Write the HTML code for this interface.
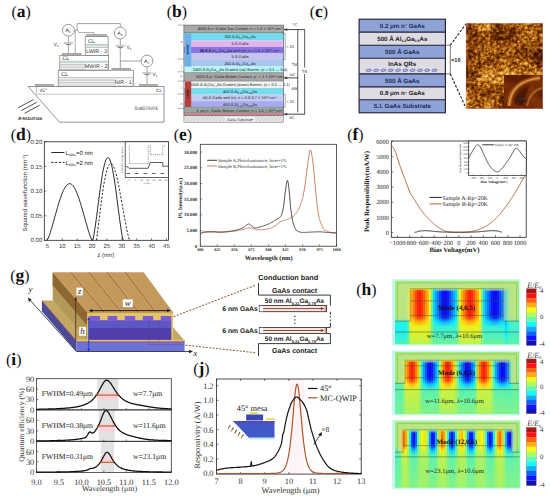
<!DOCTYPE html>
<html><head><meta charset="utf-8"><style>
html,body{margin:0;padding:0;background:#fff;}
svg{display:block;}
svg text{text-rendering:geometricPrecision;}

</style></head><body>
<svg width="550" height="498" viewBox="0 0 550 498">
<defs><pattern id="hatch" width="3" height="3" patternUnits="userSpaceOnUse" patternTransform="rotate(35)"><rect width="3" height="3" fill="#e6e6e6"/><line x1="0" y1="0" x2="0" y2="3" stroke="#b0b0b0" stroke-width="0.8"/></pattern>
<filter id="afm" x="0" y="0" width="1" height="1" color-interpolation-filters="sRGB">
<feTurbulence type="fractalNoise" baseFrequency="0.045" numOctaves="2" seed="5" result="lo0"/>
<feColorMatrix in="lo0" type="matrix" values="1 0 0 0 0  1 0 0 0 0  1 0 0 0 0  0 0 0 0 1" result="lo"/>
<feTurbulence type="fractalNoise" baseFrequency="0.32" numOctaves="2" seed="11" result="hi0"/>
<feColorMatrix in="hi0" type="matrix" values="1 0 0 0 0  1 0 0 0 0  1 0 0 0 0  0 0 0 0 1" result="hi"/>
<feComposite in="lo" in2="hi" operator="arithmetic" k1="0" k2="1.0" k3="1.1" k4="-0.5" result="mix"/>
<feColorMatrix in="mix" type="matrix" values="1 0 0 0 0  1 0 0 0 0  1 0 0 0 0  0 0 0 0 1" result="g"/>
<feComponentTransfer in="g"><feFuncR type="table" tableValues="0.18 0.25 0.36 0.5 0.65 0.8 0.9 0.96"/><feFuncG type="table" tableValues="0.06 0.09 0.14 0.23 0.36 0.52 0.67 0.8"/><feFuncB type="table" tableValues="0 0.01 0.02 0.03 0.07 0.14 0.27 0.42"/></feComponentTransfer>
</filter>
<filter id="afm2" x="0" y="0" width="1" height="1" color-interpolation-filters="sRGB">
<feTurbulence type="fractalNoise" baseFrequency="0.07" numOctaves="2" seed="3" result="n"/>
<feColorMatrix in="n" type="matrix" values="1 0 0 0 0  1 0 0 0 0  1 0 0 0 0  0 0 0 0 1" result="g"/>
<feComponentTransfer in="g"><feFuncR type="table" tableValues="0.3 0.38 0.5 0.66"/><feFuncG type="table" tableValues="0.08 0.12 0.2 0.32"/><feFuncB type="table" tableValues="0 0.01 0.03 0.05"/></feComponentTransfer>
</filter>
<linearGradient id="h1" x2="0" y2="1"><stop offset="0.000" stop-color="#99f272"/><stop offset="0.091" stop-color="#99f272"/><stop offset="0.123" stop-color="#99f272"/><stop offset="0.155" stop-color="#99f272"/><stop offset="0.202" stop-color="#99f272"/><stop offset="0.353" stop-color="#99f272"/><stop offset="0.536" stop-color="#99f272"/><stop offset="0.584" stop-color="#99f272"/><stop offset="0.647" stop-color="#20f2ec"/><stop offset="0.726" stop-color="#20f2ec"/><stop offset="0.820" stop-color="#21f2eb"/><stop offset="0.874" stop-color="#2ef2de"/><stop offset="1.000" stop-color="#51f2bb"/></linearGradient>
<linearGradient id="h2" x2="0" y2="1"><stop offset="0.000" stop-color="#99f272"/><stop offset="0.091" stop-color="#99f272"/><stop offset="0.123" stop-color="#99f272"/><stop offset="0.155" stop-color="#99f272"/><stop offset="0.202" stop-color="#99f272"/><stop offset="0.353" stop-color="#99f272"/><stop offset="0.536" stop-color="#99f272"/><stop offset="0.584" stop-color="#99f272"/><stop offset="0.647" stop-color="#20f2ec"/><stop offset="0.726" stop-color="#20f2ec"/><stop offset="0.820" stop-color="#21f2eb"/><stop offset="0.874" stop-color="#2ef2de"/><stop offset="1.000" stop-color="#51f2bb"/></linearGradient>
<linearGradient id="h3" x2="0" y2="1"><stop offset="0.000" stop-color="#99f272"/><stop offset="0.091" stop-color="#99f272"/><stop offset="0.123" stop-color="#99f272"/><stop offset="0.155" stop-color="#99f272"/><stop offset="0.202" stop-color="#99f272"/><stop offset="0.353" stop-color="#99f272"/><stop offset="0.536" stop-color="#99f272"/><stop offset="0.584" stop-color="#99f272"/><stop offset="0.647" stop-color="#20f2ec"/><stop offset="0.726" stop-color="#20f2ec"/><stop offset="0.820" stop-color="#21f2eb"/><stop offset="0.874" stop-color="#2ef2de"/><stop offset="1.000" stop-color="#51f2bb"/></linearGradient>
<linearGradient id="h4" x2="0" y2="1"><stop offset="0.000" stop-color="#99f272"/><stop offset="0.091" stop-color="#99f272"/><stop offset="0.123" stop-color="#99f272"/><stop offset="0.155" stop-color="#99f272"/><stop offset="0.202" stop-color="#99f272"/><stop offset="0.353" stop-color="#99f272"/><stop offset="0.536" stop-color="#99f272"/><stop offset="0.584" stop-color="#99f272"/><stop offset="0.647" stop-color="#20f2ec"/><stop offset="0.726" stop-color="#20f2ec"/><stop offset="0.820" stop-color="#21f2eb"/><stop offset="0.874" stop-color="#2ef2de"/><stop offset="1.000" stop-color="#51f2bb"/></linearGradient>
<linearGradient id="h5" x2="0" y2="1"><stop offset="0.000" stop-color="#99f272"/><stop offset="0.091" stop-color="#99f272"/><stop offset="0.123" stop-color="#99f272"/><stop offset="0.155" stop-color="#9af272"/><stop offset="0.202" stop-color="#9af272"/><stop offset="0.353" stop-color="#9af272"/><stop offset="0.536" stop-color="#9af272"/><stop offset="0.584" stop-color="#9af272"/><stop offset="0.647" stop-color="#20f2eb"/><stop offset="0.726" stop-color="#20f2ec"/><stop offset="0.820" stop-color="#21f2eb"/><stop offset="0.874" stop-color="#2ef2de"/><stop offset="1.000" stop-color="#51f2bb"/></linearGradient>
<linearGradient id="h6" x2="0" y2="1"><stop offset="0.000" stop-color="#99f272"/><stop offset="0.091" stop-color="#99f272"/><stop offset="0.123" stop-color="#9af272"/><stop offset="0.155" stop-color="#9cf26f"/><stop offset="0.202" stop-color="#9cf26f"/><stop offset="0.353" stop-color="#9cf26f"/><stop offset="0.536" stop-color="#9cf26f"/><stop offset="0.584" stop-color="#9cf270"/><stop offset="0.647" stop-color="#21f2ea"/><stop offset="0.726" stop-color="#20f2ec"/><stop offset="0.820" stop-color="#21f2eb"/><stop offset="0.874" stop-color="#2ef2de"/><stop offset="1.000" stop-color="#51f2bb"/></linearGradient>
<linearGradient id="h7" x2="0" y2="1"><stop offset="0.000" stop-color="#99f272"/><stop offset="0.091" stop-color="#99f272"/><stop offset="0.123" stop-color="#a2f26a"/><stop offset="0.155" stop-color="#c1f24a"/><stop offset="0.202" stop-color="#c4f248"/><stop offset="0.353" stop-color="#c4f248"/><stop offset="0.536" stop-color="#c4f248"/><stop offset="0.584" stop-color="#c0f24b"/><stop offset="0.647" stop-color="#51f2ba"/><stop offset="0.726" stop-color="#48f2c4"/><stop offset="0.820" stop-color="#46f2c6"/><stop offset="0.874" stop-color="#4ef2be"/><stop offset="1.000" stop-color="#64f2a8"/></linearGradient>
<linearGradient id="h8" x2="0" y2="1"><stop offset="0.000" stop-color="#99f272"/><stop offset="0.091" stop-color="#99f272"/><stop offset="0.123" stop-color="#b3f258"/><stop offset="0.155" stop-color="#ffdd0d"/><stop offset="0.202" stop-color="#ffd60d"/><stop offset="0.353" stop-color="#ffd60d"/><stop offset="0.536" stop-color="#ffd60d"/><stop offset="0.584" stop-color="#ffe00d"/><stop offset="0.647" stop-color="#e6f226"/><stop offset="0.726" stop-color="#c9f242"/><stop offset="0.820" stop-color="#c0f24c"/><stop offset="0.874" stop-color="#b9f252"/><stop offset="1.000" stop-color="#a8f263"/></linearGradient>
<linearGradient id="h9" x2="0" y2="1"><stop offset="0.000" stop-color="#99f272"/><stop offset="0.091" stop-color="#99f272"/><stop offset="0.123" stop-color="#bef24e"/><stop offset="0.155" stop-color="#ffad0d"/><stop offset="0.202" stop-color="#ffa30d"/><stop offset="0.353" stop-color="#ffa30d"/><stop offset="0.536" stop-color="#ffa40d"/><stop offset="0.584" stop-color="#ffb30d"/><stop offset="0.647" stop-color="#ffdb0d"/><stop offset="0.726" stop-color="#ebf221"/><stop offset="0.820" stop-color="#e0f22c"/><stop offset="0.874" stop-color="#d5f237"/><stop offset="1.000" stop-color="#baf252"/></linearGradient>
<linearGradient id="h10" x2="0" y2="1"><stop offset="0.000" stop-color="#99f272"/><stop offset="0.091" stop-color="#99f272"/><stop offset="0.123" stop-color="#c7f245"/><stop offset="0.155" stop-color="#ff850d"/><stop offset="0.202" stop-color="#ff790d"/><stop offset="0.353" stop-color="#ff790d"/><stop offset="0.536" stop-color="#ff7a0d"/><stop offset="0.584" stop-color="#ff8f0d"/><stop offset="0.647" stop-color="#ffcb0d"/><stop offset="0.726" stop-color="#ebf221"/><stop offset="0.820" stop-color="#e0f22c"/><stop offset="0.874" stop-color="#d5f237"/><stop offset="1.000" stop-color="#baf252"/></linearGradient>
<linearGradient id="h11" x2="0" y2="1"><stop offset="0.000" stop-color="#99f272"/><stop offset="0.091" stop-color="#99f272"/><stop offset="0.123" stop-color="#d1f23b"/><stop offset="0.155" stop-color="#ff580d"/><stop offset="0.202" stop-color="#ff490d"/><stop offset="0.353" stop-color="#ff490d"/><stop offset="0.536" stop-color="#ff4a0d"/><stop offset="0.584" stop-color="#ff670d"/><stop offset="0.647" stop-color="#ffb90d"/><stop offset="0.726" stop-color="#ebf221"/><stop offset="0.820" stop-color="#e0f22c"/><stop offset="0.874" stop-color="#d5f237"/><stop offset="1.000" stop-color="#baf252"/></linearGradient>
<linearGradient id="h12" x2="0" y2="1"><stop offset="0.000" stop-color="#99f272"/><stop offset="0.091" stop-color="#99f272"/><stop offset="0.123" stop-color="#d8f233"/><stop offset="0.155" stop-color="#ff360d"/><stop offset="0.202" stop-color="#ff250d"/><stop offset="0.353" stop-color="#ff250d"/><stop offset="0.536" stop-color="#ff250d"/><stop offset="0.584" stop-color="#ff480d"/><stop offset="0.647" stop-color="#ffac0d"/><stop offset="0.726" stop-color="#ebf221"/><stop offset="0.820" stop-color="#e0f22c"/><stop offset="0.874" stop-color="#d5f237"/><stop offset="1.000" stop-color="#baf252"/></linearGradient>
<linearGradient id="h13" x2="0" y2="1"><stop offset="0.000" stop-color="#99f272"/><stop offset="0.091" stop-color="#99f272"/><stop offset="0.123" stop-color="#daf232"/><stop offset="0.155" stop-color="#ff2e0d"/><stop offset="0.202" stop-color="#ff1d0d"/><stop offset="0.353" stop-color="#ff1d0d"/><stop offset="0.536" stop-color="#ff1d0d"/><stop offset="0.584" stop-color="#ff410d"/><stop offset="0.647" stop-color="#ffa90d"/><stop offset="0.726" stop-color="#ebf221"/><stop offset="0.820" stop-color="#e0f22c"/><stop offset="0.874" stop-color="#d5f237"/><stop offset="1.000" stop-color="#baf252"/></linearGradient>
<linearGradient id="h14" x2="0" y2="1"><stop offset="0.000" stop-color="#99f272"/><stop offset="0.091" stop-color="#99f272"/><stop offset="0.123" stop-color="#d5f237"/><stop offset="0.155" stop-color="#ff440d"/><stop offset="0.202" stop-color="#ff340d"/><stop offset="0.353" stop-color="#ff340d"/><stop offset="0.536" stop-color="#ff350d"/><stop offset="0.584" stop-color="#ff550d"/><stop offset="0.647" stop-color="#ffb20d"/><stop offset="0.726" stop-color="#ebf221"/><stop offset="0.820" stop-color="#e0f22c"/><stop offset="0.874" stop-color="#d5f237"/><stop offset="1.000" stop-color="#baf252"/></linearGradient>
<linearGradient id="h15" x2="0" y2="1"><stop offset="0.000" stop-color="#99f272"/><stop offset="0.091" stop-color="#99f272"/><stop offset="0.123" stop-color="#ccf240"/><stop offset="0.155" stop-color="#ff6e0d"/><stop offset="0.202" stop-color="#ff610d"/><stop offset="0.353" stop-color="#ff610d"/><stop offset="0.536" stop-color="#ff620d"/><stop offset="0.584" stop-color="#ff7b0d"/><stop offset="0.647" stop-color="#ffc20d"/><stop offset="0.726" stop-color="#ebf221"/><stop offset="0.820" stop-color="#e0f22c"/><stop offset="0.874" stop-color="#d5f237"/><stop offset="1.000" stop-color="#baf252"/></linearGradient>
<linearGradient id="h16" x2="0" y2="1"><stop offset="0.000" stop-color="#99f272"/><stop offset="0.091" stop-color="#99f272"/><stop offset="0.123" stop-color="#c2f24a"/><stop offset="0.155" stop-color="#ff9b0d"/><stop offset="0.202" stop-color="#ff900d"/><stop offset="0.353" stop-color="#ff900d"/><stop offset="0.536" stop-color="#ff910d"/><stop offset="0.584" stop-color="#ffa30d"/><stop offset="0.647" stop-color="#ffd40d"/><stop offset="0.726" stop-color="#ebf221"/><stop offset="0.820" stop-color="#e0f22c"/><stop offset="0.874" stop-color="#d5f237"/><stop offset="1.000" stop-color="#baf252"/></linearGradient>
<linearGradient id="h17" x2="0" y2="1"><stop offset="0.000" stop-color="#99f272"/><stop offset="0.091" stop-color="#99f272"/><stop offset="0.123" stop-color="#baf252"/><stop offset="0.155" stop-color="#ffc00d"/><stop offset="0.202" stop-color="#ffb70d"/><stop offset="0.353" stop-color="#ffb70d"/><stop offset="0.536" stop-color="#ffb80d"/><stop offset="0.584" stop-color="#ffc40d"/><stop offset="0.647" stop-color="#ffe40d"/><stop offset="0.726" stop-color="#eaf222"/><stop offset="0.820" stop-color="#dff22d"/><stop offset="0.874" stop-color="#d4f238"/><stop offset="1.000" stop-color="#b9f253"/></linearGradient>
<linearGradient id="h18" x2="0" y2="1"><stop offset="0.000" stop-color="#99f272"/><stop offset="0.091" stop-color="#99f272"/><stop offset="0.123" stop-color="#a9f263"/><stop offset="0.155" stop-color="#e5f227"/><stop offset="0.202" stop-color="#e9f222"/><stop offset="0.353" stop-color="#e9f222"/><stop offset="0.536" stop-color="#e9f223"/><stop offset="0.584" stop-color="#e4f228"/><stop offset="0.647" stop-color="#d6f236"/><stop offset="0.726" stop-color="#c6f246"/><stop offset="0.820" stop-color="#bff24c"/><stop offset="0.874" stop-color="#baf252"/><stop offset="1.000" stop-color="#abf261"/></linearGradient>
<linearGradient id="h19" x2="0" y2="1"><stop offset="0.000" stop-color="#99f272"/><stop offset="0.091" stop-color="#99f272"/><stop offset="0.123" stop-color="#8df27f"/><stop offset="0.155" stop-color="#5ff2ac"/><stop offset="0.202" stop-color="#5cf2b0"/><stop offset="0.353" stop-color="#5cf2b0"/><stop offset="0.536" stop-color="#5cf2b0"/><stop offset="0.584" stop-color="#60f2ab"/><stop offset="0.647" stop-color="#6cf2a0"/><stop offset="0.726" stop-color="#78f293"/><stop offset="0.820" stop-color="#7df28f"/><stop offset="0.874" stop-color="#81f28a"/><stop offset="1.000" stop-color="#8cf27f"/></linearGradient>
<linearGradient id="h20" x2="0" y2="1"><stop offset="0.000" stop-color="#99f272"/><stop offset="0.091" stop-color="#99f272"/><stop offset="0.123" stop-color="#77f295"/><stop offset="0.155" stop-color="#0ddbff"/><stop offset="0.202" stop-color="#0dd2ff"/><stop offset="0.353" stop-color="#0dd2ff"/><stop offset="0.536" stop-color="#0dd2ff"/><stop offset="0.584" stop-color="#0ddeff"/><stop offset="0.647" stop-color="#19f2f2"/><stop offset="0.726" stop-color="#3ff2cd"/><stop offset="0.820" stop-color="#4cf2c0"/><stop offset="0.874" stop-color="#57f2b4"/><stop offset="1.000" stop-color="#76f296"/></linearGradient>
<linearGradient id="h21" x2="0" y2="1"><stop offset="0.000" stop-color="#99f272"/><stop offset="0.091" stop-color="#99f272"/><stop offset="0.123" stop-color="#6df29e"/><stop offset="0.155" stop-color="#0db1ff"/><stop offset="0.202" stop-color="#0da5ff"/><stop offset="0.353" stop-color="#0da5ff"/><stop offset="0.536" stop-color="#0da6ff"/><stop offset="0.584" stop-color="#0db7ff"/><stop offset="0.647" stop-color="#0de7ff"/><stop offset="0.726" stop-color="#35f2d6"/><stop offset="0.820" stop-color="#44f2c8"/><stop offset="0.874" stop-color="#50f2bb"/><stop offset="1.000" stop-color="#72f29a"/></linearGradient>
<linearGradient id="h22" x2="0" y2="1"><stop offset="0.000" stop-color="#99f272"/><stop offset="0.091" stop-color="#99f272"/><stop offset="0.123" stop-color="#64f2a7"/><stop offset="0.155" stop-color="#0d89ff"/><stop offset="0.202" stop-color="#0d7bff"/><stop offset="0.353" stop-color="#0d7bff"/><stop offset="0.536" stop-color="#0d7bff"/><stop offset="0.584" stop-color="#0d93ff"/><stop offset="0.647" stop-color="#0dd7ff"/><stop offset="0.726" stop-color="#35f2d6"/><stop offset="0.820" stop-color="#44f2c8"/><stop offset="0.874" stop-color="#50f2bb"/><stop offset="1.000" stop-color="#72f29a"/></linearGradient>
<linearGradient id="h23" x2="0" y2="1"><stop offset="0.000" stop-color="#99f272"/><stop offset="0.091" stop-color="#99f272"/><stop offset="0.123" stop-color="#5af2b2"/><stop offset="0.155" stop-color="#0d5aff"/><stop offset="0.202" stop-color="#0d49ff"/><stop offset="0.353" stop-color="#0d49ff"/><stop offset="0.536" stop-color="#0d4aff"/><stop offset="0.584" stop-color="#0d69ff"/><stop offset="0.647" stop-color="#0dc5ff"/><stop offset="0.726" stop-color="#35f2d6"/><stop offset="0.820" stop-color="#44f2c8"/><stop offset="0.874" stop-color="#50f2bb"/><stop offset="1.000" stop-color="#72f29a"/></linearGradient>
<linearGradient id="h24" x2="0" y2="1"><stop offset="0.000" stop-color="#99f272"/><stop offset="0.091" stop-color="#99f272"/><stop offset="0.123" stop-color="#51f2bb"/><stop offset="0.155" stop-color="#0d2fff"/><stop offset="0.202" stop-color="#0d1bff"/><stop offset="0.353" stop-color="#0d1bff"/><stop offset="0.536" stop-color="#0d1cff"/><stop offset="0.584" stop-color="#0d43ff"/><stop offset="0.647" stop-color="#0db3ff"/><stop offset="0.726" stop-color="#35f2d6"/><stop offset="0.820" stop-color="#44f2c8"/><stop offset="0.874" stop-color="#50f2bb"/><stop offset="1.000" stop-color="#72f29a"/></linearGradient>
<linearGradient id="h25" x2="0" y2="1"><stop offset="0.000" stop-color="#99f272"/><stop offset="0.091" stop-color="#99f272"/><stop offset="0.123" stop-color="#4bf2c1"/><stop offset="0.155" stop-color="#0d15ff"/><stop offset="0.202" stop-color="#0d0cf2"/><stop offset="0.353" stop-color="#0d0cf2"/><stop offset="0.536" stop-color="#0d0cf3"/><stop offset="0.584" stop-color="#0d2cff"/><stop offset="0.647" stop-color="#0da9ff"/><stop offset="0.726" stop-color="#35f2d6"/><stop offset="0.820" stop-color="#44f2c8"/><stop offset="0.874" stop-color="#50f2bb"/><stop offset="1.000" stop-color="#72f29a"/></linearGradient>
<linearGradient id="h26" x2="0" y2="1"><stop offset="0.000" stop-color="#99f272"/><stop offset="0.091" stop-color="#99f272"/><stop offset="0.123" stop-color="#4bf2c1"/><stop offset="0.155" stop-color="#0d15ff"/><stop offset="0.202" stop-color="#0d0cf2"/><stop offset="0.353" stop-color="#0d0cf2"/><stop offset="0.536" stop-color="#0d0cf3"/><stop offset="0.584" stop-color="#0d2cff"/><stop offset="0.647" stop-color="#0da9ff"/><stop offset="0.726" stop-color="#35f2d6"/><stop offset="0.820" stop-color="#44f2c8"/><stop offset="0.874" stop-color="#50f2bb"/><stop offset="1.000" stop-color="#72f29a"/></linearGradient>
<linearGradient id="h27" x2="0" y2="1"><stop offset="0.000" stop-color="#99f272"/><stop offset="0.091" stop-color="#99f272"/><stop offset="0.123" stop-color="#51f2bb"/><stop offset="0.155" stop-color="#0d2fff"/><stop offset="0.202" stop-color="#0d1bff"/><stop offset="0.353" stop-color="#0d1bff"/><stop offset="0.536" stop-color="#0d1cff"/><stop offset="0.584" stop-color="#0d43ff"/><stop offset="0.647" stop-color="#0db3ff"/><stop offset="0.726" stop-color="#35f2d6"/><stop offset="0.820" stop-color="#44f2c8"/><stop offset="0.874" stop-color="#50f2bb"/><stop offset="1.000" stop-color="#72f29a"/></linearGradient>
<linearGradient id="h28" x2="0" y2="1"><stop offset="0.000" stop-color="#99f272"/><stop offset="0.091" stop-color="#99f272"/><stop offset="0.123" stop-color="#5af2b2"/><stop offset="0.155" stop-color="#0d5aff"/><stop offset="0.202" stop-color="#0d49ff"/><stop offset="0.353" stop-color="#0d49ff"/><stop offset="0.536" stop-color="#0d4aff"/><stop offset="0.584" stop-color="#0d69ff"/><stop offset="0.647" stop-color="#0dc5ff"/><stop offset="0.726" stop-color="#35f2d6"/><stop offset="0.820" stop-color="#44f2c8"/><stop offset="0.874" stop-color="#50f2bb"/><stop offset="1.000" stop-color="#72f29a"/></linearGradient>
<linearGradient id="h29" x2="0" y2="1"><stop offset="0.000" stop-color="#99f272"/><stop offset="0.091" stop-color="#99f272"/><stop offset="0.123" stop-color="#64f2a7"/><stop offset="0.155" stop-color="#0d89ff"/><stop offset="0.202" stop-color="#0d7bff"/><stop offset="0.353" stop-color="#0d7bff"/><stop offset="0.536" stop-color="#0d7bff"/><stop offset="0.584" stop-color="#0d93ff"/><stop offset="0.647" stop-color="#0dd7ff"/><stop offset="0.726" stop-color="#35f2d6"/><stop offset="0.820" stop-color="#44f2c8"/><stop offset="0.874" stop-color="#50f2bb"/><stop offset="1.000" stop-color="#72f29a"/></linearGradient>
<linearGradient id="h30" x2="0" y2="1"><stop offset="0.000" stop-color="#99f272"/><stop offset="0.091" stop-color="#99f272"/><stop offset="0.123" stop-color="#6df29e"/><stop offset="0.155" stop-color="#0db1ff"/><stop offset="0.202" stop-color="#0da5ff"/><stop offset="0.353" stop-color="#0da5ff"/><stop offset="0.536" stop-color="#0da6ff"/><stop offset="0.584" stop-color="#0db7ff"/><stop offset="0.647" stop-color="#0de7ff"/><stop offset="0.726" stop-color="#35f2d6"/><stop offset="0.820" stop-color="#44f2c8"/><stop offset="0.874" stop-color="#50f2bb"/><stop offset="1.000" stop-color="#72f29a"/></linearGradient>
<linearGradient id="h31" x2="0" y2="1"><stop offset="0.000" stop-color="#99f272"/><stop offset="0.091" stop-color="#99f272"/><stop offset="0.123" stop-color="#77f295"/><stop offset="0.155" stop-color="#0ddcff"/><stop offset="0.202" stop-color="#0dd3ff"/><stop offset="0.353" stop-color="#0dd3ff"/><stop offset="0.536" stop-color="#0dd3ff"/><stop offset="0.584" stop-color="#0ddfff"/><stop offset="0.647" stop-color="#1af2f2"/><stop offset="0.726" stop-color="#3ff2cd"/><stop offset="0.820" stop-color="#4cf2c0"/><stop offset="0.874" stop-color="#57f2b4"/><stop offset="1.000" stop-color="#76f296"/></linearGradient>
<linearGradient id="h32" x2="0" y2="1"><stop offset="0.000" stop-color="#99f272"/><stop offset="0.091" stop-color="#99f272"/><stop offset="0.123" stop-color="#90f27c"/><stop offset="0.155" stop-color="#6cf2a0"/><stop offset="0.202" stop-color="#69f2a3"/><stop offset="0.353" stop-color="#69f2a3"/><stop offset="0.536" stop-color="#69f2a3"/><stop offset="0.584" stop-color="#6df29f"/><stop offset="0.647" stop-color="#76f296"/><stop offset="0.726" stop-color="#80f28c"/><stop offset="0.820" stop-color="#83f288"/><stop offset="0.874" stop-color="#87f285"/><stop offset="1.000" stop-color="#8ff27d"/></linearGradient>
<linearGradient id="h33" x2="0" y2="1"><stop offset="0.000" stop-color="#99f272"/><stop offset="0.091" stop-color="#99f272"/><stop offset="0.123" stop-color="#aef25e"/><stop offset="0.155" stop-color="#fbf211"/><stop offset="0.202" stop-color="#fff10d"/><stop offset="0.353" stop-color="#fff10d"/><stop offset="0.536" stop-color="#fff10d"/><stop offset="0.584" stop-color="#f9f213"/><stop offset="0.647" stop-color="#e7f225"/><stop offset="0.726" stop-color="#d2f23a"/><stop offset="0.820" stop-color="#caf242"/><stop offset="0.874" stop-color="#c2f249"/><stop offset="1.000" stop-color="#aff25c"/></linearGradient>
<linearGradient id="h34" x2="0" y2="1"><stop offset="0.000" stop-color="#99f272"/><stop offset="0.091" stop-color="#99f272"/><stop offset="0.123" stop-color="#bcf250"/><stop offset="0.155" stop-color="#ffb70d"/><stop offset="0.202" stop-color="#ffae0d"/><stop offset="0.353" stop-color="#ffae0d"/><stop offset="0.536" stop-color="#ffae0d"/><stop offset="0.584" stop-color="#ffbc0d"/><stop offset="0.647" stop-color="#ffdf0d"/><stop offset="0.726" stop-color="#ebf221"/><stop offset="0.820" stop-color="#e0f22c"/><stop offset="0.874" stop-color="#d5f237"/><stop offset="1.000" stop-color="#baf252"/></linearGradient>
<linearGradient id="h35" x2="0" y2="1"><stop offset="0.000" stop-color="#99f272"/><stop offset="0.091" stop-color="#99f272"/><stop offset="0.123" stop-color="#c4f248"/><stop offset="0.155" stop-color="#ff910d"/><stop offset="0.202" stop-color="#ff850d"/><stop offset="0.353" stop-color="#ff850d"/><stop offset="0.536" stop-color="#ff860d"/><stop offset="0.584" stop-color="#ff990d"/><stop offset="0.647" stop-color="#ffd00d"/><stop offset="0.726" stop-color="#ebf221"/><stop offset="0.820" stop-color="#e0f22c"/><stop offset="0.874" stop-color="#d5f237"/><stop offset="1.000" stop-color="#baf252"/></linearGradient>
<linearGradient id="h36" x2="0" y2="1"><stop offset="0.000" stop-color="#99f272"/><stop offset="0.091" stop-color="#99f272"/><stop offset="0.123" stop-color="#cef23e"/><stop offset="0.155" stop-color="#ff630d"/><stop offset="0.202" stop-color="#ff550d"/><stop offset="0.353" stop-color="#ff550d"/><stop offset="0.536" stop-color="#ff550d"/><stop offset="0.584" stop-color="#ff700d"/><stop offset="0.647" stop-color="#ffbe0d"/><stop offset="0.726" stop-color="#ebf221"/><stop offset="0.820" stop-color="#e0f22c"/><stop offset="0.874" stop-color="#d5f237"/><stop offset="1.000" stop-color="#baf252"/></linearGradient>
<linearGradient id="h37" x2="0" y2="1"><stop offset="0.000" stop-color="#99f272"/><stop offset="0.091" stop-color="#99f272"/><stop offset="0.123" stop-color="#d7f235"/><stop offset="0.155" stop-color="#ff3c0d"/><stop offset="0.202" stop-color="#ff2c0d"/><stop offset="0.353" stop-color="#ff2c0d"/><stop offset="0.536" stop-color="#ff2c0d"/><stop offset="0.584" stop-color="#ff4e0d"/><stop offset="0.647" stop-color="#ffae0d"/><stop offset="0.726" stop-color="#ebf221"/><stop offset="0.820" stop-color="#e0f22c"/><stop offset="0.874" stop-color="#d5f237"/><stop offset="1.000" stop-color="#baf252"/></linearGradient>
<linearGradient id="h38" x2="0" y2="1"><stop offset="0.000" stop-color="#99f272"/><stop offset="0.091" stop-color="#99f272"/><stop offset="0.123" stop-color="#daf232"/><stop offset="0.155" stop-color="#ff2d0d"/><stop offset="0.202" stop-color="#ff1c0d"/><stop offset="0.353" stop-color="#ff1c0d"/><stop offset="0.536" stop-color="#ff1c0d"/><stop offset="0.584" stop-color="#ff400d"/><stop offset="0.647" stop-color="#ffa80d"/><stop offset="0.726" stop-color="#ebf221"/><stop offset="0.820" stop-color="#e0f22c"/><stop offset="0.874" stop-color="#d5f237"/><stop offset="1.000" stop-color="#baf252"/></linearGradient>
<linearGradient id="h39" x2="0" y2="1"><stop offset="0.000" stop-color="#99f272"/><stop offset="0.091" stop-color="#99f272"/><stop offset="0.123" stop-color="#d7f235"/><stop offset="0.155" stop-color="#ff3c0d"/><stop offset="0.202" stop-color="#ff2c0d"/><stop offset="0.353" stop-color="#ff2c0d"/><stop offset="0.536" stop-color="#ff2c0d"/><stop offset="0.584" stop-color="#ff4e0d"/><stop offset="0.647" stop-color="#ffae0d"/><stop offset="0.726" stop-color="#ebf221"/><stop offset="0.820" stop-color="#e0f22c"/><stop offset="0.874" stop-color="#d5f237"/><stop offset="1.000" stop-color="#baf252"/></linearGradient>
<linearGradient id="h40" x2="0" y2="1"><stop offset="0.000" stop-color="#99f272"/><stop offset="0.091" stop-color="#99f272"/><stop offset="0.123" stop-color="#cef23e"/><stop offset="0.155" stop-color="#ff630d"/><stop offset="0.202" stop-color="#ff550d"/><stop offset="0.353" stop-color="#ff550d"/><stop offset="0.536" stop-color="#ff550d"/><stop offset="0.584" stop-color="#ff700d"/><stop offset="0.647" stop-color="#ffbe0d"/><stop offset="0.726" stop-color="#ebf221"/><stop offset="0.820" stop-color="#e0f22c"/><stop offset="0.874" stop-color="#d5f237"/><stop offset="1.000" stop-color="#baf252"/></linearGradient>
<linearGradient id="h41" x2="0" y2="1"><stop offset="0.000" stop-color="#99f272"/><stop offset="0.091" stop-color="#99f272"/><stop offset="0.123" stop-color="#c4f248"/><stop offset="0.155" stop-color="#ff910d"/><stop offset="0.202" stop-color="#ff850d"/><stop offset="0.353" stop-color="#ff850d"/><stop offset="0.536" stop-color="#ff860d"/><stop offset="0.584" stop-color="#ff990d"/><stop offset="0.647" stop-color="#ffd00d"/><stop offset="0.726" stop-color="#ebf221"/><stop offset="0.820" stop-color="#e0f22c"/><stop offset="0.874" stop-color="#d5f237"/><stop offset="1.000" stop-color="#baf252"/></linearGradient>
<linearGradient id="h42" x2="0" y2="1"><stop offset="0.000" stop-color="#99f272"/><stop offset="0.091" stop-color="#99f272"/><stop offset="0.123" stop-color="#bcf250"/><stop offset="0.155" stop-color="#ffb70d"/><stop offset="0.202" stop-color="#ffae0d"/><stop offset="0.353" stop-color="#ffae0d"/><stop offset="0.536" stop-color="#ffae0d"/><stop offset="0.584" stop-color="#ffbc0d"/><stop offset="0.647" stop-color="#ffdf0d"/><stop offset="0.726" stop-color="#ebf221"/><stop offset="0.820" stop-color="#e0f22c"/><stop offset="0.874" stop-color="#d5f237"/><stop offset="1.000" stop-color="#baf252"/></linearGradient>
<linearGradient id="h43" x2="0" y2="1"><stop offset="0.000" stop-color="#99f272"/><stop offset="0.091" stop-color="#99f272"/><stop offset="0.123" stop-color="#aef25e"/><stop offset="0.155" stop-color="#fbf211"/><stop offset="0.202" stop-color="#fff10d"/><stop offset="0.353" stop-color="#fff10d"/><stop offset="0.536" stop-color="#fff10d"/><stop offset="0.584" stop-color="#f9f213"/><stop offset="0.647" stop-color="#e7f225"/><stop offset="0.726" stop-color="#d2f23a"/><stop offset="0.820" stop-color="#caf242"/><stop offset="0.874" stop-color="#c2f249"/><stop offset="1.000" stop-color="#aff25c"/></linearGradient>
<linearGradient id="h44" x2="0" y2="1"><stop offset="0.000" stop-color="#99f272"/><stop offset="0.091" stop-color="#99f272"/><stop offset="0.123" stop-color="#90f27c"/><stop offset="0.155" stop-color="#6cf2a0"/><stop offset="0.202" stop-color="#69f2a3"/><stop offset="0.353" stop-color="#69f2a3"/><stop offset="0.536" stop-color="#69f2a3"/><stop offset="0.584" stop-color="#6df29f"/><stop offset="0.647" stop-color="#76f296"/><stop offset="0.726" stop-color="#80f28c"/><stop offset="0.820" stop-color="#83f288"/><stop offset="0.874" stop-color="#87f285"/><stop offset="1.000" stop-color="#8ff27d"/></linearGradient>
<linearGradient id="h45" x2="0" y2="1"><stop offset="0.000" stop-color="#99f272"/><stop offset="0.091" stop-color="#99f272"/><stop offset="0.123" stop-color="#77f295"/><stop offset="0.155" stop-color="#0ddcff"/><stop offset="0.202" stop-color="#0dd3ff"/><stop offset="0.353" stop-color="#0dd3ff"/><stop offset="0.536" stop-color="#0dd3ff"/><stop offset="0.584" stop-color="#0ddfff"/><stop offset="0.647" stop-color="#1af2f2"/><stop offset="0.726" stop-color="#3ff2cd"/><stop offset="0.820" stop-color="#4cf2c0"/><stop offset="0.874" stop-color="#57f2b4"/><stop offset="1.000" stop-color="#76f296"/></linearGradient>
<linearGradient id="h46" x2="0" y2="1"><stop offset="0.000" stop-color="#99f272"/><stop offset="0.091" stop-color="#99f272"/><stop offset="0.123" stop-color="#6df29e"/><stop offset="0.155" stop-color="#0db1ff"/><stop offset="0.202" stop-color="#0da5ff"/><stop offset="0.353" stop-color="#0da5ff"/><stop offset="0.536" stop-color="#0da6ff"/><stop offset="0.584" stop-color="#0db7ff"/><stop offset="0.647" stop-color="#0de7ff"/><stop offset="0.726" stop-color="#35f2d6"/><stop offset="0.820" stop-color="#44f2c8"/><stop offset="0.874" stop-color="#50f2bb"/><stop offset="1.000" stop-color="#72f29a"/></linearGradient>
<linearGradient id="h47" x2="0" y2="1"><stop offset="0.000" stop-color="#99f272"/><stop offset="0.091" stop-color="#99f272"/><stop offset="0.123" stop-color="#64f2a7"/><stop offset="0.155" stop-color="#0d89ff"/><stop offset="0.202" stop-color="#0d7bff"/><stop offset="0.353" stop-color="#0d7bff"/><stop offset="0.536" stop-color="#0d7bff"/><stop offset="0.584" stop-color="#0d93ff"/><stop offset="0.647" stop-color="#0dd7ff"/><stop offset="0.726" stop-color="#35f2d6"/><stop offset="0.820" stop-color="#44f2c8"/><stop offset="0.874" stop-color="#50f2bb"/><stop offset="1.000" stop-color="#72f29a"/></linearGradient>
<linearGradient id="h48" x2="0" y2="1"><stop offset="0.000" stop-color="#99f272"/><stop offset="0.091" stop-color="#99f272"/><stop offset="0.123" stop-color="#5af2b2"/><stop offset="0.155" stop-color="#0d5aff"/><stop offset="0.202" stop-color="#0d49ff"/><stop offset="0.353" stop-color="#0d49ff"/><stop offset="0.536" stop-color="#0d4aff"/><stop offset="0.584" stop-color="#0d69ff"/><stop offset="0.647" stop-color="#0dc5ff"/><stop offset="0.726" stop-color="#35f2d6"/><stop offset="0.820" stop-color="#44f2c8"/><stop offset="0.874" stop-color="#50f2bb"/><stop offset="1.000" stop-color="#72f29a"/></linearGradient>
<linearGradient id="h49" x2="0" y2="1"><stop offset="0.000" stop-color="#99f272"/><stop offset="0.091" stop-color="#99f272"/><stop offset="0.123" stop-color="#51f2bb"/><stop offset="0.155" stop-color="#0d2fff"/><stop offset="0.202" stop-color="#0d1bff"/><stop offset="0.353" stop-color="#0d1bff"/><stop offset="0.536" stop-color="#0d1cff"/><stop offset="0.584" stop-color="#0d43ff"/><stop offset="0.647" stop-color="#0db3ff"/><stop offset="0.726" stop-color="#35f2d6"/><stop offset="0.820" stop-color="#44f2c8"/><stop offset="0.874" stop-color="#50f2bb"/><stop offset="1.000" stop-color="#72f29a"/></linearGradient>
<linearGradient id="h50" x2="0" y2="1"><stop offset="0.000" stop-color="#99f272"/><stop offset="0.091" stop-color="#99f272"/><stop offset="0.123" stop-color="#4bf2c1"/><stop offset="0.155" stop-color="#0d15ff"/><stop offset="0.202" stop-color="#0d0cf2"/><stop offset="0.353" stop-color="#0d0cf2"/><stop offset="0.536" stop-color="#0d0cf3"/><stop offset="0.584" stop-color="#0d2cff"/><stop offset="0.647" stop-color="#0da9ff"/><stop offset="0.726" stop-color="#35f2d6"/><stop offset="0.820" stop-color="#44f2c8"/><stop offset="0.874" stop-color="#50f2bb"/><stop offset="1.000" stop-color="#72f29a"/></linearGradient>
<linearGradient id="h51" x2="0" y2="1"><stop offset="0.000" stop-color="#99f272"/><stop offset="0.091" stop-color="#99f272"/><stop offset="0.123" stop-color="#4bf2c1"/><stop offset="0.155" stop-color="#0d15ff"/><stop offset="0.202" stop-color="#0d0cf2"/><stop offset="0.353" stop-color="#0d0cf2"/><stop offset="0.536" stop-color="#0d0cf3"/><stop offset="0.584" stop-color="#0d2cff"/><stop offset="0.647" stop-color="#0da9ff"/><stop offset="0.726" stop-color="#35f2d6"/><stop offset="0.820" stop-color="#44f2c8"/><stop offset="0.874" stop-color="#50f2bb"/><stop offset="1.000" stop-color="#72f29a"/></linearGradient>
<linearGradient id="h52" x2="0" y2="1"><stop offset="0.000" stop-color="#99f272"/><stop offset="0.091" stop-color="#99f272"/><stop offset="0.123" stop-color="#51f2bb"/><stop offset="0.155" stop-color="#0d2fff"/><stop offset="0.202" stop-color="#0d1bff"/><stop offset="0.353" stop-color="#0d1bff"/><stop offset="0.536" stop-color="#0d1cff"/><stop offset="0.584" stop-color="#0d43ff"/><stop offset="0.647" stop-color="#0db3ff"/><stop offset="0.726" stop-color="#35f2d6"/><stop offset="0.820" stop-color="#44f2c8"/><stop offset="0.874" stop-color="#50f2bb"/><stop offset="1.000" stop-color="#72f29a"/></linearGradient>
<linearGradient id="h53" x2="0" y2="1"><stop offset="0.000" stop-color="#99f272"/><stop offset="0.091" stop-color="#99f272"/><stop offset="0.123" stop-color="#5af2b2"/><stop offset="0.155" stop-color="#0d5aff"/><stop offset="0.202" stop-color="#0d49ff"/><stop offset="0.353" stop-color="#0d49ff"/><stop offset="0.536" stop-color="#0d4aff"/><stop offset="0.584" stop-color="#0d69ff"/><stop offset="0.647" stop-color="#0dc5ff"/><stop offset="0.726" stop-color="#35f2d6"/><stop offset="0.820" stop-color="#44f2c8"/><stop offset="0.874" stop-color="#50f2bb"/><stop offset="1.000" stop-color="#72f29a"/></linearGradient>
<linearGradient id="h54" x2="0" y2="1"><stop offset="0.000" stop-color="#99f272"/><stop offset="0.091" stop-color="#99f272"/><stop offset="0.123" stop-color="#64f2a7"/><stop offset="0.155" stop-color="#0d88ff"/><stop offset="0.202" stop-color="#0d7aff"/><stop offset="0.353" stop-color="#0d7aff"/><stop offset="0.536" stop-color="#0d7bff"/><stop offset="0.584" stop-color="#0d93ff"/><stop offset="0.647" stop-color="#0dd7ff"/><stop offset="0.726" stop-color="#35f2d6"/><stop offset="0.820" stop-color="#44f2c8"/><stop offset="0.874" stop-color="#50f2bb"/><stop offset="1.000" stop-color="#72f29a"/></linearGradient>
<linearGradient id="h55" x2="0" y2="1"><stop offset="0.000" stop-color="#99f272"/><stop offset="0.091" stop-color="#99f272"/><stop offset="0.123" stop-color="#6df29f"/><stop offset="0.155" stop-color="#0db0ff"/><stop offset="0.202" stop-color="#0da5ff"/><stop offset="0.353" stop-color="#0da5ff"/><stop offset="0.536" stop-color="#0da5ff"/><stop offset="0.584" stop-color="#0db7ff"/><stop offset="0.647" stop-color="#0ddaff"/><stop offset="0.726" stop-color="#28f2e4"/><stop offset="0.820" stop-color="#36f2d5"/><stop offset="0.874" stop-color="#45f2c7"/><stop offset="1.000" stop-color="#6af2a2"/></linearGradient>
<linearGradient id="h56" x2="0" y2="1"><stop offset="0.000" stop-color="#99f272"/><stop offset="0.091" stop-color="#99f272"/><stop offset="0.123" stop-color="#76f295"/><stop offset="0.155" stop-color="#0ddaff"/><stop offset="0.202" stop-color="#0dd0ff"/><stop offset="0.353" stop-color="#0dd0ff"/><stop offset="0.536" stop-color="#0dd1ff"/><stop offset="0.584" stop-color="#0dddff"/><stop offset="0.647" stop-color="#0dbaff"/><stop offset="0.726" stop-color="#0ddeff"/><stop offset="0.820" stop-color="#0debff"/><stop offset="0.874" stop-color="#18f2f4"/><stop offset="1.000" stop-color="#4bf2c1"/></linearGradient>
<linearGradient id="h57" x2="0" y2="1"><stop offset="0.000" stop-color="#99f272"/><stop offset="0.091" stop-color="#99f272"/><stop offset="0.123" stop-color="#8bf281"/><stop offset="0.155" stop-color="#54f2b7"/><stop offset="0.202" stop-color="#50f2bb"/><stop offset="0.353" stop-color="#50f2bb"/><stop offset="0.536" stop-color="#51f2bb"/><stop offset="0.584" stop-color="#56f2b6"/><stop offset="0.647" stop-color="#10f2fc"/><stop offset="0.726" stop-color="#20f2ec"/><stop offset="0.820" stop-color="#26f2e6"/><stop offset="0.874" stop-color="#34f2d8"/><stop offset="1.000" stop-color="#58f2b4"/></linearGradient>
<linearGradient id="h58" x2="0" y2="1"><stop offset="0.000" stop-color="#99f272"/><stop offset="0.091" stop-color="#99f272"/><stop offset="0.123" stop-color="#98f274"/><stop offset="0.155" stop-color="#93f278"/><stop offset="0.202" stop-color="#93f279"/><stop offset="0.353" stop-color="#93f279"/><stop offset="0.536" stop-color="#93f279"/><stop offset="0.584" stop-color="#94f278"/><stop offset="0.647" stop-color="#42f2ca"/><stop offset="0.726" stop-color="#44f2c7"/><stop offset="0.820" stop-color="#45f2c7"/><stop offset="0.874" stop-color="#4ef2be"/><stop offset="1.000" stop-color="#66f2a5"/></linearGradient>
<linearGradient id="h59" x2="0" y2="1"><stop offset="0.000" stop-color="#99f272"/><stop offset="0.091" stop-color="#99f272"/><stop offset="0.123" stop-color="#99f273"/><stop offset="0.155" stop-color="#97f275"/><stop offset="0.202" stop-color="#97f275"/><stop offset="0.353" stop-color="#97f275"/><stop offset="0.536" stop-color="#97f275"/><stop offset="0.584" stop-color="#97f274"/><stop offset="0.647" stop-color="#44f2c8"/><stop offset="0.726" stop-color="#44f2c7"/><stop offset="0.820" stop-color="#45f2c7"/><stop offset="0.874" stop-color="#4ef2be"/><stop offset="1.000" stop-color="#66f2a5"/></linearGradient>
<linearGradient id="h60" x2="0" y2="1"><stop offset="0.000" stop-color="#99f272"/><stop offset="0.091" stop-color="#99f272"/><stop offset="0.123" stop-color="#99f273"/><stop offset="0.155" stop-color="#99f273"/><stop offset="0.202" stop-color="#99f273"/><stop offset="0.353" stop-color="#99f273"/><stop offset="0.536" stop-color="#99f273"/><stop offset="0.584" stop-color="#99f273"/><stop offset="0.647" stop-color="#44f2c8"/><stop offset="0.726" stop-color="#44f2c7"/><stop offset="0.820" stop-color="#45f2c7"/><stop offset="0.874" stop-color="#4ef2be"/><stop offset="1.000" stop-color="#66f2a5"/></linearGradient>
<linearGradient id="h61" x2="0" y2="1"><stop offset="0.000" stop-color="#99f272"/><stop offset="0.091" stop-color="#99f272"/><stop offset="0.123" stop-color="#99f273"/><stop offset="0.155" stop-color="#99f273"/><stop offset="0.202" stop-color="#99f273"/><stop offset="0.353" stop-color="#99f273"/><stop offset="0.536" stop-color="#99f273"/><stop offset="0.584" stop-color="#99f273"/><stop offset="0.647" stop-color="#44f2c7"/><stop offset="0.726" stop-color="#44f2c7"/><stop offset="0.820" stop-color="#45f2c7"/><stop offset="0.874" stop-color="#4ef2be"/><stop offset="1.000" stop-color="#66f2a5"/></linearGradient>
<linearGradient id="h62" x2="0" y2="1"><stop offset="0.000" stop-color="#99f272"/><stop offset="0.091" stop-color="#99f272"/><stop offset="0.123" stop-color="#99f273"/><stop offset="0.155" stop-color="#99f273"/><stop offset="0.202" stop-color="#99f273"/><stop offset="0.353" stop-color="#99f273"/><stop offset="0.536" stop-color="#99f273"/><stop offset="0.584" stop-color="#99f273"/><stop offset="0.647" stop-color="#44f2c7"/><stop offset="0.726" stop-color="#44f2c7"/><stop offset="0.820" stop-color="#45f2c7"/><stop offset="0.874" stop-color="#4ef2be"/><stop offset="1.000" stop-color="#66f2a5"/></linearGradient>
<linearGradient id="h63" x2="0" y2="1"><stop offset="0.000" stop-color="#99f272"/><stop offset="0.100" stop-color="#99f272"/><stop offset="0.132" stop-color="#99f272"/><stop offset="0.165" stop-color="#99f272"/><stop offset="0.213" stop-color="#99f272"/><stop offset="0.296" stop-color="#99f272"/><stop offset="0.411" stop-color="#99f272"/><stop offset="0.460" stop-color="#99f272"/><stop offset="0.524" stop-color="#5df2af"/><stop offset="0.605" stop-color="#5df2af"/><stop offset="0.702" stop-color="#5df2af"/><stop offset="0.871" stop-color="#6cf2a0"/><stop offset="1.000" stop-color="#75f297"/></linearGradient>
<linearGradient id="h64" x2="0" y2="1"><stop offset="0.000" stop-color="#99f272"/><stop offset="0.100" stop-color="#99f272"/><stop offset="0.132" stop-color="#99f272"/><stop offset="0.165" stop-color="#99f272"/><stop offset="0.213" stop-color="#99f272"/><stop offset="0.296" stop-color="#99f272"/><stop offset="0.411" stop-color="#99f272"/><stop offset="0.460" stop-color="#99f272"/><stop offset="0.524" stop-color="#5df2af"/><stop offset="0.605" stop-color="#5df2af"/><stop offset="0.702" stop-color="#5df2af"/><stop offset="0.871" stop-color="#6cf2a0"/><stop offset="1.000" stop-color="#75f297"/></linearGradient>
<linearGradient id="h65" x2="0" y2="1"><stop offset="0.000" stop-color="#99f272"/><stop offset="0.100" stop-color="#99f272"/><stop offset="0.132" stop-color="#99f272"/><stop offset="0.165" stop-color="#9af272"/><stop offset="0.213" stop-color="#9af272"/><stop offset="0.296" stop-color="#9af272"/><stop offset="0.411" stop-color="#9af272"/><stop offset="0.460" stop-color="#9af272"/><stop offset="0.524" stop-color="#5df2af"/><stop offset="0.605" stop-color="#5df2af"/><stop offset="0.702" stop-color="#5df2af"/><stop offset="0.871" stop-color="#6cf2a0"/><stop offset="1.000" stop-color="#75f297"/></linearGradient>
<linearGradient id="h66" x2="0" y2="1"><stop offset="0.000" stop-color="#99f272"/><stop offset="0.100" stop-color="#99f272"/><stop offset="0.132" stop-color="#9af272"/><stop offset="0.165" stop-color="#9bf270"/><stop offset="0.213" stop-color="#9cf270"/><stop offset="0.296" stop-color="#9cf270"/><stop offset="0.411" stop-color="#9cf270"/><stop offset="0.460" stop-color="#9bf271"/><stop offset="0.524" stop-color="#60f2ac"/><stop offset="0.605" stop-color="#5ff2ac"/><stop offset="0.702" stop-color="#5ff2ac"/><stop offset="0.871" stop-color="#6ef29e"/><stop offset="1.000" stop-color="#76f295"/></linearGradient>
<linearGradient id="h67" x2="0" y2="1"><stop offset="0.000" stop-color="#99f272"/><stop offset="0.100" stop-color="#99f272"/><stop offset="0.132" stop-color="#a2f269"/><stop offset="0.165" stop-color="#c4f247"/><stop offset="0.213" stop-color="#c7f245"/><stop offset="0.296" stop-color="#c7f245"/><stop offset="0.411" stop-color="#c7f245"/><stop offset="0.460" stop-color="#c2f24a"/><stop offset="0.524" stop-color="#a3f269"/><stop offset="0.605" stop-color="#96f276"/><stop offset="0.702" stop-color="#91f27a"/><stop offset="0.871" stop-color="#92f279"/><stop offset="1.000" stop-color="#93f279"/></linearGradient>
<linearGradient id="h68" x2="0" y2="1"><stop offset="0.000" stop-color="#99f272"/><stop offset="0.100" stop-color="#99f272"/><stop offset="0.132" stop-color="#baf252"/><stop offset="0.165" stop-color="#ffbf0d"/><stop offset="0.213" stop-color="#ffb60d"/><stop offset="0.296" stop-color="#ffb60d"/><stop offset="0.411" stop-color="#ffb70d"/><stop offset="0.460" stop-color="#ffc60d"/><stop offset="0.524" stop-color="#ffef0d"/><stop offset="0.605" stop-color="#d2f239"/><stop offset="0.702" stop-color="#c2f249"/><stop offset="0.871" stop-color="#b4f258"/><stop offset="1.000" stop-color="#acf260"/></linearGradient>
<linearGradient id="h69" x2="0" y2="1"><stop offset="0.000" stop-color="#99f272"/><stop offset="0.100" stop-color="#99f272"/><stop offset="0.132" stop-color="#c6f246"/><stop offset="0.165" stop-color="#ff870d"/><stop offset="0.213" stop-color="#ff7b0d"/><stop offset="0.296" stop-color="#ff7b0d"/><stop offset="0.411" stop-color="#ff7c0d"/><stop offset="0.460" stop-color="#ff940d"/><stop offset="0.524" stop-color="#ffd80d"/><stop offset="0.605" stop-color="#d4f238"/><stop offset="0.702" stop-color="#c4f248"/><stop offset="0.871" stop-color="#b5f257"/><stop offset="1.000" stop-color="#adf25f"/></linearGradient>
<linearGradient id="h70" x2="0" y2="1"><stop offset="0.000" stop-color="#99f272"/><stop offset="0.100" stop-color="#99f272"/><stop offset="0.132" stop-color="#d4f238"/><stop offset="0.165" stop-color="#ff4a0d"/><stop offset="0.213" stop-color="#ff3a0d"/><stop offset="0.296" stop-color="#ff3a0d"/><stop offset="0.411" stop-color="#ff3b0d"/><stop offset="0.460" stop-color="#ff5d0d"/><stop offset="0.524" stop-color="#ffbf0d"/><stop offset="0.605" stop-color="#d4f238"/><stop offset="0.702" stop-color="#c4f248"/><stop offset="0.871" stop-color="#b5f257"/><stop offset="1.000" stop-color="#adf25f"/></linearGradient>
<linearGradient id="h71" x2="0" y2="1"><stop offset="0.000" stop-color="#99f272"/><stop offset="0.100" stop-color="#99f272"/><stop offset="0.132" stop-color="#daf232"/><stop offset="0.165" stop-color="#ff2d0d"/><stop offset="0.213" stop-color="#ff1c0d"/><stop offset="0.296" stop-color="#ff1c0d"/><stop offset="0.411" stop-color="#ff1c0d"/><stop offset="0.460" stop-color="#ff430d"/><stop offset="0.524" stop-color="#ffb40d"/><stop offset="0.605" stop-color="#d4f238"/><stop offset="0.702" stop-color="#c4f248"/><stop offset="0.871" stop-color="#b5f257"/><stop offset="1.000" stop-color="#adf25f"/></linearGradient>
<linearGradient id="h72" x2="0" y2="1"><stop offset="0.000" stop-color="#99f272"/><stop offset="0.100" stop-color="#99f272"/><stop offset="0.132" stop-color="#d4f238"/><stop offset="0.165" stop-color="#ff4a0d"/><stop offset="0.213" stop-color="#ff3a0d"/><stop offset="0.296" stop-color="#ff3a0d"/><stop offset="0.411" stop-color="#ff3b0d"/><stop offset="0.460" stop-color="#ff5d0d"/><stop offset="0.524" stop-color="#ffbf0d"/><stop offset="0.605" stop-color="#d4f238"/><stop offset="0.702" stop-color="#c4f248"/><stop offset="0.871" stop-color="#b5f257"/><stop offset="1.000" stop-color="#adf25f"/></linearGradient>
<linearGradient id="h73" x2="0" y2="1"><stop offset="0.000" stop-color="#99f272"/><stop offset="0.100" stop-color="#99f272"/><stop offset="0.132" stop-color="#c6f246"/><stop offset="0.165" stop-color="#ff880d"/><stop offset="0.213" stop-color="#ff7c0d"/><stop offset="0.296" stop-color="#ff7c0d"/><stop offset="0.411" stop-color="#ff7d0d"/><stop offset="0.460" stop-color="#ff950d"/><stop offset="0.524" stop-color="#ffd80d"/><stop offset="0.605" stop-color="#d4f238"/><stop offset="0.702" stop-color="#c4f248"/><stop offset="0.871" stop-color="#b5f257"/><stop offset="1.000" stop-color="#adf25f"/></linearGradient>
<linearGradient id="h74" x2="0" y2="1"><stop offset="0.000" stop-color="#99f272"/><stop offset="0.100" stop-color="#99f272"/><stop offset="0.132" stop-color="#baf252"/><stop offset="0.165" stop-color="#ffc10d"/><stop offset="0.213" stop-color="#ffb80d"/><stop offset="0.296" stop-color="#ffb80d"/><stop offset="0.411" stop-color="#ffb90d"/><stop offset="0.460" stop-color="#ffc80d"/><stop offset="0.524" stop-color="#fff00d"/><stop offset="0.605" stop-color="#d2f239"/><stop offset="0.702" stop-color="#c2f249"/><stop offset="0.871" stop-color="#b4f258"/><stop offset="1.000" stop-color="#acf260"/></linearGradient>
<linearGradient id="h75" x2="0" y2="1"><stop offset="0.000" stop-color="#99f272"/><stop offset="0.100" stop-color="#99f272"/><stop offset="0.132" stop-color="#9ef26d"/><stop offset="0.165" stop-color="#b2f25a"/><stop offset="0.213" stop-color="#b3f258"/><stop offset="0.296" stop-color="#b3f258"/><stop offset="0.411" stop-color="#b3f258"/><stop offset="0.460" stop-color="#b1f25b"/><stop offset="0.524" stop-color="#acf260"/><stop offset="0.605" stop-color="#a4f267"/><stop offset="0.702" stop-color="#a1f26a"/><stop offset="0.871" stop-color="#9ff26d"/><stop offset="1.000" stop-color="#9df26f"/></linearGradient>
<linearGradient id="h76" x2="0" y2="1"><stop offset="0.000" stop-color="#99f272"/><stop offset="0.100" stop-color="#99f272"/><stop offset="0.132" stop-color="#7bf291"/><stop offset="0.165" stop-color="#0deeff"/><stop offset="0.213" stop-color="#0de6ff"/><stop offset="0.296" stop-color="#0de6ff"/><stop offset="0.411" stop-color="#0de7ff"/><stop offset="0.460" stop-color="#0ff2fd"/><stop offset="0.524" stop-color="#35f2d7"/><stop offset="0.605" stop-color="#61f2ab"/><stop offset="0.702" stop-color="#70f29b"/><stop offset="0.871" stop-color="#7ef28d"/><stop offset="1.000" stop-color="#87f285"/></linearGradient>
<linearGradient id="h77" x2="0" y2="1"><stop offset="0.000" stop-color="#99f272"/><stop offset="0.100" stop-color="#99f272"/><stop offset="0.132" stop-color="#6bf2a1"/><stop offset="0.165" stop-color="#0da6ff"/><stop offset="0.213" stop-color="#0d99ff"/><stop offset="0.296" stop-color="#0d99ff"/><stop offset="0.411" stop-color="#0d9aff"/><stop offset="0.460" stop-color="#0db1ff"/><stop offset="0.524" stop-color="#0df1ff"/><stop offset="0.605" stop-color="#51f2ba"/><stop offset="0.702" stop-color="#66f2a6"/><stop offset="0.871" stop-color="#77f295"/><stop offset="1.000" stop-color="#82f28a"/></linearGradient>
<linearGradient id="h78" x2="0" y2="1"><stop offset="0.000" stop-color="#99f272"/><stop offset="0.100" stop-color="#99f272"/><stop offset="0.132" stop-color="#5df2af"/><stop offset="0.165" stop-color="#0d68ff"/><stop offset="0.213" stop-color="#0d58ff"/><stop offset="0.296" stop-color="#0d58ff"/><stop offset="0.411" stop-color="#0d59ff"/><stop offset="0.460" stop-color="#0d7aff"/><stop offset="0.524" stop-color="#0dd8ff"/><stop offset="0.605" stop-color="#51f2ba"/><stop offset="0.702" stop-color="#66f2a6"/><stop offset="0.871" stop-color="#77f295"/><stop offset="1.000" stop-color="#82f28a"/></linearGradient>
<linearGradient id="h79" x2="0" y2="1"><stop offset="0.000" stop-color="#99f272"/><stop offset="0.100" stop-color="#99f272"/><stop offset="0.132" stop-color="#50f2bc"/><stop offset="0.165" stop-color="#0d2bff"/><stop offset="0.213" stop-color="#0d18ff"/><stop offset="0.296" stop-color="#0d18ff"/><stop offset="0.411" stop-color="#0d18ff"/><stop offset="0.460" stop-color="#0d44ff"/><stop offset="0.524" stop-color="#0dc0ff"/><stop offset="0.605" stop-color="#51f2ba"/><stop offset="0.702" stop-color="#66f2a6"/><stop offset="0.871" stop-color="#77f295"/><stop offset="1.000" stop-color="#82f28a"/></linearGradient>
<linearGradient id="h80" x2="0" y2="1"><stop offset="0.000" stop-color="#99f272"/><stop offset="0.100" stop-color="#99f272"/><stop offset="0.132" stop-color="#4af2c2"/><stop offset="0.165" stop-color="#0d11ff"/><stop offset="0.213" stop-color="#0d0cee"/><stop offset="0.296" stop-color="#0d0cee"/><stop offset="0.411" stop-color="#0d0cef"/><stop offset="0.460" stop-color="#0d2dff"/><stop offset="0.524" stop-color="#0db5ff"/><stop offset="0.605" stop-color="#51f2ba"/><stop offset="0.702" stop-color="#66f2a6"/><stop offset="0.871" stop-color="#77f295"/><stop offset="1.000" stop-color="#82f28a"/></linearGradient>
<linearGradient id="h81" x2="0" y2="1"><stop offset="0.000" stop-color="#99f272"/><stop offset="0.100" stop-color="#99f272"/><stop offset="0.132" stop-color="#50f2bc"/><stop offset="0.165" stop-color="#0d2bff"/><stop offset="0.213" stop-color="#0d18ff"/><stop offset="0.296" stop-color="#0d18ff"/><stop offset="0.411" stop-color="#0d18ff"/><stop offset="0.460" stop-color="#0d44ff"/><stop offset="0.524" stop-color="#0dc0ff"/><stop offset="0.605" stop-color="#51f2ba"/><stop offset="0.702" stop-color="#66f2a6"/><stop offset="0.871" stop-color="#77f295"/><stop offset="1.000" stop-color="#82f28a"/></linearGradient>
<linearGradient id="h82" x2="0" y2="1"><stop offset="0.000" stop-color="#99f272"/><stop offset="0.100" stop-color="#99f272"/><stop offset="0.132" stop-color="#5df2af"/><stop offset="0.165" stop-color="#0d68ff"/><stop offset="0.213" stop-color="#0d58ff"/><stop offset="0.296" stop-color="#0d58ff"/><stop offset="0.411" stop-color="#0d59ff"/><stop offset="0.460" stop-color="#0d7aff"/><stop offset="0.524" stop-color="#0dd8ff"/><stop offset="0.605" stop-color="#51f2ba"/><stop offset="0.702" stop-color="#66f2a6"/><stop offset="0.871" stop-color="#77f295"/><stop offset="1.000" stop-color="#82f28a"/></linearGradient>
<linearGradient id="h83" x2="0" y2="1"><stop offset="0.000" stop-color="#99f272"/><stop offset="0.100" stop-color="#99f272"/><stop offset="0.132" stop-color="#6bf2a1"/><stop offset="0.165" stop-color="#0da6ff"/><stop offset="0.213" stop-color="#0d9aff"/><stop offset="0.296" stop-color="#0d9aff"/><stop offset="0.411" stop-color="#0d9aff"/><stop offset="0.460" stop-color="#0db2ff"/><stop offset="0.524" stop-color="#0df1ff"/><stop offset="0.605" stop-color="#51f2ba"/><stop offset="0.702" stop-color="#66f2a6"/><stop offset="0.871" stop-color="#77f295"/><stop offset="1.000" stop-color="#82f28a"/></linearGradient>
<linearGradient id="h84" x2="0" y2="1"><stop offset="0.000" stop-color="#99f272"/><stop offset="0.100" stop-color="#99f272"/><stop offset="0.132" stop-color="#7bf291"/><stop offset="0.165" stop-color="#0defff"/><stop offset="0.213" stop-color="#0de7ff"/><stop offset="0.296" stop-color="#0de7ff"/><stop offset="0.411" stop-color="#0de7ff"/><stop offset="0.460" stop-color="#0ff2fc"/><stop offset="0.524" stop-color="#35f2d7"/><stop offset="0.605" stop-color="#61f2ab"/><stop offset="0.702" stop-color="#70f29b"/><stop offset="0.871" stop-color="#7ef28d"/><stop offset="1.000" stop-color="#87f285"/></linearGradient>
<linearGradient id="h85" x2="0" y2="1"><stop offset="0.000" stop-color="#99f272"/><stop offset="0.100" stop-color="#99f272"/><stop offset="0.132" stop-color="#a2f26a"/><stop offset="0.165" stop-color="#c3f249"/><stop offset="0.213" stop-color="#c5f246"/><stop offset="0.296" stop-color="#c5f246"/><stop offset="0.411" stop-color="#c5f247"/><stop offset="0.460" stop-color="#c1f24b"/><stop offset="0.524" stop-color="#b7f254"/><stop offset="0.605" stop-color="#abf260"/><stop offset="0.702" stop-color="#a6f265"/><stop offset="0.871" stop-color="#a2f26a"/><stop offset="1.000" stop-color="#9ff26d"/></linearGradient>
<linearGradient id="h86" x2="0" y2="1"><stop offset="0.000" stop-color="#99f272"/><stop offset="0.100" stop-color="#99f272"/><stop offset="0.132" stop-color="#bcf250"/><stop offset="0.165" stop-color="#ffb70d"/><stop offset="0.213" stop-color="#ffae0d"/><stop offset="0.296" stop-color="#ffae0d"/><stop offset="0.411" stop-color="#ffaf0d"/><stop offset="0.460" stop-color="#ffbf0d"/><stop offset="0.524" stop-color="#ffeb0d"/><stop offset="0.605" stop-color="#d4f238"/><stop offset="0.702" stop-color="#c4f248"/><stop offset="0.871" stop-color="#b5f257"/><stop offset="1.000" stop-color="#adf25f"/></linearGradient>
<linearGradient id="h87" x2="0" y2="1"><stop offset="0.000" stop-color="#99f272"/><stop offset="0.100" stop-color="#99f272"/><stop offset="0.132" stop-color="#c8f244"/><stop offset="0.165" stop-color="#ff7e0d"/><stop offset="0.213" stop-color="#ff720d"/><stop offset="0.296" stop-color="#ff720d"/><stop offset="0.411" stop-color="#ff730d"/><stop offset="0.460" stop-color="#ff8c0d"/><stop offset="0.524" stop-color="#ffd40d"/><stop offset="0.605" stop-color="#d4f238"/><stop offset="0.702" stop-color="#c4f248"/><stop offset="0.871" stop-color="#b5f257"/><stop offset="1.000" stop-color="#adf25f"/></linearGradient>
<linearGradient id="h88" x2="0" y2="1"><stop offset="0.000" stop-color="#99f272"/><stop offset="0.100" stop-color="#99f272"/><stop offset="0.132" stop-color="#d5f236"/><stop offset="0.165" stop-color="#ff420d"/><stop offset="0.213" stop-color="#ff320d"/><stop offset="0.296" stop-color="#ff320d"/><stop offset="0.411" stop-color="#ff330d"/><stop offset="0.460" stop-color="#ff570d"/><stop offset="0.524" stop-color="#ffbc0d"/><stop offset="0.605" stop-color="#d4f238"/><stop offset="0.702" stop-color="#c4f248"/><stop offset="0.871" stop-color="#b5f257"/><stop offset="1.000" stop-color="#adf25f"/></linearGradient>
<linearGradient id="h89" x2="0" y2="1"><stop offset="0.000" stop-color="#99f272"/><stop offset="0.100" stop-color="#99f272"/><stop offset="0.132" stop-color="#daf232"/><stop offset="0.165" stop-color="#ff2d0d"/><stop offset="0.213" stop-color="#ff1c0d"/><stop offset="0.296" stop-color="#ff1c0d"/><stop offset="0.411" stop-color="#ff1d0d"/><stop offset="0.460" stop-color="#ff440d"/><stop offset="0.524" stop-color="#ffb40d"/><stop offset="0.605" stop-color="#d4f238"/><stop offset="0.702" stop-color="#c4f248"/><stop offset="0.871" stop-color="#b5f257"/><stop offset="1.000" stop-color="#adf25f"/></linearGradient>
<linearGradient id="h90" x2="0" y2="1"><stop offset="0.000" stop-color="#99f272"/><stop offset="0.100" stop-color="#99f272"/><stop offset="0.132" stop-color="#d2f23a"/><stop offset="0.165" stop-color="#ff520d"/><stop offset="0.213" stop-color="#ff430d"/><stop offset="0.296" stop-color="#ff430d"/><stop offset="0.411" stop-color="#ff440d"/><stop offset="0.460" stop-color="#ff650d"/><stop offset="0.524" stop-color="#ffc20d"/><stop offset="0.605" stop-color="#d4f238"/><stop offset="0.702" stop-color="#c4f248"/><stop offset="0.871" stop-color="#b5f257"/><stop offset="1.000" stop-color="#adf25f"/></linearGradient>
<linearGradient id="h91" x2="0" y2="1"><stop offset="0.000" stop-color="#99f272"/><stop offset="0.100" stop-color="#99f272"/><stop offset="0.132" stop-color="#c4f248"/><stop offset="0.165" stop-color="#ff910d"/><stop offset="0.213" stop-color="#ff850d"/><stop offset="0.296" stop-color="#ff850d"/><stop offset="0.411" stop-color="#ff860d"/><stop offset="0.460" stop-color="#ff9d0d"/><stop offset="0.524" stop-color="#ffdb0d"/><stop offset="0.605" stop-color="#d4f238"/><stop offset="0.702" stop-color="#c4f248"/><stop offset="0.871" stop-color="#b5f257"/><stop offset="1.000" stop-color="#adf25f"/></linearGradient>
<linearGradient id="h92" x2="0" y2="1"><stop offset="0.000" stop-color="#99f272"/><stop offset="0.100" stop-color="#99f272"/><stop offset="0.132" stop-color="#b7f255"/><stop offset="0.165" stop-color="#ffcc0d"/><stop offset="0.213" stop-color="#ffc40d"/><stop offset="0.296" stop-color="#ffc40d"/><stop offset="0.411" stop-color="#ffc50d"/><stop offset="0.460" stop-color="#ffd30d"/><stop offset="0.524" stop-color="#faf212"/><stop offset="0.605" stop-color="#cff23d"/><stop offset="0.702" stop-color="#c0f24c"/><stop offset="0.871" stop-color="#b2f259"/><stop offset="1.000" stop-color="#abf261"/></linearGradient>
<linearGradient id="h93" x2="0" y2="1"><stop offset="0.000" stop-color="#99f272"/><stop offset="0.100" stop-color="#99f272"/><stop offset="0.132" stop-color="#9ef26d"/><stop offset="0.165" stop-color="#b2f25a"/><stop offset="0.213" stop-color="#b4f258"/><stop offset="0.296" stop-color="#b4f258"/><stop offset="0.411" stop-color="#b4f258"/><stop offset="0.460" stop-color="#b1f25b"/><stop offset="0.524" stop-color="#aaf261"/><stop offset="0.605" stop-color="#a3f269"/><stop offset="0.702" stop-color="#a0f26c"/><stop offset="0.871" stop-color="#9ef26e"/><stop offset="1.000" stop-color="#9cf26f"/></linearGradient>
<linearGradient id="h94" x2="0" y2="1"><stop offset="0.000" stop-color="#99f272"/><stop offset="0.100" stop-color="#99f272"/><stop offset="0.132" stop-color="#91f27b"/><stop offset="0.165" stop-color="#70f29c"/><stop offset="0.213" stop-color="#6ef29e"/><stop offset="0.296" stop-color="#6ef29e"/><stop offset="0.411" stop-color="#6ef29e"/><stop offset="0.460" stop-color="#72f299"/><stop offset="0.524" stop-color="#7ef28e"/><stop offset="0.605" stop-color="#8bf281"/><stop offset="0.702" stop-color="#8ff27d"/><stop offset="0.871" stop-color="#92f279"/><stop offset="1.000" stop-color="#95f277"/></linearGradient>
<linearGradient id="h95" x2="0" y2="1"><stop offset="0.000" stop-color="#99f272"/><stop offset="0.100" stop-color="#99f272"/><stop offset="0.132" stop-color="#74f298"/><stop offset="0.165" stop-color="#0dd0ff"/><stop offset="0.213" stop-color="#0dc6ff"/><stop offset="0.296" stop-color="#0dc6ff"/><stop offset="0.411" stop-color="#0dc7ff"/><stop offset="0.460" stop-color="#0dd8ff"/><stop offset="0.524" stop-color="#20f2ec"/><stop offset="0.605" stop-color="#56f2b6"/><stop offset="0.702" stop-color="#69f2a3"/><stop offset="0.871" stop-color="#79f292"/><stop offset="1.000" stop-color="#83f289"/></linearGradient>
<linearGradient id="h96" x2="0" y2="1"><stop offset="0.000" stop-color="#99f272"/><stop offset="0.100" stop-color="#99f272"/><stop offset="0.132" stop-color="#68f2a4"/><stop offset="0.165" stop-color="#0d98ff"/><stop offset="0.213" stop-color="#0d8aff"/><stop offset="0.296" stop-color="#0d8aff"/><stop offset="0.411" stop-color="#0d8bff"/><stop offset="0.460" stop-color="#0da5ff"/><stop offset="0.524" stop-color="#0debff"/><stop offset="0.605" stop-color="#51f2ba"/><stop offset="0.702" stop-color="#66f2a6"/><stop offset="0.871" stop-color="#77f295"/><stop offset="1.000" stop-color="#82f28a"/></linearGradient>
<linearGradient id="h97" x2="0" y2="1"><stop offset="0.000" stop-color="#99f272"/><stop offset="0.100" stop-color="#99f272"/><stop offset="0.132" stop-color="#5af2b2"/><stop offset="0.165" stop-color="#0d57ff"/><stop offset="0.213" stop-color="#0d46ff"/><stop offset="0.296" stop-color="#0d46ff"/><stop offset="0.411" stop-color="#0d47ff"/><stop offset="0.460" stop-color="#0d6bff"/><stop offset="0.524" stop-color="#0dd1ff"/><stop offset="0.605" stop-color="#51f2ba"/><stop offset="0.702" stop-color="#66f2a6"/><stop offset="0.871" stop-color="#77f295"/><stop offset="1.000" stop-color="#82f28a"/></linearGradient>
<linearGradient id="h98" x2="0" y2="1"><stop offset="0.000" stop-color="#99f272"/><stop offset="0.100" stop-color="#99f272"/><stop offset="0.132" stop-color="#4df2be"/><stop offset="0.165" stop-color="#0d20ff"/><stop offset="0.213" stop-color="#0d0cff"/><stop offset="0.296" stop-color="#0d0cff"/><stop offset="0.411" stop-color="#0d0dff"/><stop offset="0.460" stop-color="#0d3aff"/><stop offset="0.524" stop-color="#0dbbff"/><stop offset="0.605" stop-color="#51f2ba"/><stop offset="0.702" stop-color="#66f2a6"/><stop offset="0.871" stop-color="#77f295"/><stop offset="1.000" stop-color="#82f28a"/></linearGradient>
<linearGradient id="h99" x2="0" y2="1"><stop offset="0.000" stop-color="#99f272"/><stop offset="0.100" stop-color="#99f272"/><stop offset="0.132" stop-color="#4af2c1"/><stop offset="0.165" stop-color="#0d13ff"/><stop offset="0.213" stop-color="#0d0cf0"/><stop offset="0.296" stop-color="#0d0cf0"/><stop offset="0.411" stop-color="#0d0cf1"/><stop offset="0.460" stop-color="#0d2eff"/><stop offset="0.524" stop-color="#0db6ff"/><stop offset="0.605" stop-color="#51f2ba"/><stop offset="0.702" stop-color="#66f2a6"/><stop offset="0.871" stop-color="#77f295"/><stop offset="1.000" stop-color="#82f28a"/></linearGradient>
<linearGradient id="h100" x2="0" y2="1"><stop offset="0.000" stop-color="#99f272"/><stop offset="0.100" stop-color="#99f272"/><stop offset="0.132" stop-color="#53f2b9"/><stop offset="0.165" stop-color="#0d38ff"/><stop offset="0.213" stop-color="#0d26ff"/><stop offset="0.296" stop-color="#0d26ff"/><stop offset="0.411" stop-color="#0d27ff"/><stop offset="0.460" stop-color="#0d50ff"/><stop offset="0.524" stop-color="#0dc5ff"/><stop offset="0.605" stop-color="#51f2ba"/><stop offset="0.702" stop-color="#66f2a6"/><stop offset="0.871" stop-color="#77f295"/><stop offset="1.000" stop-color="#82f28a"/></linearGradient>
<linearGradient id="h101" x2="0" y2="1"><stop offset="0.000" stop-color="#99f272"/><stop offset="0.100" stop-color="#99f272"/><stop offset="0.132" stop-color="#61f2ab"/><stop offset="0.165" stop-color="#0d79ff"/><stop offset="0.213" stop-color="#0d6aff"/><stop offset="0.296" stop-color="#0d6aff"/><stop offset="0.411" stop-color="#0d6bff"/><stop offset="0.460" stop-color="#0d89ff"/><stop offset="0.524" stop-color="#0ddfff"/><stop offset="0.605" stop-color="#51f2ba"/><stop offset="0.702" stop-color="#66f2a6"/><stop offset="0.871" stop-color="#77f295"/><stop offset="1.000" stop-color="#82f28a"/></linearGradient>
<linearGradient id="h102" x2="0" y2="1"><stop offset="0.000" stop-color="#99f272"/><stop offset="0.100" stop-color="#99f272"/><stop offset="0.132" stop-color="#6ef29e"/><stop offset="0.165" stop-color="#0db4ff"/><stop offset="0.213" stop-color="#0da9ff"/><stop offset="0.296" stop-color="#0da9ff"/><stop offset="0.411" stop-color="#0daaff"/><stop offset="0.460" stop-color="#0dbfff"/><stop offset="0.524" stop-color="#11f2fb"/><stop offset="0.605" stop-color="#51f2ba"/><stop offset="0.702" stop-color="#66f2a6"/><stop offset="0.871" stop-color="#77f295"/><stop offset="1.000" stop-color="#82f28a"/></linearGradient>
<linearGradient id="h103" x2="0" y2="1"><stop offset="0.000" stop-color="#99f272"/><stop offset="0.100" stop-color="#99f272"/><stop offset="0.132" stop-color="#8df27f"/><stop offset="0.165" stop-color="#60f2ac"/><stop offset="0.213" stop-color="#5cf2b0"/><stop offset="0.296" stop-color="#5cf2b0"/><stop offset="0.411" stop-color="#5df2af"/><stop offset="0.460" stop-color="#62f2aa"/><stop offset="0.524" stop-color="#71f29b"/><stop offset="0.605" stop-color="#82f289"/><stop offset="0.702" stop-color="#89f283"/><stop offset="0.871" stop-color="#8ef27d"/><stop offset="1.000" stop-color="#92f27a"/></linearGradient>
<linearGradient id="h104" x2="0" y2="1"><stop offset="0.000" stop-color="#99f272"/><stop offset="0.100" stop-color="#99f272"/><stop offset="0.132" stop-color="#baf252"/><stop offset="0.165" stop-color="#ffbe0d"/><stop offset="0.213" stop-color="#ffb60d"/><stop offset="0.296" stop-color="#ffb60d"/><stop offset="0.411" stop-color="#ffb60d"/><stop offset="0.460" stop-color="#ffc50d"/><stop offset="0.524" stop-color="#ffee0d"/><stop offset="0.605" stop-color="#d4f238"/><stop offset="0.702" stop-color="#c3f248"/><stop offset="0.871" stop-color="#b5f257"/><stop offset="1.000" stop-color="#acf25f"/></linearGradient>
<linearGradient id="h105" x2="0" y2="1"><stop offset="0.000" stop-color="#99f272"/><stop offset="0.100" stop-color="#99f272"/><stop offset="0.132" stop-color="#c7f244"/><stop offset="0.165" stop-color="#ff830d"/><stop offset="0.213" stop-color="#ff760d"/><stop offset="0.296" stop-color="#ff760d"/><stop offset="0.411" stop-color="#ff770d"/><stop offset="0.460" stop-color="#ff900d"/><stop offset="0.524" stop-color="#ffd60d"/><stop offset="0.605" stop-color="#d4f238"/><stop offset="0.702" stop-color="#c4f248"/><stop offset="0.871" stop-color="#b5f257"/><stop offset="1.000" stop-color="#adf25f"/></linearGradient>
<linearGradient id="h106" x2="0" y2="1"><stop offset="0.000" stop-color="#99f272"/><stop offset="0.100" stop-color="#99f272"/><stop offset="0.132" stop-color="#d5f237"/><stop offset="0.165" stop-color="#ff450d"/><stop offset="0.213" stop-color="#ff350d"/><stop offset="0.296" stop-color="#ff350d"/><stop offset="0.411" stop-color="#ff360d"/><stop offset="0.460" stop-color="#ff590d"/><stop offset="0.524" stop-color="#ffbd0d"/><stop offset="0.605" stop-color="#d4f238"/><stop offset="0.702" stop-color="#c4f248"/><stop offset="0.871" stop-color="#b5f257"/><stop offset="1.000" stop-color="#adf25f"/></linearGradient>
<linearGradient id="h107" x2="0" y2="1"><stop offset="0.000" stop-color="#99f272"/><stop offset="0.100" stop-color="#99f272"/><stop offset="0.132" stop-color="#daf232"/><stop offset="0.165" stop-color="#ff2d0d"/><stop offset="0.213" stop-color="#ff1c0d"/><stop offset="0.296" stop-color="#ff1c0d"/><stop offset="0.411" stop-color="#ff1d0d"/><stop offset="0.460" stop-color="#ff440d"/><stop offset="0.524" stop-color="#ffb40d"/><stop offset="0.605" stop-color="#d4f238"/><stop offset="0.702" stop-color="#c4f248"/><stop offset="0.871" stop-color="#b5f257"/><stop offset="1.000" stop-color="#adf25f"/></linearGradient>
<linearGradient id="h108" x2="0" y2="1"><stop offset="0.000" stop-color="#99f272"/><stop offset="0.100" stop-color="#99f272"/><stop offset="0.132" stop-color="#d3f239"/><stop offset="0.165" stop-color="#ff4f0d"/><stop offset="0.213" stop-color="#ff400d"/><stop offset="0.296" stop-color="#ff400d"/><stop offset="0.411" stop-color="#ff410d"/><stop offset="0.460" stop-color="#ff620d"/><stop offset="0.524" stop-color="#ffc10d"/><stop offset="0.605" stop-color="#d4f238"/><stop offset="0.702" stop-color="#c4f248"/><stop offset="0.871" stop-color="#b5f257"/><stop offset="1.000" stop-color="#adf25f"/></linearGradient>
<linearGradient id="h109" x2="0" y2="1"><stop offset="0.000" stop-color="#99f272"/><stop offset="0.100" stop-color="#99f272"/><stop offset="0.132" stop-color="#c5f247"/><stop offset="0.165" stop-color="#ff8e0d"/><stop offset="0.213" stop-color="#ff820d"/><stop offset="0.296" stop-color="#ff820d"/><stop offset="0.411" stop-color="#ff830d"/><stop offset="0.460" stop-color="#ff9a0d"/><stop offset="0.524" stop-color="#ffda0d"/><stop offset="0.605" stop-color="#d4f238"/><stop offset="0.702" stop-color="#c4f248"/><stop offset="0.871" stop-color="#b5f257"/><stop offset="1.000" stop-color="#adf25f"/></linearGradient>
<linearGradient id="h110" x2="0" y2="1"><stop offset="0.000" stop-color="#99f272"/><stop offset="0.100" stop-color="#99f272"/><stop offset="0.132" stop-color="#b8f254"/><stop offset="0.165" stop-color="#ffc80d"/><stop offset="0.213" stop-color="#ffc00d"/><stop offset="0.296" stop-color="#ffc00d"/><stop offset="0.411" stop-color="#ffc10d"/><stop offset="0.460" stop-color="#ffcf0d"/><stop offset="0.524" stop-color="#fdf20f"/><stop offset="0.605" stop-color="#d0f23c"/><stop offset="0.702" stop-color="#c1f24b"/><stop offset="0.871" stop-color="#b3f259"/><stop offset="1.000" stop-color="#abf261"/></linearGradient>
<linearGradient id="h111" x2="0" y2="1"><stop offset="0.000" stop-color="#99f272"/><stop offset="0.100" stop-color="#99f272"/><stop offset="0.132" stop-color="#9ff26d"/><stop offset="0.165" stop-color="#b3f258"/><stop offset="0.213" stop-color="#b5f257"/><stop offset="0.296" stop-color="#b5f257"/><stop offset="0.411" stop-color="#b5f257"/><stop offset="0.460" stop-color="#b2f259"/><stop offset="0.524" stop-color="#acf260"/><stop offset="0.605" stop-color="#a5f267"/><stop offset="0.702" stop-color="#a1f26a"/><stop offset="0.871" stop-color="#9ff26d"/><stop offset="1.000" stop-color="#9df26f"/></linearGradient>
<linearGradient id="h112" x2="0" y2="1"><stop offset="0.000" stop-color="#99f272"/><stop offset="0.100" stop-color="#99f272"/><stop offset="0.132" stop-color="#82f28a"/><stop offset="0.165" stop-color="#2bf2e0"/><stop offset="0.213" stop-color="#25f2e7"/><stop offset="0.296" stop-color="#25f2e7"/><stop offset="0.411" stop-color="#25f2e6"/><stop offset="0.460" stop-color="#30f2db"/><stop offset="0.524" stop-color="#4df2bf"/><stop offset="0.605" stop-color="#6ef29d"/><stop offset="0.702" stop-color="#7af291"/><stop offset="0.871" stop-color="#85f287"/><stop offset="1.000" stop-color="#8bf281"/></linearGradient>
<linearGradient id="h113" x2="0" y2="1"><stop offset="0.000" stop-color="#99f272"/><stop offset="0.100" stop-color="#99f272"/><stop offset="0.132" stop-color="#6ef29e"/><stop offset="0.165" stop-color="#0db2ff"/><stop offset="0.213" stop-color="#0da7ff"/><stop offset="0.296" stop-color="#0da7ff"/><stop offset="0.411" stop-color="#0da7ff"/><stop offset="0.460" stop-color="#0dbdff"/><stop offset="0.524" stop-color="#10f2fc"/><stop offset="0.605" stop-color="#51f2ba"/><stop offset="0.702" stop-color="#66f2a6"/><stop offset="0.871" stop-color="#77f295"/><stop offset="1.000" stop-color="#82f28a"/></linearGradient>
<linearGradient id="h114" x2="0" y2="1"><stop offset="0.000" stop-color="#99f272"/><stop offset="0.100" stop-color="#99f272"/><stop offset="0.132" stop-color="#61f2ab"/><stop offset="0.165" stop-color="#0d78ff"/><stop offset="0.213" stop-color="#0d6aff"/><stop offset="0.296" stop-color="#0d6aff"/><stop offset="0.411" stop-color="#0d6aff"/><stop offset="0.460" stop-color="#0d89ff"/><stop offset="0.524" stop-color="#0ddfff"/><stop offset="0.605" stop-color="#51f2ba"/><stop offset="0.702" stop-color="#66f2a6"/><stop offset="0.871" stop-color="#77f295"/><stop offset="1.000" stop-color="#82f28a"/></linearGradient>
<linearGradient id="h115" x2="0" y2="1"><stop offset="0.000" stop-color="#99f272"/><stop offset="0.100" stop-color="#99f272"/><stop offset="0.132" stop-color="#53f2b9"/><stop offset="0.165" stop-color="#0d38ff"/><stop offset="0.213" stop-color="#0d26ff"/><stop offset="0.296" stop-color="#0d26ff"/><stop offset="0.411" stop-color="#0d26ff"/><stop offset="0.460" stop-color="#0d50ff"/><stop offset="0.524" stop-color="#0dc5ff"/><stop offset="0.605" stop-color="#51f2ba"/><stop offset="0.702" stop-color="#66f2a6"/><stop offset="0.871" stop-color="#77f295"/><stop offset="1.000" stop-color="#82f28a"/></linearGradient>
<linearGradient id="h116" x2="0" y2="1"><stop offset="0.000" stop-color="#99f272"/><stop offset="0.100" stop-color="#99f272"/><stop offset="0.132" stop-color="#4af2c1"/><stop offset="0.165" stop-color="#0d13ff"/><stop offset="0.213" stop-color="#0d0cf0"/><stop offset="0.296" stop-color="#0d0cf0"/><stop offset="0.411" stop-color="#0d0cf1"/><stop offset="0.460" stop-color="#0d2eff"/><stop offset="0.524" stop-color="#0db6ff"/><stop offset="0.605" stop-color="#51f2ba"/><stop offset="0.702" stop-color="#66f2a6"/><stop offset="0.871" stop-color="#77f295"/><stop offset="1.000" stop-color="#82f28a"/></linearGradient>
<linearGradient id="h117" x2="0" y2="1"><stop offset="0.000" stop-color="#99f272"/><stop offset="0.100" stop-color="#99f272"/><stop offset="0.132" stop-color="#4df2be"/><stop offset="0.165" stop-color="#0d20ff"/><stop offset="0.213" stop-color="#0d0cff"/><stop offset="0.296" stop-color="#0d0cff"/><stop offset="0.411" stop-color="#0d0dff"/><stop offset="0.460" stop-color="#0d3aff"/><stop offset="0.524" stop-color="#0dbbff"/><stop offset="0.605" stop-color="#51f2ba"/><stop offset="0.702" stop-color="#66f2a6"/><stop offset="0.871" stop-color="#77f295"/><stop offset="1.000" stop-color="#82f28a"/></linearGradient>
<linearGradient id="h118" x2="0" y2="1"><stop offset="0.000" stop-color="#99f272"/><stop offset="0.100" stop-color="#99f272"/><stop offset="0.132" stop-color="#5af2b2"/><stop offset="0.165" stop-color="#0d57ff"/><stop offset="0.213" stop-color="#0d46ff"/><stop offset="0.296" stop-color="#0d46ff"/><stop offset="0.411" stop-color="#0d47ff"/><stop offset="0.460" stop-color="#0d6bff"/><stop offset="0.524" stop-color="#0dd1ff"/><stop offset="0.605" stop-color="#51f2ba"/><stop offset="0.702" stop-color="#66f2a6"/><stop offset="0.871" stop-color="#77f295"/><stop offset="1.000" stop-color="#82f28a"/></linearGradient>
<linearGradient id="h119" x2="0" y2="1"><stop offset="0.000" stop-color="#99f272"/><stop offset="0.100" stop-color="#99f272"/><stop offset="0.132" stop-color="#68f2a4"/><stop offset="0.165" stop-color="#0d98ff"/><stop offset="0.213" stop-color="#0d8aff"/><stop offset="0.296" stop-color="#0d8aff"/><stop offset="0.411" stop-color="#0d8bff"/><stop offset="0.460" stop-color="#0da5ff"/><stop offset="0.524" stop-color="#0debff"/><stop offset="0.605" stop-color="#51f2ba"/><stop offset="0.702" stop-color="#66f2a6"/><stop offset="0.871" stop-color="#77f295"/><stop offset="1.000" stop-color="#82f28a"/></linearGradient>
<linearGradient id="h120" x2="0" y2="1"><stop offset="0.000" stop-color="#99f272"/><stop offset="0.100" stop-color="#99f272"/><stop offset="0.132" stop-color="#74f298"/><stop offset="0.165" stop-color="#0dd0ff"/><stop offset="0.213" stop-color="#0dc6ff"/><stop offset="0.296" stop-color="#0dc6ff"/><stop offset="0.411" stop-color="#0dc7ff"/><stop offset="0.460" stop-color="#0dd8ff"/><stop offset="0.524" stop-color="#13f2f9"/><stop offset="0.605" stop-color="#49f2c3"/><stop offset="0.702" stop-color="#5cf2b0"/><stop offset="0.871" stop-color="#6ff29c"/><stop offset="1.000" stop-color="#7bf291"/></linearGradient>
<linearGradient id="h121" x2="0" y2="1"><stop offset="0.000" stop-color="#99f272"/><stop offset="0.100" stop-color="#99f272"/><stop offset="0.132" stop-color="#90f27b"/><stop offset="0.165" stop-color="#6ff29d"/><stop offset="0.213" stop-color="#6cf2a0"/><stop offset="0.296" stop-color="#6cf2a0"/><stop offset="0.411" stop-color="#6cf2a0"/><stop offset="0.460" stop-color="#71f29b"/><stop offset="0.524" stop-color="#55f2b7"/><stop offset="0.605" stop-color="#62f2a9"/><stop offset="0.702" stop-color="#66f2a5"/><stop offset="0.871" stop-color="#74f298"/><stop offset="1.000" stop-color="#7cf290"/></linearGradient>
<linearGradient id="h122" x2="0" y2="1"><stop offset="0.000" stop-color="#99f272"/><stop offset="0.100" stop-color="#99f272"/><stop offset="0.132" stop-color="#99f273"/><stop offset="0.165" stop-color="#96f276"/><stop offset="0.213" stop-color="#96f276"/><stop offset="0.296" stop-color="#96f276"/><stop offset="0.411" stop-color="#96f276"/><stop offset="0.460" stop-color="#96f276"/><stop offset="0.524" stop-color="#6ef29e"/><stop offset="0.605" stop-color="#6ff29d"/><stop offset="0.702" stop-color="#6ff29d"/><stop offset="0.871" stop-color="#7af292"/><stop offset="1.000" stop-color="#80f28c"/></linearGradient>
<linearGradient id="h123" x2="0" y2="1"><stop offset="0.000" stop-color="#99f272"/><stop offset="0.100" stop-color="#99f272"/><stop offset="0.132" stop-color="#99f273"/><stop offset="0.165" stop-color="#99f273"/><stop offset="0.213" stop-color="#99f273"/><stop offset="0.296" stop-color="#99f273"/><stop offset="0.411" stop-color="#99f273"/><stop offset="0.460" stop-color="#99f273"/><stop offset="0.524" stop-color="#6ff29d"/><stop offset="0.605" stop-color="#6ff29d"/><stop offset="0.702" stop-color="#6ff29d"/><stop offset="0.871" stop-color="#7af292"/><stop offset="1.000" stop-color="#80f28c"/></linearGradient>
<linearGradient id="h124" x2="0" y2="1"><stop offset="0.000" stop-color="#99f272"/><stop offset="0.100" stop-color="#99f272"/><stop offset="0.132" stop-color="#99f273"/><stop offset="0.165" stop-color="#99f273"/><stop offset="0.213" stop-color="#99f273"/><stop offset="0.296" stop-color="#99f273"/><stop offset="0.411" stop-color="#99f273"/><stop offset="0.460" stop-color="#99f273"/><stop offset="0.524" stop-color="#6ff29d"/><stop offset="0.605" stop-color="#6ff29d"/><stop offset="0.702" stop-color="#6ff29d"/><stop offset="0.871" stop-color="#7af292"/><stop offset="1.000" stop-color="#80f28c"/></linearGradient>
<linearGradient id="h125" x2="0" y2="1"><stop offset="0.000" stop-color="#99f272"/><stop offset="0.097" stop-color="#99f272"/><stop offset="0.127" stop-color="#99f272"/><stop offset="0.157" stop-color="#99f272"/><stop offset="0.202" stop-color="#99f272"/><stop offset="0.252" stop-color="#99f272"/><stop offset="0.332" stop-color="#99f272"/><stop offset="0.378" stop-color="#99f272"/><stop offset="0.438" stop-color="#5df2af"/><stop offset="0.514" stop-color="#5df2af"/><stop offset="0.604" stop-color="#5df2af"/><stop offset="0.879" stop-color="#70f29c"/><stop offset="1.000" stop-color="#75f297"/></linearGradient>
<linearGradient id="h126" x2="0" y2="1"><stop offset="0.000" stop-color="#99f272"/><stop offset="0.097" stop-color="#99f272"/><stop offset="0.127" stop-color="#99f272"/><stop offset="0.157" stop-color="#9af272"/><stop offset="0.202" stop-color="#9af272"/><stop offset="0.252" stop-color="#9af272"/><stop offset="0.332" stop-color="#9af272"/><stop offset="0.378" stop-color="#99f272"/><stop offset="0.438" stop-color="#5df2af"/><stop offset="0.514" stop-color="#5df2af"/><stop offset="0.604" stop-color="#5df2af"/><stop offset="0.879" stop-color="#70f29c"/><stop offset="1.000" stop-color="#75f297"/></linearGradient>
<linearGradient id="h127" x2="0" y2="1"><stop offset="0.000" stop-color="#99f272"/><stop offset="0.097" stop-color="#99f272"/><stop offset="0.127" stop-color="#9df26f"/><stop offset="0.157" stop-color="#abf261"/><stop offset="0.202" stop-color="#acf260"/><stop offset="0.252" stop-color="#acf260"/><stop offset="0.332" stop-color="#acf260"/><stop offset="0.378" stop-color="#aaf262"/><stop offset="0.438" stop-color="#6af2a2"/><stop offset="0.514" stop-color="#64f2a8"/><stop offset="0.604" stop-color="#63f2a9"/><stop offset="0.879" stop-color="#74f298"/><stop offset="1.000" stop-color="#78f294"/></linearGradient>
<linearGradient id="h128" x2="0" y2="1"><stop offset="0.000" stop-color="#99f272"/><stop offset="0.097" stop-color="#99f272"/><stop offset="0.127" stop-color="#baf252"/><stop offset="0.157" stop-color="#ffbf0d"/><stop offset="0.202" stop-color="#ffb60d"/><stop offset="0.252" stop-color="#ffb60d"/><stop offset="0.332" stop-color="#ffb60d"/><stop offset="0.378" stop-color="#ffc80d"/><stop offset="0.438" stop-color="#e6f226"/><stop offset="0.514" stop-color="#b3f259"/><stop offset="0.604" stop-color="#a6f266"/><stop offset="0.879" stop-color="#9ef26d"/><stop offset="1.000" stop-color="#9cf26f"/></linearGradient>
<linearGradient id="h129" x2="0" y2="1"><stop offset="0.000" stop-color="#99f272"/><stop offset="0.097" stop-color="#99f272"/><stop offset="0.127" stop-color="#caf242"/><stop offset="0.157" stop-color="#ff750d"/><stop offset="0.202" stop-color="#ff680d"/><stop offset="0.252" stop-color="#ff680d"/><stop offset="0.332" stop-color="#ff690d"/><stop offset="0.378" stop-color="#ff860d"/><stop offset="0.438" stop-color="#ffdb0d"/><stop offset="0.514" stop-color="#c6f246"/><stop offset="0.604" stop-color="#b9f252"/><stop offset="0.879" stop-color="#acf260"/><stop offset="1.000" stop-color="#a8f264"/></linearGradient>
<linearGradient id="h130" x2="0" y2="1"><stop offset="0.000" stop-color="#99f272"/><stop offset="0.097" stop-color="#99f272"/><stop offset="0.127" stop-color="#bef24e"/><stop offset="0.157" stop-color="#ffac0d"/><stop offset="0.202" stop-color="#ffa20d"/><stop offset="0.252" stop-color="#ffa20d"/><stop offset="0.332" stop-color="#ffa30d"/><stop offset="0.378" stop-color="#ffb70d"/><stop offset="0.438" stop-color="#fff10d"/><stop offset="0.514" stop-color="#c6f246"/><stop offset="0.604" stop-color="#b9f252"/><stop offset="0.879" stop-color="#acf260"/><stop offset="1.000" stop-color="#a8f264"/></linearGradient>
<linearGradient id="h131" x2="0" y2="1"><stop offset="0.000" stop-color="#99f272"/><stop offset="0.097" stop-color="#99f272"/><stop offset="0.127" stop-color="#a1f26b"/><stop offset="0.157" stop-color="#bcf24f"/><stop offset="0.202" stop-color="#bef24d"/><stop offset="0.252" stop-color="#bef24d"/><stop offset="0.332" stop-color="#bef24d"/><stop offset="0.378" stop-color="#bbf251"/><stop offset="0.438" stop-color="#b1f25b"/><stop offset="0.514" stop-color="#a6f266"/><stop offset="0.604" stop-color="#a2f269"/><stop offset="0.879" stop-color="#9ff26d"/><stop offset="1.000" stop-color="#9df26e"/></linearGradient>
<linearGradient id="h132" x2="0" y2="1"><stop offset="0.000" stop-color="#99f272"/><stop offset="0.097" stop-color="#99f272"/><stop offset="0.127" stop-color="#7cf290"/><stop offset="0.157" stop-color="#0df2ff"/><stop offset="0.202" stop-color="#0deaff"/><stop offset="0.252" stop-color="#0deaff"/><stop offset="0.332" stop-color="#0deaff"/><stop offset="0.378" stop-color="#14f2f8"/><stop offset="0.438" stop-color="#3df2cf"/><stop offset="0.514" stop-color="#6af2a2"/><stop offset="0.604" stop-color="#77f295"/><stop offset="0.879" stop-color="#86f286"/><stop offset="1.000" stop-color="#8af282"/></linearGradient>
<linearGradient id="h133" x2="0" y2="1"><stop offset="0.000" stop-color="#99f272"/><stop offset="0.097" stop-color="#99f272"/><stop offset="0.127" stop-color="#59f2b3"/><stop offset="0.157" stop-color="#0d53ff"/><stop offset="0.202" stop-color="#0d42ff"/><stop offset="0.252" stop-color="#0d42ff"/><stop offset="0.332" stop-color="#0d43ff"/><stop offset="0.378" stop-color="#0d67ff"/><stop offset="0.438" stop-color="#0dd0ff"/><stop offset="0.514" stop-color="#51f2ba"/><stop offset="0.604" stop-color="#65f2a6"/><stop offset="0.879" stop-color="#7cf290"/><stop offset="1.000" stop-color="#82f28a"/></linearGradient>
<linearGradient id="h134" x2="0" y2="1"><stop offset="0.000" stop-color="#99f272"/><stop offset="0.097" stop-color="#99f272"/><stop offset="0.127" stop-color="#4af2c1"/><stop offset="0.157" stop-color="#0d13ff"/><stop offset="0.202" stop-color="#0d0cf0"/><stop offset="0.252" stop-color="#0d0cf0"/><stop offset="0.332" stop-color="#0d0cf1"/><stop offset="0.378" stop-color="#0d2eff"/><stop offset="0.438" stop-color="#0db6ff"/><stop offset="0.514" stop-color="#51f2ba"/><stop offset="0.604" stop-color="#65f2a6"/><stop offset="0.879" stop-color="#7cf290"/><stop offset="1.000" stop-color="#82f28a"/></linearGradient>
<linearGradient id="h135" x2="0" y2="1"><stop offset="0.000" stop-color="#99f272"/><stop offset="0.097" stop-color="#99f272"/><stop offset="0.127" stop-color="#60f2ac"/><stop offset="0.157" stop-color="#0d73ff"/><stop offset="0.202" stop-color="#0d63ff"/><stop offset="0.252" stop-color="#0d63ff"/><stop offset="0.332" stop-color="#0d64ff"/><stop offset="0.378" stop-color="#0d84ff"/><stop offset="0.438" stop-color="#0ddcff"/><stop offset="0.514" stop-color="#51f2ba"/><stop offset="0.604" stop-color="#65f2a6"/><stop offset="0.879" stop-color="#7cf290"/><stop offset="1.000" stop-color="#82f28a"/></linearGradient>
<linearGradient id="h136" x2="0" y2="1"><stop offset="0.000" stop-color="#99f272"/><stop offset="0.097" stop-color="#99f272"/><stop offset="0.127" stop-color="#88f284"/><stop offset="0.157" stop-color="#47f2c5"/><stop offset="0.202" stop-color="#42f2ca"/><stop offset="0.252" stop-color="#42f2ca"/><stop offset="0.332" stop-color="#42f2c9"/><stop offset="0.378" stop-color="#4bf2c0"/><stop offset="0.438" stop-color="#64f2a8"/><stop offset="0.514" stop-color="#7ef28d"/><stop offset="0.604" stop-color="#86f286"/><stop offset="0.879" stop-color="#8ef27e"/><stop offset="1.000" stop-color="#90f27b"/></linearGradient>
<linearGradient id="h137" x2="0" y2="1"><stop offset="0.000" stop-color="#99f272"/><stop offset="0.097" stop-color="#99f272"/><stop offset="0.127" stop-color="#a1f26b"/><stop offset="0.157" stop-color="#bcf250"/><stop offset="0.202" stop-color="#bef24e"/><stop offset="0.252" stop-color="#bef24e"/><stop offset="0.332" stop-color="#bef24e"/><stop offset="0.378" stop-color="#baf252"/><stop offset="0.438" stop-color="#b0f25b"/><stop offset="0.514" stop-color="#a6f266"/><stop offset="0.604" stop-color="#a2f26a"/><stop offset="0.879" stop-color="#9ef26d"/><stop offset="1.000" stop-color="#9df26e"/></linearGradient>
<linearGradient id="h138" x2="0" y2="1"><stop offset="0.000" stop-color="#99f272"/><stop offset="0.097" stop-color="#99f272"/><stop offset="0.127" stop-color="#aef25e"/><stop offset="0.157" stop-color="#faf212"/><stop offset="0.202" stop-color="#fff20d"/><stop offset="0.252" stop-color="#fff20d"/><stop offset="0.332" stop-color="#fff20d"/><stop offset="0.378" stop-color="#f3f219"/><stop offset="0.438" stop-color="#d0f23c"/><stop offset="0.514" stop-color="#aff25d"/><stop offset="0.604" stop-color="#a9f263"/><stop offset="0.879" stop-color="#a2f26a"/><stop offset="1.000" stop-color="#a0f26b"/></linearGradient>
<linearGradient id="h139" x2="0" y2="1"><stop offset="0.000" stop-color="#99f272"/><stop offset="0.097" stop-color="#99f272"/><stop offset="0.127" stop-color="#b0f25c"/><stop offset="0.157" stop-color="#ffec0d"/><stop offset="0.202" stop-color="#ffe60d"/><stop offset="0.252" stop-color="#ffe60d"/><stop offset="0.332" stop-color="#ffe70d"/><stop offset="0.378" stop-color="#fdf20f"/><stop offset="0.438" stop-color="#d5f237"/><stop offset="0.514" stop-color="#aff25d"/><stop offset="0.604" stop-color="#a9f263"/><stop offset="0.879" stop-color="#a2f26a"/><stop offset="1.000" stop-color="#a0f26b"/></linearGradient>
<linearGradient id="h140" x2="0" y2="1"><stop offset="0.000" stop-color="#99f272"/><stop offset="0.097" stop-color="#99f272"/><stop offset="0.127" stop-color="#a6f266"/><stop offset="0.157" stop-color="#d4f238"/><stop offset="0.202" stop-color="#d8f234"/><stop offset="0.252" stop-color="#d8f234"/><stop offset="0.332" stop-color="#d7f234"/><stop offset="0.378" stop-color="#d1f23b"/><stop offset="0.438" stop-color="#bff24d"/><stop offset="0.514" stop-color="#acf260"/><stop offset="0.604" stop-color="#a7f265"/><stop offset="0.879" stop-color="#a1f26b"/><stop offset="1.000" stop-color="#9ff26c"/></linearGradient>
<linearGradient id="h141" x2="0" y2="1"><stop offset="0.000" stop-color="#99f272"/><stop offset="0.097" stop-color="#99f272"/><stop offset="0.127" stop-color="#94f278"/><stop offset="0.157" stop-color="#7ff28c"/><stop offset="0.202" stop-color="#7ef28e"/><stop offset="0.252" stop-color="#7ef28e"/><stop offset="0.332" stop-color="#7ef28e"/><stop offset="0.378" stop-color="#81f28b"/><stop offset="0.438" stop-color="#8af282"/><stop offset="0.514" stop-color="#93f279"/><stop offset="0.604" stop-color="#95f277"/><stop offset="0.879" stop-color="#97f275"/><stop offset="1.000" stop-color="#97f275"/></linearGradient>
<linearGradient id="h142" x2="0" y2="1"><stop offset="0.000" stop-color="#99f272"/><stop offset="0.097" stop-color="#99f272"/><stop offset="0.127" stop-color="#68f2a4"/><stop offset="0.157" stop-color="#0d98ff"/><stop offset="0.202" stop-color="#0d8bff"/><stop offset="0.252" stop-color="#0d8bff"/><stop offset="0.332" stop-color="#0d8cff"/><stop offset="0.378" stop-color="#0da5ff"/><stop offset="0.438" stop-color="#0debff"/><stop offset="0.514" stop-color="#52f2ba"/><stop offset="0.604" stop-color="#66f2a6"/><stop offset="0.879" stop-color="#7cf290"/><stop offset="1.000" stop-color="#82f28a"/></linearGradient>
<linearGradient id="h143" x2="0" y2="1"><stop offset="0.000" stop-color="#99f272"/><stop offset="0.097" stop-color="#99f272"/><stop offset="0.127" stop-color="#4ef2be"/><stop offset="0.157" stop-color="#0d23ff"/><stop offset="0.202" stop-color="#0d0fff"/><stop offset="0.252" stop-color="#0d0fff"/><stop offset="0.332" stop-color="#0d10ff"/><stop offset="0.378" stop-color="#0d3cff"/><stop offset="0.438" stop-color="#0dbcff"/><stop offset="0.514" stop-color="#51f2ba"/><stop offset="0.604" stop-color="#65f2a6"/><stop offset="0.879" stop-color="#7cf290"/><stop offset="1.000" stop-color="#82f28a"/></linearGradient>
<linearGradient id="h144" x2="0" y2="1"><stop offset="0.000" stop-color="#99f272"/><stop offset="0.097" stop-color="#99f272"/><stop offset="0.127" stop-color="#51f2bb"/><stop offset="0.157" stop-color="#0d30ff"/><stop offset="0.202" stop-color="#0d1dff"/><stop offset="0.252" stop-color="#0d1dff"/><stop offset="0.332" stop-color="#0d1eff"/><stop offset="0.378" stop-color="#0d49ff"/><stop offset="0.438" stop-color="#0dc2ff"/><stop offset="0.514" stop-color="#51f2ba"/><stop offset="0.604" stop-color="#65f2a6"/><stop offset="0.879" stop-color="#7cf290"/><stop offset="1.000" stop-color="#82f28a"/></linearGradient>
<linearGradient id="h145" x2="0" y2="1"><stop offset="0.000" stop-color="#99f272"/><stop offset="0.097" stop-color="#99f272"/><stop offset="0.127" stop-color="#6df29e"/><stop offset="0.157" stop-color="#0db1ff"/><stop offset="0.202" stop-color="#0da5ff"/><stop offset="0.252" stop-color="#0da5ff"/><stop offset="0.332" stop-color="#0da6ff"/><stop offset="0.378" stop-color="#0dbcff"/><stop offset="0.438" stop-color="#13f2f8"/><stop offset="0.514" stop-color="#56f2b5"/><stop offset="0.604" stop-color="#69f2a3"/><stop offset="0.879" stop-color="#7ef28e"/><stop offset="1.000" stop-color="#83f288"/></linearGradient>
<linearGradient id="h146" x2="0" y2="1"><stop offset="0.000" stop-color="#99f272"/><stop offset="0.097" stop-color="#99f272"/><stop offset="0.127" stop-color="#99f273"/><stop offset="0.157" stop-color="#97f275"/><stop offset="0.202" stop-color="#97f275"/><stop offset="0.252" stop-color="#97f275"/><stop offset="0.332" stop-color="#97f275"/><stop offset="0.378" stop-color="#97f274"/><stop offset="0.438" stop-color="#99f273"/><stop offset="0.514" stop-color="#9af272"/><stop offset="0.604" stop-color="#9af272"/><stop offset="0.879" stop-color="#9af272"/><stop offset="1.000" stop-color="#9af272"/></linearGradient>
<linearGradient id="h147" x2="0" y2="1"><stop offset="0.000" stop-color="#99f272"/><stop offset="0.097" stop-color="#99f272"/><stop offset="0.127" stop-color="#b7f254"/><stop offset="0.157" stop-color="#ffca0d"/><stop offset="0.202" stop-color="#ffc20d"/><stop offset="0.252" stop-color="#ffc20d"/><stop offset="0.332" stop-color="#ffc30d"/><stop offset="0.378" stop-color="#ffd20d"/><stop offset="0.438" stop-color="#f3f219"/><stop offset="0.514" stop-color="#c4f247"/><stop offset="0.604" stop-color="#b8f253"/><stop offset="0.879" stop-color="#abf261"/><stop offset="1.000" stop-color="#a7f264"/></linearGradient>
<linearGradient id="h148" x2="0" y2="1"><stop offset="0.000" stop-color="#99f272"/><stop offset="0.097" stop-color="#99f272"/><stop offset="0.127" stop-color="#caf242"/><stop offset="0.157" stop-color="#ff780d"/><stop offset="0.202" stop-color="#ff6b0d"/><stop offset="0.252" stop-color="#ff6b0d"/><stop offset="0.332" stop-color="#ff6c0d"/><stop offset="0.378" stop-color="#ff890d"/><stop offset="0.438" stop-color="#ffdc0d"/><stop offset="0.514" stop-color="#c6f246"/><stop offset="0.604" stop-color="#b9f252"/><stop offset="0.879" stop-color="#acf260"/><stop offset="1.000" stop-color="#a8f264"/></linearGradient>
<linearGradient id="h149" x2="0" y2="1"><stop offset="0.000" stop-color="#99f272"/><stop offset="0.097" stop-color="#99f272"/><stop offset="0.127" stop-color="#c0f24c"/><stop offset="0.157" stop-color="#ffa30d"/><stop offset="0.202" stop-color="#ff990d"/><stop offset="0.252" stop-color="#ff990d"/><stop offset="0.332" stop-color="#ff990d"/><stop offset="0.378" stop-color="#ffaf0d"/><stop offset="0.438" stop-color="#ffed0d"/><stop offset="0.514" stop-color="#c6f246"/><stop offset="0.604" stop-color="#b9f252"/><stop offset="0.879" stop-color="#acf260"/><stop offset="1.000" stop-color="#a8f264"/></linearGradient>
<linearGradient id="h150" x2="0" y2="1"><stop offset="0.000" stop-color="#99f272"/><stop offset="0.097" stop-color="#99f272"/><stop offset="0.127" stop-color="#a4f268"/><stop offset="0.157" stop-color="#cbf240"/><stop offset="0.202" stop-color="#cef23e"/><stop offset="0.252" stop-color="#cef23e"/><stop offset="0.332" stop-color="#cef23e"/><stop offset="0.378" stop-color="#c9f243"/><stop offset="0.438" stop-color="#bbf251"/><stop offset="0.514" stop-color="#abf261"/><stop offset="0.604" stop-color="#a6f266"/><stop offset="0.879" stop-color="#a1f26b"/><stop offset="1.000" stop-color="#9ff26d"/></linearGradient>
<linearGradient id="h151" x2="0" y2="1"><stop offset="0.000" stop-color="#99f272"/><stop offset="0.097" stop-color="#99f272"/><stop offset="0.127" stop-color="#81f28b"/><stop offset="0.157" stop-color="#24f2e7"/><stop offset="0.202" stop-color="#1df2ee"/><stop offset="0.252" stop-color="#1df2ee"/><stop offset="0.332" stop-color="#1ef2ee"/><stop offset="0.378" stop-color="#2bf2e1"/><stop offset="0.438" stop-color="#4df2bf"/><stop offset="0.514" stop-color="#72f29a"/><stop offset="0.604" stop-color="#7df28f"/><stop offset="0.879" stop-color="#89f283"/><stop offset="1.000" stop-color="#8cf27f"/></linearGradient>
<linearGradient id="h152" x2="0" y2="1"><stop offset="0.000" stop-color="#99f272"/><stop offset="0.097" stop-color="#99f272"/><stop offset="0.127" stop-color="#5bf2b0"/><stop offset="0.157" stop-color="#0d60ff"/><stop offset="0.202" stop-color="#0d4fff"/><stop offset="0.252" stop-color="#0d4fff"/><stop offset="0.332" stop-color="#0d50ff"/><stop offset="0.378" stop-color="#0d73ff"/><stop offset="0.438" stop-color="#0dd5ff"/><stop offset="0.514" stop-color="#51f2ba"/><stop offset="0.604" stop-color="#65f2a6"/><stop offset="0.879" stop-color="#7cf290"/><stop offset="1.000" stop-color="#82f28a"/></linearGradient>
<linearGradient id="h153" x2="0" y2="1"><stop offset="0.000" stop-color="#99f272"/><stop offset="0.097" stop-color="#99f272"/><stop offset="0.127" stop-color="#4af2c2"/><stop offset="0.157" stop-color="#0d11ff"/><stop offset="0.202" stop-color="#0d0cee"/><stop offset="0.252" stop-color="#0d0cee"/><stop offset="0.332" stop-color="#0d0cef"/><stop offset="0.378" stop-color="#0d2dff"/><stop offset="0.438" stop-color="#0db5ff"/><stop offset="0.514" stop-color="#51f2ba"/><stop offset="0.604" stop-color="#65f2a6"/><stop offset="0.879" stop-color="#7cf290"/><stop offset="1.000" stop-color="#82f28a"/></linearGradient>
<linearGradient id="h154" x2="0" y2="1"><stop offset="0.000" stop-color="#99f272"/><stop offset="0.097" stop-color="#99f272"/><stop offset="0.127" stop-color="#5df2af"/><stop offset="0.157" stop-color="#0d66ff"/><stop offset="0.202" stop-color="#0d56ff"/><stop offset="0.252" stop-color="#0d56ff"/><stop offset="0.332" stop-color="#0d57ff"/><stop offset="0.378" stop-color="#0d79ff"/><stop offset="0.438" stop-color="#0dd7ff"/><stop offset="0.514" stop-color="#51f2ba"/><stop offset="0.604" stop-color="#65f2a6"/><stop offset="0.879" stop-color="#7cf290"/><stop offset="1.000" stop-color="#82f28a"/></linearGradient>
<linearGradient id="h155" x2="0" y2="1"><stop offset="0.000" stop-color="#99f272"/><stop offset="0.097" stop-color="#99f272"/><stop offset="0.127" stop-color="#83f289"/><stop offset="0.157" stop-color="#30f2dc"/><stop offset="0.202" stop-color="#2af2e2"/><stop offset="0.252" stop-color="#2af2e2"/><stop offset="0.332" stop-color="#2af2e1"/><stop offset="0.378" stop-color="#36f2d6"/><stop offset="0.438" stop-color="#55f2b7"/><stop offset="0.514" stop-color="#76f296"/><stop offset="0.604" stop-color="#80f28c"/><stop offset="0.879" stop-color="#8bf281"/><stop offset="1.000" stop-color="#8ef27e"/></linearGradient>
<linearGradient id="h156" x2="0" y2="1"><stop offset="0.000" stop-color="#99f272"/><stop offset="0.097" stop-color="#99f272"/><stop offset="0.127" stop-color="#a1f26a"/><stop offset="0.157" stop-color="#bff24c"/><stop offset="0.202" stop-color="#c2f24a"/><stop offset="0.252" stop-color="#c2f24a"/><stop offset="0.332" stop-color="#c2f24a"/><stop offset="0.378" stop-color="#bef24e"/><stop offset="0.438" stop-color="#b3f259"/><stop offset="0.514" stop-color="#a7f265"/><stop offset="0.604" stop-color="#a3f269"/><stop offset="0.879" stop-color="#9ff26d"/><stop offset="1.000" stop-color="#9ef26e"/></linearGradient>
<linearGradient id="h157" x2="0" y2="1"><stop offset="0.000" stop-color="#99f272"/><stop offset="0.097" stop-color="#99f272"/><stop offset="0.127" stop-color="#b4f257"/><stop offset="0.157" stop-color="#ffd90d"/><stop offset="0.202" stop-color="#ffd10d"/><stop offset="0.252" stop-color="#ffd10d"/><stop offset="0.332" stop-color="#ffd20d"/><stop offset="0.378" stop-color="#ffe10d"/><stop offset="0.438" stop-color="#e3f228"/><stop offset="0.514" stop-color="#b7f254"/><stop offset="0.604" stop-color="#aff25d"/><stop offset="0.879" stop-color="#a6f266"/><stop offset="1.000" stop-color="#a3f269"/></linearGradient>
<linearGradient id="h158" x2="0" y2="1"><stop offset="0.000" stop-color="#99f272"/><stop offset="0.097" stop-color="#99f272"/><stop offset="0.127" stop-color="#baf252"/><stop offset="0.157" stop-color="#ffc00d"/><stop offset="0.202" stop-color="#ffb70d"/><stop offset="0.252" stop-color="#ffb70d"/><stop offset="0.332" stop-color="#ffb80d"/><stop offset="0.378" stop-color="#ffcb0d"/><stop offset="0.438" stop-color="#eef21e"/><stop offset="0.514" stop-color="#b7f254"/><stop offset="0.604" stop-color="#aff25d"/><stop offset="0.879" stop-color="#a6f266"/><stop offset="1.000" stop-color="#a3f269"/></linearGradient>
<linearGradient id="h159" x2="0" y2="1"><stop offset="0.000" stop-color="#99f272"/><stop offset="0.097" stop-color="#99f272"/><stop offset="0.127" stop-color="#adf25f"/><stop offset="0.157" stop-color="#f6f216"/><stop offset="0.202" stop-color="#fbf210"/><stop offset="0.252" stop-color="#fbf210"/><stop offset="0.332" stop-color="#fbf211"/><stop offset="0.378" stop-color="#f1f21b"/><stop offset="0.438" stop-color="#d4f238"/><stop offset="0.514" stop-color="#b6f256"/><stop offset="0.604" stop-color="#aef25e"/><stop offset="0.879" stop-color="#a5f267"/><stop offset="1.000" stop-color="#a3f269"/></linearGradient>
<linearGradient id="h160" x2="0" y2="1"><stop offset="0.000" stop-color="#99f272"/><stop offset="0.097" stop-color="#99f272"/><stop offset="0.127" stop-color="#97f275"/><stop offset="0.157" stop-color="#8ef27e"/><stop offset="0.202" stop-color="#8df27f"/><stop offset="0.252" stop-color="#8df27f"/><stop offset="0.332" stop-color="#8df27f"/><stop offset="0.378" stop-color="#8ff27d"/><stop offset="0.438" stop-color="#93f278"/><stop offset="0.514" stop-color="#98f274"/><stop offset="0.604" stop-color="#98f274"/><stop offset="0.879" stop-color="#99f273"/><stop offset="1.000" stop-color="#99f273"/></linearGradient>
<linearGradient id="h161" x2="0" y2="1"><stop offset="0.000" stop-color="#99f272"/><stop offset="0.097" stop-color="#99f272"/><stop offset="0.127" stop-color="#6bf2a0"/><stop offset="0.157" stop-color="#0da8ff"/><stop offset="0.202" stop-color="#0d9cff"/><stop offset="0.252" stop-color="#0d9cff"/><stop offset="0.332" stop-color="#0d9cff"/><stop offset="0.378" stop-color="#0db4ff"/><stop offset="0.438" stop-color="#0ef2fe"/><stop offset="0.514" stop-color="#54f2b7"/><stop offset="0.604" stop-color="#68f2a4"/><stop offset="0.879" stop-color="#7df28f"/><stop offset="1.000" stop-color="#83f289"/></linearGradient>
<linearGradient id="h162" x2="0" y2="1"><stop offset="0.000" stop-color="#99f272"/><stop offset="0.097" stop-color="#99f272"/><stop offset="0.127" stop-color="#50f2bc"/><stop offset="0.157" stop-color="#0d2cff"/><stop offset="0.202" stop-color="#0d18ff"/><stop offset="0.252" stop-color="#0d18ff"/><stop offset="0.332" stop-color="#0d19ff"/><stop offset="0.378" stop-color="#0d44ff"/><stop offset="0.438" stop-color="#0dc0ff"/><stop offset="0.514" stop-color="#51f2ba"/><stop offset="0.604" stop-color="#65f2a6"/><stop offset="0.879" stop-color="#7cf290"/><stop offset="1.000" stop-color="#82f28a"/></linearGradient>
<linearGradient id="h163" x2="0" y2="1"><stop offset="0.000" stop-color="#99f272"/><stop offset="0.097" stop-color="#99f272"/><stop offset="0.127" stop-color="#4ff2bd"/><stop offset="0.157" stop-color="#0d27ff"/><stop offset="0.202" stop-color="#0d13ff"/><stop offset="0.252" stop-color="#0d13ff"/><stop offset="0.332" stop-color="#0d14ff"/><stop offset="0.378" stop-color="#0d40ff"/><stop offset="0.438" stop-color="#0dbeff"/><stop offset="0.514" stop-color="#51f2ba"/><stop offset="0.604" stop-color="#65f2a6"/><stop offset="0.879" stop-color="#7cf290"/><stop offset="1.000" stop-color="#82f28a"/></linearGradient>
<linearGradient id="h164" x2="0" y2="1"><stop offset="0.000" stop-color="#99f272"/><stop offset="0.097" stop-color="#99f272"/><stop offset="0.127" stop-color="#69f2a2"/><stop offset="0.157" stop-color="#0d9fff"/><stop offset="0.202" stop-color="#0d93ff"/><stop offset="0.252" stop-color="#0d93ff"/><stop offset="0.332" stop-color="#0d94ff"/><stop offset="0.378" stop-color="#0dacff"/><stop offset="0.438" stop-color="#0defff"/><stop offset="0.514" stop-color="#53f2b9"/><stop offset="0.604" stop-color="#66f2a5"/><stop offset="0.879" stop-color="#7cf28f"/><stop offset="1.000" stop-color="#82f28a"/></linearGradient>
<linearGradient id="h165" x2="0" y2="1"><stop offset="0.000" stop-color="#99f272"/><stop offset="0.097" stop-color="#99f272"/><stop offset="0.127" stop-color="#95f276"/><stop offset="0.157" stop-color="#86f285"/><stop offset="0.202" stop-color="#85f287"/><stop offset="0.252" stop-color="#85f287"/><stop offset="0.332" stop-color="#85f287"/><stop offset="0.378" stop-color="#88f284"/><stop offset="0.438" stop-color="#8ff27d"/><stop offset="0.514" stop-color="#95f277"/><stop offset="0.604" stop-color="#96f275"/><stop offset="0.879" stop-color="#98f274"/><stop offset="1.000" stop-color="#98f274"/></linearGradient>
<linearGradient id="h166" x2="0" y2="1"><stop offset="0.000" stop-color="#99f272"/><stop offset="0.097" stop-color="#99f272"/><stop offset="0.127" stop-color="#a6f265"/><stop offset="0.157" stop-color="#d8f234"/><stop offset="0.202" stop-color="#dbf230"/><stop offset="0.252" stop-color="#dbf230"/><stop offset="0.332" stop-color="#dbf231"/><stop offset="0.378" stop-color="#d4f238"/><stop offset="0.438" stop-color="#c1f24b"/><stop offset="0.514" stop-color="#adf25f"/><stop offset="0.604" stop-color="#a7f264"/><stop offset="0.879" stop-color="#a1f26a"/><stop offset="1.000" stop-color="#a0f26c"/></linearGradient>
<linearGradient id="h167" x2="0" y2="1"><stop offset="0.000" stop-color="#99f272"/><stop offset="0.097" stop-color="#99f272"/><stop offset="0.127" stop-color="#b0f25c"/><stop offset="0.157" stop-color="#ffeb0d"/><stop offset="0.202" stop-color="#ffe50d"/><stop offset="0.252" stop-color="#ffe50d"/><stop offset="0.332" stop-color="#ffe50d"/><stop offset="0.378" stop-color="#fef20d"/><stop offset="0.438" stop-color="#d5f237"/><stop offset="0.514" stop-color="#aff25d"/><stop offset="0.604" stop-color="#a9f263"/><stop offset="0.879" stop-color="#a2f26a"/><stop offset="1.000" stop-color="#a0f26b"/></linearGradient>
<linearGradient id="h168" x2="0" y2="1"><stop offset="0.000" stop-color="#99f272"/><stop offset="0.097" stop-color="#99f272"/><stop offset="0.127" stop-color="#adf25f"/><stop offset="0.157" stop-color="#f8f214"/><stop offset="0.202" stop-color="#fdf20f"/><stop offset="0.252" stop-color="#fdf20f"/><stop offset="0.332" stop-color="#fdf20f"/><stop offset="0.378" stop-color="#f1f21b"/><stop offset="0.438" stop-color="#cff23d"/><stop offset="0.514" stop-color="#aff25d"/><stop offset="0.604" stop-color="#a9f263"/><stop offset="0.879" stop-color="#a2f26a"/><stop offset="1.000" stop-color="#a0f26b"/></linearGradient>
<linearGradient id="h169" x2="0" y2="1"><stop offset="0.000" stop-color="#99f272"/><stop offset="0.097" stop-color="#99f272"/><stop offset="0.127" stop-color="#a0f26c"/><stop offset="0.157" stop-color="#b8f254"/><stop offset="0.202" stop-color="#baf252"/><stop offset="0.252" stop-color="#baf252"/><stop offset="0.332" stop-color="#b9f252"/><stop offset="0.378" stop-color="#b6f256"/><stop offset="0.438" stop-color="#aef25e"/><stop offset="0.514" stop-color="#a4f267"/><stop offset="0.604" stop-color="#a1f26b"/><stop offset="0.879" stop-color="#9ef26e"/><stop offset="1.000" stop-color="#9df26f"/></linearGradient>
<linearGradient id="h170" x2="0" y2="1"><stop offset="0.000" stop-color="#99f272"/><stop offset="0.097" stop-color="#99f272"/><stop offset="0.127" stop-color="#86f286"/><stop offset="0.157" stop-color="#3cf2d0"/><stop offset="0.202" stop-color="#36f2d6"/><stop offset="0.252" stop-color="#36f2d6"/><stop offset="0.332" stop-color="#36f2d5"/><stop offset="0.378" stop-color="#41f2cb"/><stop offset="0.438" stop-color="#5cf2af"/><stop offset="0.514" stop-color="#7af292"/><stop offset="0.604" stop-color="#83f289"/><stop offset="0.879" stop-color="#8cf27f"/><stop offset="1.000" stop-color="#8ff27d"/></linearGradient>
<linearGradient id="h171" x2="0" y2="1"><stop offset="0.000" stop-color="#99f272"/><stop offset="0.097" stop-color="#99f272"/><stop offset="0.127" stop-color="#5ef2ae"/><stop offset="0.157" stop-color="#0d6cff"/><stop offset="0.202" stop-color="#0d5dff"/><stop offset="0.252" stop-color="#0d5dff"/><stop offset="0.332" stop-color="#0d5eff"/><stop offset="0.378" stop-color="#0d7eff"/><stop offset="0.438" stop-color="#0ddaff"/><stop offset="0.514" stop-color="#51f2ba"/><stop offset="0.604" stop-color="#65f2a6"/><stop offset="0.879" stop-color="#7cf290"/><stop offset="1.000" stop-color="#82f28a"/></linearGradient>
<linearGradient id="h172" x2="0" y2="1"><stop offset="0.000" stop-color="#99f272"/><stop offset="0.097" stop-color="#99f272"/><stop offset="0.127" stop-color="#4af2c2"/><stop offset="0.157" stop-color="#0d12ff"/><stop offset="0.202" stop-color="#0d0cef"/><stop offset="0.252" stop-color="#0d0cef"/><stop offset="0.332" stop-color="#0d0cf0"/><stop offset="0.378" stop-color="#0d2dff"/><stop offset="0.438" stop-color="#0db6ff"/><stop offset="0.514" stop-color="#51f2ba"/><stop offset="0.604" stop-color="#65f2a6"/><stop offset="0.879" stop-color="#7cf290"/><stop offset="1.000" stop-color="#82f28a"/></linearGradient>
<linearGradient id="h173" x2="0" y2="1"><stop offset="0.000" stop-color="#99f272"/><stop offset="0.097" stop-color="#99f272"/><stop offset="0.127" stop-color="#5af2b2"/><stop offset="0.157" stop-color="#0d59ff"/><stop offset="0.202" stop-color="#0d48ff"/><stop offset="0.252" stop-color="#0d48ff"/><stop offset="0.332" stop-color="#0d49ff"/><stop offset="0.378" stop-color="#0d6dff"/><stop offset="0.438" stop-color="#0dd2ff"/><stop offset="0.514" stop-color="#51f2ba"/><stop offset="0.604" stop-color="#65f2a6"/><stop offset="0.879" stop-color="#7cf290"/><stop offset="1.000" stop-color="#82f28a"/></linearGradient>
<linearGradient id="h174" x2="0" y2="1"><stop offset="0.000" stop-color="#99f272"/><stop offset="0.097" stop-color="#99f272"/><stop offset="0.127" stop-color="#7ef28e"/><stop offset="0.157" stop-color="#18f2f4"/><stop offset="0.202" stop-color="#11f2fb"/><stop offset="0.252" stop-color="#11f2fb"/><stop offset="0.332" stop-color="#11f2fb"/><stop offset="0.378" stop-color="#1ff2ed"/><stop offset="0.438" stop-color="#45f2c7"/><stop offset="0.514" stop-color="#6ef29e"/><stop offset="0.604" stop-color="#7af292"/><stop offset="0.879" stop-color="#87f284"/><stop offset="1.000" stop-color="#8bf281"/></linearGradient>
<linearGradient id="h175" x2="0" y2="1"><stop offset="0.000" stop-color="#99f272"/><stop offset="0.097" stop-color="#99f272"/><stop offset="0.127" stop-color="#a2f26a"/><stop offset="0.157" stop-color="#c4f248"/><stop offset="0.202" stop-color="#c6f246"/><stop offset="0.252" stop-color="#c6f246"/><stop offset="0.332" stop-color="#c6f246"/><stop offset="0.378" stop-color="#c2f24a"/><stop offset="0.438" stop-color="#b6f256"/><stop offset="0.514" stop-color="#a8f263"/><stop offset="0.604" stop-color="#a4f268"/><stop offset="0.879" stop-color="#9ff26c"/><stop offset="1.000" stop-color="#9ef26e"/></linearGradient>
<linearGradient id="h176" x2="0" y2="1"><stop offset="0.000" stop-color="#99f272"/><stop offset="0.097" stop-color="#99f272"/><stop offset="0.127" stop-color="#bff24d"/><stop offset="0.157" stop-color="#ffa80d"/><stop offset="0.202" stop-color="#ff9d0d"/><stop offset="0.252" stop-color="#ff9d0d"/><stop offset="0.332" stop-color="#ff9e0d"/><stop offset="0.378" stop-color="#ffb30d"/><stop offset="0.438" stop-color="#ffef0d"/><stop offset="0.514" stop-color="#c6f246"/><stop offset="0.604" stop-color="#b9f252"/><stop offset="0.879" stop-color="#acf260"/><stop offset="1.000" stop-color="#a8f264"/></linearGradient>
<linearGradient id="h177" x2="0" y2="1"><stop offset="0.000" stop-color="#99f272"/><stop offset="0.097" stop-color="#99f272"/><stop offset="0.127" stop-color="#caf242"/><stop offset="0.157" stop-color="#ff770d"/><stop offset="0.202" stop-color="#ff6a0d"/><stop offset="0.252" stop-color="#ff6a0d"/><stop offset="0.332" stop-color="#ff6a0d"/><stop offset="0.378" stop-color="#ff870d"/><stop offset="0.438" stop-color="#ffdb0d"/><stop offset="0.514" stop-color="#c6f246"/><stop offset="0.604" stop-color="#b9f252"/><stop offset="0.879" stop-color="#acf260"/><stop offset="1.000" stop-color="#a8f264"/></linearGradient>
<linearGradient id="h178" x2="0" y2="1"><stop offset="0.000" stop-color="#99f272"/><stop offset="0.097" stop-color="#99f272"/><stop offset="0.127" stop-color="#b9f253"/><stop offset="0.157" stop-color="#ffc40d"/><stop offset="0.202" stop-color="#ffbc0d"/><stop offset="0.252" stop-color="#ffbc0d"/><stop offset="0.332" stop-color="#ffbc0d"/><stop offset="0.378" stop-color="#ffcd0d"/><stop offset="0.438" stop-color="#f6f216"/><stop offset="0.514" stop-color="#c5f247"/><stop offset="0.604" stop-color="#b9f253"/><stop offset="0.879" stop-color="#abf260"/><stop offset="1.000" stop-color="#a8f264"/></linearGradient>
<linearGradient id="h179" x2="0" y2="1"><stop offset="0.000" stop-color="#99f272"/><stop offset="0.097" stop-color="#99f272"/><stop offset="0.127" stop-color="#9af272"/><stop offset="0.157" stop-color="#9df26f"/><stop offset="0.202" stop-color="#9df26e"/><stop offset="0.252" stop-color="#9df26e"/><stop offset="0.332" stop-color="#9df26e"/><stop offset="0.378" stop-color="#9df26e"/><stop offset="0.438" stop-color="#9df26f"/><stop offset="0.514" stop-color="#9cf270"/><stop offset="0.604" stop-color="#9bf270"/><stop offset="0.879" stop-color="#9af271"/><stop offset="1.000" stop-color="#9af272"/></linearGradient>
<linearGradient id="h180" x2="0" y2="1"><stop offset="0.000" stop-color="#99f272"/><stop offset="0.097" stop-color="#99f272"/><stop offset="0.127" stop-color="#6ff29c"/><stop offset="0.157" stop-color="#0dbbff"/><stop offset="0.202" stop-color="#0db0ff"/><stop offset="0.252" stop-color="#0db0ff"/><stop offset="0.332" stop-color="#0db0ff"/><stop offset="0.378" stop-color="#0dc5ff"/><stop offset="0.438" stop-color="#19f2f2"/><stop offset="0.514" stop-color="#59f2b3"/><stop offset="0.604" stop-color="#6bf2a1"/><stop offset="0.879" stop-color="#7ff28d"/><stop offset="1.000" stop-color="#84f288"/></linearGradient>
<linearGradient id="h181" x2="0" y2="1"><stop offset="0.000" stop-color="#99f272"/><stop offset="0.097" stop-color="#99f272"/><stop offset="0.127" stop-color="#52f2ba"/><stop offset="0.157" stop-color="#0d36ff"/><stop offset="0.202" stop-color="#0d23ff"/><stop offset="0.252" stop-color="#0d23ff"/><stop offset="0.332" stop-color="#0d24ff"/><stop offset="0.378" stop-color="#0d4dff"/><stop offset="0.438" stop-color="#0dc4ff"/><stop offset="0.514" stop-color="#51f2ba"/><stop offset="0.604" stop-color="#65f2a6"/><stop offset="0.879" stop-color="#7cf290"/><stop offset="1.000" stop-color="#82f28a"/></linearGradient>
<linearGradient id="h182" x2="0" y2="1"><stop offset="0.000" stop-color="#99f272"/><stop offset="0.097" stop-color="#99f272"/><stop offset="0.127" stop-color="#4df2bf"/><stop offset="0.157" stop-color="#0d1fff"/><stop offset="0.202" stop-color="#0d0cfe"/><stop offset="0.252" stop-color="#0d0cfe"/><stop offset="0.332" stop-color="#0d0cff"/><stop offset="0.378" stop-color="#0d39ff"/><stop offset="0.438" stop-color="#0dbbff"/><stop offset="0.514" stop-color="#51f2ba"/><stop offset="0.604" stop-color="#65f2a6"/><stop offset="0.879" stop-color="#7cf290"/><stop offset="1.000" stop-color="#82f28a"/></linearGradient>
<linearGradient id="h183" x2="0" y2="1"><stop offset="0.000" stop-color="#99f272"/><stop offset="0.097" stop-color="#99f272"/><stop offset="0.127" stop-color="#66f2a5"/><stop offset="0.157" stop-color="#0d91ff"/><stop offset="0.202" stop-color="#0d84ff"/><stop offset="0.252" stop-color="#0d84ff"/><stop offset="0.332" stop-color="#0d85ff"/><stop offset="0.378" stop-color="#0d9fff"/><stop offset="0.438" stop-color="#0de2ff"/><stop offset="0.514" stop-color="#4bf2c1"/><stop offset="0.604" stop-color="#5ff2ad"/><stop offset="0.879" stop-color="#77f295"/><stop offset="1.000" stop-color="#7ef28e"/></linearGradient>
<linearGradient id="h184" x2="0" y2="1"><stop offset="0.000" stop-color="#99f272"/><stop offset="0.097" stop-color="#99f272"/><stop offset="0.127" stop-color="#92f27a"/><stop offset="0.157" stop-color="#76f296"/><stop offset="0.202" stop-color="#74f298"/><stop offset="0.252" stop-color="#74f298"/><stop offset="0.332" stop-color="#74f297"/><stop offset="0.378" stop-color="#79f293"/><stop offset="0.438" stop-color="#61f2ab"/><stop offset="0.514" stop-color="#6cf29f"/><stop offset="0.604" stop-color="#6ff29d"/><stop offset="0.879" stop-color="#7df28f"/><stop offset="1.000" stop-color="#81f28b"/></linearGradient>
<linearGradient id="h185" x2="0" y2="1"><stop offset="0.000" stop-color="#99f272"/><stop offset="0.097" stop-color="#99f272"/><stop offset="0.127" stop-color="#99f273"/><stop offset="0.157" stop-color="#98f274"/><stop offset="0.202" stop-color="#98f274"/><stop offset="0.252" stop-color="#98f274"/><stop offset="0.332" stop-color="#98f274"/><stop offset="0.378" stop-color="#98f273"/><stop offset="0.438" stop-color="#6ef29d"/><stop offset="0.514" stop-color="#6ff29d"/><stop offset="0.604" stop-color="#6ff29d"/><stop offset="0.879" stop-color="#7cf28f"/><stop offset="1.000" stop-color="#80f28c"/></linearGradient>
<linearGradient id="h186" x2="0" y2="1"><stop offset="0.000" stop-color="#99f272"/><stop offset="0.097" stop-color="#99f272"/><stop offset="0.127" stop-color="#99f273"/><stop offset="0.157" stop-color="#99f273"/><stop offset="0.202" stop-color="#99f273"/><stop offset="0.252" stop-color="#99f273"/><stop offset="0.332" stop-color="#99f273"/><stop offset="0.378" stop-color="#99f273"/><stop offset="0.438" stop-color="#6ff29d"/><stop offset="0.514" stop-color="#6ff29d"/><stop offset="0.604" stop-color="#6ff29d"/><stop offset="0.879" stop-color="#7cf28f"/><stop offset="1.000" stop-color="#80f28c"/></linearGradient>
<linearGradient id="h187" x2="0" y2="1"><stop offset="0.000" stop-color="#99f272"/><stop offset="0.097" stop-color="#99f272"/><stop offset="0.127" stop-color="#99f272"/><stop offset="0.157" stop-color="#99f272"/><stop offset="0.202" stop-color="#99f272"/><stop offset="0.252" stop-color="#99f272"/><stop offset="0.332" stop-color="#99f272"/><stop offset="0.378" stop-color="#99f272"/><stop offset="0.438" stop-color="#6ff29d"/><stop offset="0.514" stop-color="#6ff29d"/><stop offset="0.604" stop-color="#6ff29d"/><stop offset="0.879" stop-color="#7cf28f"/><stop offset="1.000" stop-color="#80f28c"/></linearGradient></defs>
<rect width="550" height="498" fill="#fff"/>
<rect x="44.3" y="141.8" width="124.2" height="98.5" fill="none" stroke="#222" stroke-width="0.8" />
<line x1="44.3" y1="240.3" x2="46.3" y2="240.3" stroke="#222" stroke-width="0.6" />
<text x="42.3" y="242.4" font-family="Liberation Sans" font-size="6" font-weight="normal" text-anchor="end" fill="#333" >0.00</text>
<line x1="44.3" y1="215.7" x2="46.3" y2="215.7" stroke="#222" stroke-width="0.6" />
<text x="42.3" y="217.8" font-family="Liberation Sans" font-size="6" font-weight="normal" text-anchor="end" fill="#333" >0.05</text>
<line x1="44.3" y1="191.1" x2="46.3" y2="191.1" stroke="#222" stroke-width="0.6" />
<text x="42.3" y="193.2" font-family="Liberation Sans" font-size="6" font-weight="normal" text-anchor="end" fill="#333" >0.10</text>
<line x1="44.3" y1="166.4" x2="46.3" y2="166.4" stroke="#222" stroke-width="0.6" />
<text x="42.3" y="168.5" font-family="Liberation Sans" font-size="6" font-weight="normal" text-anchor="end" fill="#333" >0.15</text>
<line x1="44.3" y1="141.8" x2="46.3" y2="141.8" stroke="#222" stroke-width="0.6" />
<text x="42.3" y="143.9" font-family="Liberation Sans" font-size="6" font-weight="normal" text-anchor="end" fill="#333" >0.20</text>
<line x1="47.4" y1="240.3" x2="47.4" y2="238.3" stroke="#222" stroke-width="0.6" />
<text x="47.4" y="248.2" font-family="Liberation Sans" font-size="6" font-weight="normal" text-anchor="middle" fill="#333" >5</text>
<line x1="62.3" y1="240.3" x2="62.3" y2="238.3" stroke="#222" stroke-width="0.6" />
<text x="62.3" y="248.2" font-family="Liberation Sans" font-size="6" font-weight="normal" text-anchor="middle" fill="#333" >10</text>
<line x1="77.2" y1="240.3" x2="77.2" y2="238.3" stroke="#222" stroke-width="0.6" />
<text x="77.2" y="248.2" font-family="Liberation Sans" font-size="6" font-weight="normal" text-anchor="middle" fill="#333" >15</text>
<line x1="92" y1="240.3" x2="92" y2="238.3" stroke="#222" stroke-width="0.6" />
<text x="92" y="248.2" font-family="Liberation Sans" font-size="6" font-weight="normal" text-anchor="middle" fill="#333" >20</text>
<line x1="106.9" y1="240.3" x2="106.9" y2="238.3" stroke="#222" stroke-width="0.6" />
<text x="106.9" y="248.2" font-family="Liberation Sans" font-size="6" font-weight="normal" text-anchor="middle" fill="#333" >25</text>
<line x1="121.8" y1="240.3" x2="121.8" y2="238.3" stroke="#222" stroke-width="0.6" />
<text x="121.8" y="248.2" font-family="Liberation Sans" font-size="6" font-weight="normal" text-anchor="middle" fill="#333" >30</text>
<line x1="136.7" y1="240.3" x2="136.7" y2="238.3" stroke="#222" stroke-width="0.6" />
<text x="136.7" y="248.2" font-family="Liberation Sans" font-size="6" font-weight="normal" text-anchor="middle" fill="#333" >35</text>
<line x1="151.5" y1="240.3" x2="151.5" y2="238.3" stroke="#222" stroke-width="0.6" />
<text x="151.5" y="248.2" font-family="Liberation Sans" font-size="6" font-weight="normal" text-anchor="middle" fill="#333" >40</text>
<line x1="166.4" y1="240.3" x2="166.4" y2="238.3" stroke="#222" stroke-width="0.6" />
<text x="166.4" y="248.2" font-family="Liberation Sans" font-size="6" font-weight="normal" text-anchor="middle" fill="#333" >45</text>
<text x="105.8" y="257" font-family="Liberation Sans" font-size="6" font-weight="normal" text-anchor="middle" fill="#333" >z (nm)</text>
<text x="0" y="0" font-family="Liberation Sans" font-size="6" font-weight="normal" text-anchor="middle" fill="#333" transform="translate(27.3,193) rotate(-90)">Squared wavefunction (nm<tspan font-size="4" dy="-2">-1</tspan><tspan dy="2">)</tspan></text>
<polyline points="47,240.3 47.6,239.4 48.3,238.1 48.9,236.5 49.6,234.7 50.2,232.7 50.9,230.6 51.6,228.5 52.2,226.2 52.9,223.9 53.5,221.6 54.2,219.3 54.8,216.9 55.5,214.5 56.2,212.2 56.8,209.9 57.5,207.6 58.1,205.4 58.8,203.2 59.4,201.1 60.1,199.1 60.8,197.2 61.4,195.4 62.1,193.7 62.7,192.1 63.4,190.6 64,189.2 64.7,188 65.4,187 66,186 66.7,185.3 67.3,184.6 68,184.2 68.7,183.8 69.3,183.7 70,183.7 70.6,183.8 71.3,184.2 71.9,184.6 72.6,185.3 73.3,186 73.9,187 74.6,188 75.2,189.2 75.9,190.6 76.5,192.1 77.2,193.7 77.9,195.4 78.5,197.2 79.2,199.1 79.8,201.1 80.5,203.2 81.1,205.4 81.8,207.6 82.5,209.9 83.1,212.2 83.8,214.5 84.4,216.9 85.1,219.3 85.7,221.6 86.4,223.9 87.1,226.2 87.7,228.5 88.4,230.6 89,232.7 89.7,234.7 90.3,236.5 91,238.1 91.7,239.4 92.3,240.3" fill="none" stroke="#111" stroke-width="0.9" />
<polyline points="92.6,240.3 93.1,239 93.5,237 94,234.7 94.4,232.1 94.8,229.2 95.3,226.2 95.7,223 96.2,219.8 96.6,216.4 97.1,213 97.5,209.6 97.9,206.1 98.4,202.7 98.8,199.2 99.3,195.9 99.7,192.5 100.2,189.3 100.6,186.1 101.1,183.1 101.5,180.1 101.9,177.3 102.4,174.7 102.8,172.2 103.3,169.8 103.7,167.7 104.2,165.7 104.6,163.9 105.1,162.4 105.5,161 105.9,159.9 106.4,159 106.8,158.3 107.3,157.8 107.7,157.6 108.2,157.6 108.6,157.8 109.1,158.3 109.5,159 109.9,159.9 110.4,161 110.8,162.4 111.3,163.9 111.7,165.7 112.2,167.7 112.6,169.8 113,172.2 113.5,174.7 113.9,177.3 114.4,180.1 114.8,183.1 115.3,186.1 115.7,189.3 116.2,192.5 116.6,195.9 117,199.2 117.5,202.7 117.9,206.1 118.4,209.6 118.8,213 119.3,216.4 119.7,219.8 120.2,223 120.6,226.2 121,229.2 121.5,232.1 121.9,234.7 122.4,237 122.8,239 123.3,240.3" fill="none" stroke="#111" stroke-width="0.9" />
<polyline points="96.5,240.3 97,237 97.5,233.2 97.9,229.3 98.4,225.3 98.9,221.3 99.4,217.2 99.9,213.2 100.4,209.3 100.8,205.5 101.3,201.8 101.8,198.2 102.3,194.7 102.8,191.4 103.2,188.2 103.7,185.2 104.2,182.4 104.7,179.7 105.2,177.3 105.7,175 106.1,173 106.6,171.1 107.1,169.4 107.6,168 108.1,166.7 108.6,165.7 109,164.8 109.5,164.2 110,163.7 110.5,163.5 111,163.5 111.5,163.6 111.9,164 112.4,164.5 112.9,165.3 113.4,166.1 113.9,167.2 114.4,168.4 114.8,169.8 115.3,171.4 115.8,173 116.3,174.9 116.8,176.8 117.3,178.9 117.7,181 118.2,183.3 118.7,185.7 119.2,188.1 119.7,190.6 120.1,193.2 120.6,195.8 121.1,198.5 121.6,201.2 122.1,203.9 122.6,206.7 123,209.4 123.5,212.2 124,214.9 124.5,217.6 125,220.2 125.5,222.8 125.9,225.3 126.4,227.8 126.9,230.1 127.4,232.3 127.9,234.4 128.4,236.3 128.8,238 129.3,239.4 129.8,240.3" fill="none" stroke="#111" stroke-width="0.9" stroke-dasharray="2.2,1.6"/>
<line x1="51.3" y1="152.5" x2="64.4" y2="152.5" stroke="#111" stroke-width="0.9" />
<text x="65.4" y="154.6" font-family="Liberation Sans" font-size="6" font-weight="normal" text-anchor="start" fill="#222" >L<tspan font-size="3.5" dy="1.2">AlAs</tspan><tspan dy="-1.2">=0 nm</tspan></text>
<line x1="51.3" y1="162.4" x2="64.4" y2="162.4" stroke="#111" stroke-width="0.9" stroke-dasharray="2.2,1.6"/>
<text x="65.4" y="164.8" font-family="Liberation Sans" font-size="6" font-weight="normal" text-anchor="start" fill="#222" >L<tspan font-size="3.5" dy="1.2">AlAs</tspan><tspan dy="-1.2">=2 nm</tspan></text>
<rect x="125.2" y="141.8" width="43.3" height="35.7" fill="#fff" stroke="#222" stroke-width="0.7" />
<polyline points="129.4,145.8 129.4,163.6 148.2,163.6 148.2,145.8 150.3,145.8 150.3,154.7 162.8,154.7 162.8,145.8 166,145.8" fill="none" stroke="#333" stroke-width="0.7" stroke-dasharray="0.8,1.2"/>
<polyline points="126,166.2 129.4,168.3 148,168.3 150.3,162.5 162.8,162.5 162.8,166.2 168,166.2" fill="none" stroke="#333" stroke-width="0.8" />
<line x1="126.5" y1="173.5" x2="168.5" y2="173.5" stroke="#333" stroke-width="0.8" stroke-dasharray="3.5,5"/>
<text x="129.4" y="180.5" font-family="Liberation Sans" font-size="2.5" font-weight="normal" text-anchor="middle" fill="#555" >0</text>
<text x="135.5" y="180.5" font-family="Liberation Sans" font-size="2.5" font-weight="normal" text-anchor="middle" fill="#555" >5</text>
<text x="141.6" y="180.5" font-family="Liberation Sans" font-size="2.5" font-weight="normal" text-anchor="middle" fill="#555" >10</text>
<text x="147.7" y="180.5" font-family="Liberation Sans" font-size="2.5" font-weight="normal" text-anchor="middle" fill="#555" >15</text>
<text x="153.8" y="180.5" font-family="Liberation Sans" font-size="2.5" font-weight="normal" text-anchor="middle" fill="#555" >20</text>
<text x="159.9" y="180.5" font-family="Liberation Sans" font-size="2.5" font-weight="normal" text-anchor="middle" fill="#555" >25</text>
<text x="166" y="180.5" font-family="Liberation Sans" font-size="2.5" font-weight="normal" text-anchor="middle" fill="#555" >30</text>
<text x="147" y="184.3" font-family="Liberation Sans" font-size="2.5" font-weight="normal" text-anchor="middle" fill="#555" >z (nm)</text>
<text x="0" y="0" font-family="Liberation Sans" font-size="2.5" font-weight="normal" text-anchor="middle" fill="#555" transform="translate(122.5,160) rotate(-90)">Potential energy (meV)</text>
<rect x="200.3" y="144.3" width="136.3" height="101.9" fill="none" stroke="#333" stroke-width="0.8" />
<text x="197.2" y="247.8" font-family="Liberation Serif" font-size="4.8" font-weight="bold" text-anchor="end" fill="#333" >0</text>
<line x1="200.3" y1="230.5" x2="202.3" y2="230.5" stroke="#333" stroke-width="0.5" />
<text x="197.2" y="232.1" font-family="Liberation Serif" font-size="4.8" font-weight="bold" text-anchor="end" fill="#333" >5,000</text>
<line x1="200.3" y1="214.8" x2="202.3" y2="214.8" stroke="#333" stroke-width="0.5" />
<text x="197.2" y="216.4" font-family="Liberation Serif" font-size="4.8" font-weight="bold" text-anchor="end" fill="#333" >10,000</text>
<line x1="200.3" y1="199.2" x2="202.3" y2="199.2" stroke="#333" stroke-width="0.5" />
<text x="197.2" y="200.8" font-family="Liberation Serif" font-size="4.8" font-weight="bold" text-anchor="end" fill="#333" >15,000</text>
<line x1="200.3" y1="183.5" x2="202.3" y2="183.5" stroke="#333" stroke-width="0.5" />
<text x="197.2" y="185.1" font-family="Liberation Serif" font-size="4.8" font-weight="bold" text-anchor="end" fill="#333" >20,000</text>
<line x1="200.3" y1="167.8" x2="202.3" y2="167.8" stroke="#333" stroke-width="0.5" />
<text x="197.2" y="169.4" font-family="Liberation Serif" font-size="4.8" font-weight="bold" text-anchor="end" fill="#333" >25,000</text>
<line x1="200.3" y1="152.1" x2="202.3" y2="152.1" stroke="#333" stroke-width="0.5" />
<text x="197.2" y="153.7" font-family="Liberation Serif" font-size="4.8" font-weight="bold" text-anchor="end" fill="#333" >30,000</text>
<line x1="200.3" y1="246.2" x2="200.3" y2="244.2" stroke="#333" stroke-width="0.5" />
<text x="200.3" y="251.2" font-family="Liberation Serif" font-size="4.2" font-weight="bold" text-anchor="middle" fill="#333" >800</text>
<line x1="217.3" y1="246.2" x2="217.3" y2="244.2" stroke="#333" stroke-width="0.5" />
<text x="217.3" y="251.2" font-family="Liberation Serif" font-size="4.2" font-weight="bold" text-anchor="middle" fill="#333" >825</text>
<line x1="234.4" y1="246.2" x2="234.4" y2="244.2" stroke="#333" stroke-width="0.5" />
<text x="234.4" y="251.2" font-family="Liberation Serif" font-size="4.2" font-weight="bold" text-anchor="middle" fill="#333" >850</text>
<line x1="251.4" y1="246.2" x2="251.4" y2="244.2" stroke="#333" stroke-width="0.5" />
<text x="251.4" y="251.2" font-family="Liberation Serif" font-size="4.2" font-weight="bold" text-anchor="middle" fill="#333" >875</text>
<line x1="268.5" y1="246.2" x2="268.5" y2="244.2" stroke="#333" stroke-width="0.5" />
<text x="268.5" y="251.2" font-family="Liberation Serif" font-size="4.2" font-weight="bold" text-anchor="middle" fill="#333" >900</text>
<line x1="285.5" y1="246.2" x2="285.5" y2="244.2" stroke="#333" stroke-width="0.5" />
<text x="285.5" y="251.2" font-family="Liberation Serif" font-size="4.2" font-weight="bold" text-anchor="middle" fill="#333" >925</text>
<line x1="302.5" y1="246.2" x2="302.5" y2="244.2" stroke="#333" stroke-width="0.5" />
<text x="302.5" y="251.2" font-family="Liberation Serif" font-size="4.2" font-weight="bold" text-anchor="middle" fill="#333" >950</text>
<line x1="319.6" y1="246.2" x2="319.6" y2="244.2" stroke="#333" stroke-width="0.5" />
<text x="319.6" y="251.2" font-family="Liberation Serif" font-size="4.2" font-weight="bold" text-anchor="middle" fill="#333" >975</text>
<line x1="336.6" y1="246.2" x2="336.6" y2="244.2" stroke="#333" stroke-width="0.5" />
<text x="336.6" y="251.2" font-family="Liberation Serif" font-size="4.2" font-weight="bold" text-anchor="middle" fill="#333" >1000</text>
<text x="268.7" y="259.8" font-family="Liberation Serif" font-size="6.5" font-weight="bold" text-anchor="middle" fill="#222" >Wavelength (nm)</text>
<text x="0" y="0" font-family="Liberation Serif" font-size="5.4" font-weight="bold" text-anchor="middle" fill="#222" transform="translate(181.6,198) rotate(-90)">PL Intensity(a.u.)</text>
<polyline points="200.3,234.6 200.6,234.2 200.8,233.9 201.1,233.5 201.4,233.1 201.7,232.8 201.9,232.6 202.2,232.4 202.5,232.4 202.8,232.3 203,232.3 203.3,232.2 203.6,232.2 203.9,232.2 204.1,232.1 204.4,232.1 204.7,232.1 204.9,232 205.2,232 205.5,232 205.8,232 206,231.9 206.3,231.9 206.6,231.9 206.9,231.9 207.1,231.9 207.4,231.9 207.7,231.8 207.9,231.8 208.2,231.8 208.5,231.8 208.8,231.8 209,231.8 209.3,231.8 209.6,231.8 209.9,231.8 210.1,231.8 210.4,231.8 210.7,231.8 211,231.8 211.2,231.8 211.5,231.8 211.8,231.8 212,231.8 212.3,231.8 212.6,231.8 212.9,231.8 213.1,231.8 213.4,231.8 213.7,231.8 214,231.9 214.2,231.9 214.5,231.9 214.8,231.9 215,231.9 215.3,231.9 215.6,231.9 215.9,231.9 216.1,232 216.4,232 216.7,232 217,232 217.2,232 217.5,232 217.8,232 218.1,232 218.3,232 218.6,232.1 218.9,232.1 219.1,232.1 219.4,232.1 219.7,232.1 220,232.1 220.2,232.1 220.5,232.1 220.8,232.1 221.1,232.1 221.3,232.1 221.6,232.1 221.9,232.1 222.2,232.1 222.4,232.1 222.7,232.1 223,232.1 223.2,232 223.5,232 223.8,232 224.1,232 224.3,232 224.6,232 224.9,232 225.2,232 225.4,231.9 225.7,231.9 226,231.9 226.2,231.9 226.5,231.9 226.8,231.9 227.1,231.8 227.3,231.8 227.6,231.8 227.9,231.8 228.2,231.7 228.4,231.7 228.7,231.7 229,231.7 229.3,231.7 229.5,231.6 229.8,231.6 230.1,231.6 230.3,231.6 230.6,231.5 230.9,231.5 231.2,231.5 231.4,231.5 231.7,231.4 232,231.4 232.3,231.4 232.5,231.3 232.8,231.3 233.1,231.3 233.4,231.3 233.6,231.2 233.9,231.2 234.2,231.2 234.4,231.1 234.7,231.1 235,231.1 235.3,231 235.5,231 235.8,231 236.1,230.9 236.4,230.9 236.6,230.8 236.9,230.8 237.2,230.7 237.4,230.7 237.7,230.6 238,230.6 238.3,230.5 238.5,230.5 238.8,230.4 239.1,230.3 239.4,230.3 239.6,230.2 239.9,230.2 240.2,230.1 240.5,230 240.7,230 241,229.9 241.3,229.9 241.5,229.8 241.8,229.7 242.1,229.7 242.4,229.6 242.6,229.6 242.9,229.5 243.2,229.4 243.5,229.4 243.7,229.3 244,229.2 244.3,229.1 244.5,229 244.8,228.9 245.1,228.8 245.4,228.8 245.6,228.7 245.9,228.6 246.2,228.5 246.5,228.4 246.7,228.3 247,228.3 247.3,228.2 247.6,228.1 247.8,228.1 248.1,228 248.4,228 248.6,228 248.9,227.9 249.2,227.9 249.5,227.9 249.7,227.9 250,227.9 250.3,228 250.6,228 250.8,228.1 251.1,228.1 251.4,228.2 251.7,228.2 251.9,228.3 252.2,228.4 252.5,228.5 252.7,228.5 253,228.6 253.3,228.7 253.6,228.8 253.8,228.9 254.1,229 254.4,229.1 254.7,229.1 254.9,229.2 255.2,229.3 255.5,229.4 255.7,229.5 256,229.5 256.3,229.6 256.6,229.7 256.8,229.7 257.1,229.7 257.4,229.8 257.7,229.8 257.9,229.8 258.2,229.8 258.5,229.8 258.8,229.8 259,229.8 259.3,229.8 259.6,229.8 259.8,229.8 260.1,229.8 260.4,229.8 260.7,229.8 260.9,229.7 261.2,229.7 261.5,229.7 261.8,229.7 262,229.6 262.3,229.6 262.6,229.6 262.9,229.6 263.1,229.5 263.4,229.5 263.7,229.5 263.9,229.4 264.2,229.4 264.5,229.4 264.8,229.3 265,229.3 265.3,229.2 265.6,229.2 265.9,229.2 266.1,229.1 266.4,229.1 266.7,229 266.9,229 267.2,228.9 267.5,228.9 267.8,228.9 268,228.8 268.3,228.8 268.6,228.7 268.9,228.7 269.1,228.6 269.4,228.5 269.7,228.4 270,228.3 270.2,228.3 270.5,228.2 270.8,228.1 271,227.9 271.3,227.8 271.6,227.7 271.9,227.6 272.1,227.5 272.4,227.3 272.7,227.2 273,227.1 273.2,226.9 273.5,226.8 273.8,226.6 274,226.5 274.3,226.3 274.6,226.2 274.9,226 275.1,225.9 275.4,225.7 275.7,225.6 276,225.4 276.2,225.2 276.5,225 276.8,224.7 277.1,224.5 277.3,224.3 277.6,224.1 277.9,223.8 278.1,223.6 278.4,223.3 278.7,223.1 279,222.9 279.2,222.6 279.5,222.4 279.8,222.2 280.1,222 280.3,221.9 280.6,221.7 280.9,221.6 281.2,221.4 281.4,221.3 281.7,221.2 282,221.1 282.2,220.9 282.5,220.8 282.8,220.7 283.1,220.6 283.3,220.5 283.6,220.5 283.9,220.4 284.2,220.3 284.4,220.2 284.7,220.1 285,220 285.2,220 285.5,219.9 285.8,219.8 286.1,219.7 286.3,219.6 286.6,219.6 286.9,219.5 287.2,219.4 287.4,219.3 287.7,219.2 288,219.1 288.3,219 288.5,218.9 288.8,218.8 289.1,218.7 289.3,218.6 289.6,218.5 289.9,218.4 290.2,218.3 290.4,218.1 290.7,218 291,217.9 291.3,217.7 291.5,217.6 291.8,217.4 292.1,217.2 292.4,217 292.6,216.8 292.9,216.6 293.2,216.3 293.4,216.1 293.7,215.8 294,215.5 294.3,215.3 294.5,215 294.8,214.6 295.1,214.3 295.4,214 295.6,213.7 295.9,213.3 296.2,213 296.4,212.6 296.7,212.2 297,211.8 297.3,211.4 297.5,211 297.8,210.5 298.1,210.1 298.4,209.5 298.6,209 298.9,208.5 299.2,207.9 299.5,207.3 299.7,206.6 300,205.9 300.3,205.3 300.5,204.5 300.8,203.8 301.1,203 301.4,202.2 301.6,201.4 301.9,200.5 302.2,199.6 302.5,198.6 302.7,197.5 303,196.3 303.3,195 303.5,193.7 303.8,192.3 304.1,190.8 304.4,189.3 304.6,187.8 304.9,186 305.2,184 305.5,181.8 305.7,179.5 306,177.2 306.3,175 306.6,172.8 306.8,170.7 307.1,168.9 307.4,166.9 307.6,164.9 307.9,162.8 308.2,160.7 308.5,158.7 308.7,156.8 309,155 309.3,153.4 309.6,152 309.8,150.9 310.1,150.2 310.4,149.9 310.7,150.1 310.9,150.7 311.2,151.7 311.5,153 311.7,154.5 312,156.1 312.3,157.7 312.6,159.4 312.8,161.4 313.1,163.7 313.4,166.3 313.7,169 313.9,171.9 314.2,174.9 314.5,177.8 314.7,180.7 315,183.5 315.3,186.4 315.6,189.3 315.8,192.4 316.1,195.3 316.4,198.2 316.7,200.8 316.9,203.1 317.2,205.3 317.5,207.5 317.8,209.6 318,211.5 318.3,213.3 318.6,214.9 318.8,216.3 319.1,217.4 319.4,218.5 319.7,219.5 319.9,220.4 320.2,221.2 320.5,222 320.8,222.8 321,223.5 321.3,224.2 321.6,224.8 321.9,225.5 322.1,226.1 322.4,226.7 322.7,227.3 322.9,227.9 323.2,228.4 323.5,228.8 323.8,229.2 324,229.5 324.3,229.7 324.6,229.9 324.9,230.1 325.1,230.2 325.4,230.4 325.7,230.6 325.9,230.7 326.2,230.8 326.5,231 326.8,231.1 327,231.2 327.3,231.3 327.6,231.4 327.9,231.5 328.1,231.6 328.4,231.7 328.7,231.8 329,231.9 329.2,231.9 329.5,232 329.8,232.1 330,232.2 330.3,232.2 330.6,232.3 330.9,232.4 331.1,232.4 331.4,232.5 331.7,232.6 332,232.6 332.2,232.7 332.5,232.8 332.8,232.8 333,232.9 333.3,232.9 333.6,233 333.9,233 334.1,233.1 334.4,233.1 334.7,233.2 335,233.2 335.2,233.2 335.5,233.3 335.8,233.3 336.1,233.3 336.3,233.3 336.6,233.3" fill="none" stroke="#c0603a" stroke-width="0.8" />
<polyline points="200.3,234.6 200.6,234.2 200.8,233.9 201.1,233.5 201.4,233.1 201.7,232.8 201.9,232.6 202.2,232.4 202.5,232.4 202.8,232.3 203,232.3 203.3,232.2 203.6,232.2 203.9,232.2 204.1,232.1 204.4,232.1 204.7,232.1 204.9,232 205.2,232 205.5,232 205.8,232 206,231.9 206.3,231.9 206.6,231.9 206.9,231.9 207.1,231.9 207.4,231.9 207.7,231.8 207.9,231.8 208.2,231.8 208.5,231.8 208.8,231.8 209,231.8 209.3,231.8 209.6,231.8 209.9,231.8 210.1,231.8 210.4,231.8 210.7,231.8 211,231.8 211.2,231.8 211.5,231.8 211.8,231.8 212,231.8 212.3,231.8 212.6,231.8 212.9,231.8 213.1,231.8 213.4,231.8 213.7,231.8 214,231.9 214.2,231.9 214.5,231.9 214.8,231.9 215,231.9 215.3,231.9 215.6,231.9 215.9,231.9 216.1,232 216.4,232 216.7,232 217,232 217.2,232 217.5,232 217.8,232 218.1,232 218.3,232 218.6,232.1 218.9,232.1 219.1,232.1 219.4,232.1 219.7,232.1 220,232.1 220.2,232.1 220.5,232.1 220.8,232.1 221.1,232.1 221.3,232.1 221.6,232.1 221.9,232.1 222.2,232.1 222.4,232.1 222.7,232 223,232 223.2,232 223.5,232 223.8,232 224.1,232 224.3,231.9 224.6,231.9 224.9,231.9 225.2,231.9 225.4,231.8 225.7,231.8 226,231.8 226.2,231.8 226.5,231.7 226.8,231.7 227.1,231.7 227.3,231.6 227.6,231.6 227.9,231.6 228.2,231.5 228.4,231.5 228.7,231.4 229,231.4 229.3,231.4 229.5,231.3 229.8,231.3 230.1,231.2 230.3,231.2 230.6,231.2 230.9,231.1 231.2,231.1 231.4,231 231.7,231 232,230.9 232.3,230.9 232.5,230.8 232.8,230.8 233.1,230.7 233.4,230.7 233.6,230.7 233.9,230.6 234.2,230.6 234.4,230.5 234.7,230.5 235,230.4 235.3,230.4 235.5,230.3 235.8,230.2 236.1,230.2 236.4,230.1 236.6,230 236.9,230 237.2,229.9 237.4,229.8 237.7,229.7 238,229.7 238.3,229.6 238.5,229.5 238.8,229.4 239.1,229.3 239.4,229.2 239.6,229.1 239.9,229 240.2,228.9 240.5,228.8 240.7,228.7 241,228.6 241.3,228.5 241.5,228.4 241.8,228.3 242.1,228.2 242.4,228.1 242.6,228 242.9,227.8 243.2,227.7 243.5,227.5 243.7,227.3 244,227.1 244.3,226.9 244.5,226.6 244.8,226.4 245.1,226.2 245.4,225.9 245.6,225.7 245.9,225.4 246.2,225.2 246.5,225 246.7,224.8 247,224.6 247.3,224.5 247.6,224.3 247.8,224.2 248.1,224.1 248.4,224.1 248.6,224 248.9,224 249.2,224.1 249.5,224.2 249.7,224.3 250,224.5 250.3,224.7 250.6,224.9 250.8,225.1 251.1,225.4 251.4,225.6 251.7,225.9 251.9,226.1 252.2,226.4 252.5,226.6 252.7,226.9 253,227.1 253.3,227.3 253.6,227.5 253.8,227.6 254.1,227.8 254.4,227.9 254.7,227.9 254.9,227.9 255.2,227.9 255.5,227.9 255.7,227.9 256,227.8 256.3,227.8 256.6,227.8 256.8,227.7 257.1,227.7 257.4,227.6 257.7,227.5 257.9,227.5 258.2,227.4 258.5,227.3 258.8,227.3 259,227.2 259.3,227.1 259.6,227 259.8,227 260.1,226.9 260.4,226.8 260.7,226.7 260.9,226.6 261.2,226.6 261.5,226.5 261.8,226.4 262,226.3 262.3,226.3 262.6,226.2 262.9,226.1 263.1,226 263.4,225.9 263.7,225.8 263.9,225.8 264.2,225.7 264.5,225.6 264.8,225.5 265,225.4 265.3,225.3 265.6,225.2 265.9,225.1 266.1,225 266.4,224.9 266.7,224.8 266.9,224.7 267.2,224.5 267.5,224.4 267.8,224.3 268,224.2 268.3,224.1 268.6,224 268.9,223.8 269.1,223.7 269.4,223.6 269.7,223.5 270,223.3 270.2,223.2 270.5,223 270.8,222.9 271,222.7 271.3,222.6 271.6,222.4 271.9,222.3 272.1,222.1 272.4,221.9 272.7,221.8 273,221.6 273.2,221.4 273.5,221.3 273.8,221.1 274,220.9 274.3,220.8 274.6,220.6 274.9,220.4 275.1,220.2 275.4,220.1 275.7,219.9 276,219.8 276.2,219.6 276.5,219.5 276.8,219.3 277.1,219.2 277.3,219.1 277.6,218.9 277.9,218.8 278.1,218.6 278.4,218.5 278.7,218.3 279,218.1 279.2,217.9 279.5,217.7 279.8,217.4 280.1,217.1 280.3,216.9 280.6,216.5 280.9,216.2 281.2,215.7 281.4,215 281.7,214.3 282,213.4 282.2,212.4 282.5,211.3 282.8,210.1 283.1,208.9 283.3,207.5 283.6,206 283.9,204 284.2,201.6 284.4,199 284.7,196.5 285,194.1 285.2,192.2 285.5,190.2 285.8,188.2 286.1,186.1 286.3,184.3 286.6,182.6 286.9,181.4 287.2,180.6 287.4,180.4 287.7,180.8 288,182 288.3,183.6 288.5,185.5 288.8,187.7 289.1,190 289.3,192.3 289.6,195.3 289.9,198.7 290.2,202.3 290.4,205.5 290.7,208 291,210.2 291.3,212.3 291.5,214.3 291.8,216.2 292.1,217.9 292.4,219.4 292.6,220.7 292.9,221.9 293.2,222.9 293.4,223.9 293.7,224.8 294,225.6 294.3,226.4 294.5,227 294.8,227.6 295.1,228.2 295.4,228.8 295.6,229.3 295.9,229.8 296.2,230.1 296.4,230.4 296.7,230.6 297,230.8 297.3,230.9 297.5,231 297.8,231.2 298.1,231.3 298.4,231.4 298.6,231.6 298.9,231.7 299.2,231.8 299.5,231.9 299.7,232 300,232 300.3,232.1 300.5,232.2 300.8,232.2 301.1,232.3 301.4,232.3 301.6,232.4 301.9,232.4 302.2,232.4 302.5,232.4 302.7,232.4 303,232.4 303.3,232.4 303.5,232.4 303.8,232.4 304.1,232.4 304.4,232.4 304.6,232.4 304.9,232.4 305.2,232.4 305.5,232.4 305.7,232.3 306,232.3 306.3,232.3 306.6,232.3 306.8,232.3 307.1,232.3 307.4,232.3 307.6,232.3 307.9,232.3 308.2,232.2 308.5,232.2 308.7,232.2 309,232.2 309.3,232.2 309.6,232.2 309.8,232.2 310.1,232.1 310.4,232.1 310.7,232.1 310.9,232.1 311.2,232.1 311.5,232.1 311.7,232 312,232 312.3,232 312.6,232 312.8,232 313.1,232 313.4,232 313.7,231.9 313.9,231.9 314.2,231.9 314.5,231.9 314.7,231.9 315,231.9 315.3,231.9 315.6,231.9 315.8,231.9 316.1,231.8 316.4,231.8 316.7,231.8 316.9,231.8 317.2,231.8 317.5,231.8 317.8,231.8 318,231.8 318.3,231.8 318.6,231.8 318.8,231.8 319.1,231.8 319.4,231.8 319.7,231.8 319.9,231.8 320.2,231.8 320.5,231.8 320.8,231.8 321,231.8 321.3,231.9 321.6,231.9 321.9,231.9 322.1,231.9 322.4,232 322.7,232 322.9,232 323.2,232.1 323.5,232.1 323.8,232.1 324,232.2 324.3,232.2 324.6,232.2 324.9,232.3 325.1,232.3 325.4,232.3 325.7,232.4 325.9,232.4 326.2,232.4 326.5,232.4 326.8,232.4 327,232.4 327.3,232.4 327.6,232.5 327.9,232.5 328.1,232.5 328.4,232.5 328.7,232.5 329,232.5 329.2,232.5 329.5,232.5 329.8,232.6 330,232.6 330.3,232.6 330.6,232.6 330.9,232.6 331.1,232.6 331.4,232.6 331.7,232.6 332,232.6 332.2,232.6 332.5,232.7 332.8,232.7 333,232.7 333.3,232.7 333.6,232.7 333.9,232.7 334.1,232.7 334.4,232.7 334.7,232.7 335,232.7 335.2,232.7 335.5,232.7 335.8,232.7 336.1,232.7 336.3,232.7 336.6,232.7" fill="none" stroke="#222" stroke-width="0.8" />
<line x1="207.1" y1="160.3" x2="217.1" y2="160.3" stroke="#3a2222" stroke-width="0.9" />
<text x="218" y="161.8" font-family="Liberation Serif" font-size="4.6" font-weight="normal" text-anchor="start" fill="#333" >Sample A,Photoluminance, laser=1%</text>
<line x1="207.1" y1="166" x2="217.1" y2="166" stroke="#c0603a" stroke-width="0.8" />
<text x="218" y="167.5" font-family="Liberation Serif" font-size="4.6" font-weight="normal" text-anchor="start" fill="#333" >Sample B,Photoluminance, laser=1%</text>
<rect x="391.3" y="141" width="134.9" height="96.3" fill="none" stroke="#222" stroke-width="0.8" />
<line x1="391.3" y1="232.6" x2="393.3" y2="232.6" stroke="#222" stroke-width="0.6" />
<text x="388.8" y="234.8" font-family="Liberation Serif" font-size="6.3" font-weight="normal" text-anchor="end" fill="#222" >0</text>
<line x1="391.3" y1="217.4" x2="393.3" y2="217.4" stroke="#222" stroke-width="0.6" />
<text x="388.8" y="219.6" font-family="Liberation Serif" font-size="6.3" font-weight="normal" text-anchor="end" fill="#222" >1000</text>
<line x1="391.3" y1="202.2" x2="393.3" y2="202.2" stroke="#222" stroke-width="0.6" />
<text x="388.8" y="204.4" font-family="Liberation Serif" font-size="6.3" font-weight="normal" text-anchor="end" fill="#222" >2000</text>
<line x1="391.3" y1="187.1" x2="393.3" y2="187.1" stroke="#222" stroke-width="0.6" />
<text x="388.8" y="189.3" font-family="Liberation Serif" font-size="6.3" font-weight="normal" text-anchor="end" fill="#222" >3000</text>
<line x1="391.3" y1="171.9" x2="393.3" y2="171.9" stroke="#222" stroke-width="0.6" />
<text x="388.8" y="174.1" font-family="Liberation Serif" font-size="6.3" font-weight="normal" text-anchor="end" fill="#222" >4000</text>
<line x1="391.3" y1="156.7" x2="393.3" y2="156.7" stroke="#222" stroke-width="0.6" />
<text x="388.8" y="158.9" font-family="Liberation Serif" font-size="6.3" font-weight="normal" text-anchor="end" fill="#222" >5000</text>
<line x1="391.3" y1="141.5" x2="393.3" y2="141.5" stroke="#222" stroke-width="0.6" />
<text x="388.8" y="143.7" font-family="Liberation Serif" font-size="6.3" font-weight="normal" text-anchor="end" fill="#222" >6000</text>
<line x1="397.4" y1="237.3" x2="397.4" y2="235.3" stroke="#222" stroke-width="0.6" />
<text x="397.4" y="245.3" font-family="Liberation Serif" font-size="6.3" font-weight="normal" text-anchor="middle" fill="#222" >&#8722;1000</text>
<line x1="409.7" y1="237.3" x2="409.7" y2="235.3" stroke="#222" stroke-width="0.6" />
<text x="409.7" y="245.3" font-family="Liberation Serif" font-size="6.3" font-weight="normal" text-anchor="middle" fill="#222" >&#8722;800</text>
<line x1="422" y1="237.3" x2="422" y2="235.3" stroke="#222" stroke-width="0.6" />
<text x="422" y="245.3" font-family="Liberation Serif" font-size="6.3" font-weight="normal" text-anchor="middle" fill="#222" >&#8722;600</text>
<line x1="434.2" y1="237.3" x2="434.2" y2="235.3" stroke="#222" stroke-width="0.6" />
<text x="434.2" y="245.3" font-family="Liberation Serif" font-size="6.3" font-weight="normal" text-anchor="middle" fill="#222" >&#8722;400</text>
<line x1="446.5" y1="237.3" x2="446.5" y2="235.3" stroke="#222" stroke-width="0.6" />
<text x="446.5" y="245.3" font-family="Liberation Serif" font-size="6.3" font-weight="normal" text-anchor="middle" fill="#222" >&#8722;200</text>
<line x1="458.8" y1="237.3" x2="458.8" y2="235.3" stroke="#222" stroke-width="0.6" />
<text x="458.8" y="245.3" font-family="Liberation Serif" font-size="6.3" font-weight="normal" text-anchor="middle" fill="#222" >0</text>
<line x1="471" y1="237.3" x2="471" y2="235.3" stroke="#222" stroke-width="0.6" />
<text x="471" y="245.3" font-family="Liberation Serif" font-size="6.3" font-weight="normal" text-anchor="middle" fill="#222" >200</text>
<line x1="483.3" y1="237.3" x2="483.3" y2="235.3" stroke="#222" stroke-width="0.6" />
<text x="483.3" y="245.3" font-family="Liberation Serif" font-size="6.3" font-weight="normal" text-anchor="middle" fill="#222" >400</text>
<line x1="495.5" y1="237.3" x2="495.5" y2="235.3" stroke="#222" stroke-width="0.6" />
<text x="495.5" y="245.3" font-family="Liberation Serif" font-size="6.3" font-weight="normal" text-anchor="middle" fill="#222" >600</text>
<line x1="507.8" y1="237.3" x2="507.8" y2="235.3" stroke="#222" stroke-width="0.6" />
<text x="507.8" y="245.3" font-family="Liberation Serif" font-size="6.3" font-weight="normal" text-anchor="middle" fill="#222" >800</text>
<line x1="520" y1="237.3" x2="520" y2="235.3" stroke="#222" stroke-width="0.6" />
<text x="520" y="245.3" font-family="Liberation Serif" font-size="6.3" font-weight="normal" text-anchor="middle" fill="#222" >1000</text>
<text x="454.5" y="252.2" font-family="Liberation Serif" font-size="6.7" font-weight="bold" text-anchor="middle" fill="#111" >Bias Voltage(mV)</text>
<text x="0" y="0" font-family="Liberation Serif" font-size="6.8" font-weight="bold" text-anchor="middle" fill="#111" transform="translate(368.9,191.6) rotate(-90)">Peak Responsibility(mA/W)</text>
<polyline points="392,146.1 392.4,146.5 392.9,147.1 393.3,147.7 393.8,148.4 394.2,149.2 394.7,150.2 395.1,151.2 395.6,152.4 396,153.7 396.5,155 396.9,156.4 397.4,157.8 397.8,159.2 398.3,160.7 398.7,162.1 399.2,163.5 399.6,164.8 400.1,166.1 400.5,167.3 401,168.6 401.4,169.8 401.9,171 402.3,172.3 402.8,173.5 403.2,174.7 403.7,175.9 404.1,177.1 404.6,178.3 405,179.5 405.5,180.7 405.9,181.9 406.4,183.1 406.8,184.2 407.3,185.4 407.7,186.6 408.2,187.8 408.6,189 409,190.1 409.5,191.1 409.9,192.1 410.4,193 410.8,193.8 411.3,194.6 411.7,195.4 412.2,196.2 412.6,196.9 413.1,197.6 413.5,198.3 414,199 414.4,199.7 414.9,200.4 415.3,201.1 415.8,201.8 416.2,202.5 416.7,203.2 417.1,203.9 417.6,204.6 418,205.3 418.5,206 418.9,206.7 419.4,207.4 419.8,208.1 420.3,208.8 420.7,209.5 421.2,210.1 421.6,210.7 422.1,211.3 422.5,211.9 423,212.5 423.4,213 423.9,213.6 424.3,214.1 424.8,214.6 425.2,215.1 425.7,215.6 426.1,216.1 426.6,216.6 427,217.1 427.4,217.6 427.9,218.1 428.3,218.5 428.8,219 429.2,219.4 429.7,219.9 430.1,220.3 430.6,220.8 431,221.2 431.5,221.6 431.9,222.1 432.4,222.5 432.8,222.9 433.3,223.3 433.7,223.7 434.2,224.1 434.6,224.5 435.1,224.9 435.5,225.3 436,225.7 436.4,226 436.9,226.4 437.3,226.7 437.8,227 438.2,227.3 438.7,227.6 439.1,227.8 439.6,228.1 440,228.4 440.5,228.7 440.9,228.9 441.4,229.2 441.8,229.5 442.3,229.7 442.7,229.9 443.2,230.2 443.6,230.4 444.1,230.6 444.5,230.8 445,230.9 445.4,231.1 445.8,231.2 446.3,231.3 446.7,231.4 447.2,231.5 447.6,231.6 448.1,231.7 448.5,231.8 449,231.9 449.4,232 449.9,232.1 450.3,232.1 450.8,232.2 451.2,232.3 451.7,232.3 452.1,232.3 452.6,232.4 453,232.4 453.5,232.4 453.9,232.4 454.4,232.5 454.8,232.5 455.3,232.5 455.7,232.5 456.2,232.6 456.6,232.6 457.1,232.6 457.5,232.6 458,232.6 458.4,232.6 458.9,232.6 459.3,232.6 459.8,232.6 460.2,232.6 460.7,232.6 461.1,232.6 461.6,232.5 462,232.5 462.5,232.5 462.9,232.5 463.4,232.5 463.8,232.4 464.2,232.4 464.7,232.4 465.1,232.4 465.6,232.3 466,232.3 466.5,232.3 466.9,232.2 467.4,232.2 467.8,232.1 468.3,232 468.7,232 469.2,231.9 469.6,231.8 470.1,231.7 470.5,231.6 471,231.6 471.4,231.5 471.9,231.4 472.3,231.2 472.8,231.1 473.2,231 473.7,230.9 474.1,230.8 474.6,230.7 475,230.6 475.5,230.4 475.9,230.3 476.4,230.2 476.8,230.1 477.3,229.9 477.7,229.8 478.2,229.7 478.6,229.5 479.1,229.3 479.5,229.2 480,229 480.4,228.8 480.9,228.7 481.3,228.5 481.8,228.3 482.2,228.1 482.6,227.9 483.1,227.7 483.5,227.5 484,227.3 484.4,227 484.9,226.8 485.3,226.6 485.8,226.4 486.2,226.1 486.7,225.9 487.1,225.6 487.6,225.3 488,225 488.5,224.7 488.9,224.4 489.4,224.1 489.8,223.7 490.3,223.4 490.7,223 491.2,222.6 491.6,222.3 492.1,221.9 492.5,221.5 493,221.1 493.4,220.7 493.9,220.3 494.3,219.9 494.8,219.4 495.2,219 495.7,218.6 496.1,218.2 496.6,217.7 497,217.3 497.5,216.8 497.9,216.3 498.4,215.8 498.8,215.3 499.3,214.8 499.7,214.3 500.2,213.8 500.6,213.2 501,212.7 501.5,212.1 501.9,211.6 502.4,211 502.8,210.4 503.3,209.9 503.7,209.3 504.2,208.7 504.6,208.1 505.1,207.5 505.5,206.9 506,206.3 506.4,205.7 506.9,205.1 507.3,204.5 507.8,203.9 508.2,203.2 508.7,202.6 509.1,201.9 509.6,201.3 510,200.6 510.5,199.9 510.9,199.2 511.4,198.6 511.8,197.9 512.3,197.2 512.7,196.5 513.2,195.8 513.6,195.1 514.1,194.4 514.5,193.6 515,192.9 515.4,192.2 515.9,191.5 516.3,190.7 516.8,190 517.2,189.2 517.7,188.4 518.1,187.7 518.6,186.9 519,186.1 519.4,185.4 519.9,184.6 520.3,183.8 520.8,183 521.2,182.2 521.7,181.5 522.1,180.7 522.6,179.9 523,179.1 523.5,178.3 523.9,177.5 524.4,176.7 524.8,175.8 525.3,175 525.7,174.2 526.2,173.4" fill="none" stroke="#b8643a" stroke-width="1.0" />
<polyline points="414.6,232.3 415.3,232.2 416.1,232.2 416.8,231.9 417.5,231.7 418.3,231.4 419,231.1 419.7,231 420.5,230.9 421.2,230.9 421.9,230.8 422.7,230.8 423.4,230.8 424.1,230.7 424.9,230.7 425.6,230.7 426.3,230.7 427,230.7 427.8,230.8 428.5,230.8 429.2,230.9 430,230.9 430.7,231 431.4,231 432.2,231.1 432.9,231.2 433.6,231.3 434.4,231.3 435.1,231.4 435.8,231.5 436.6,231.6 437.3,231.6 438,231.7 438.8,231.8 439.5,231.8 440.2,231.9 440.9,231.9 441.7,232 442.4,232 443.1,232 443.9,232 444.6,232.1 445.3,232.1 446.1,232.1 446.8,232.1 447.5,232.1 448.3,232.1 449,232.1 449.7,232.1 450.5,232.1 451.2,232.1 451.9,232.1 452.7,232.1 453.4,232.1 454.1,232.1 454.8,232.1 455.6,232.1 456.3,232.1 457,232.1 457.8,232.1 458.5,232.1 459.2,232.1 460,232.1 460.7,232.1 461.4,232.1 462.2,232.1 462.9,232.1 463.6,232.1 464.4,232.1 465.1,232.1 465.8,232.1 466.5,232.1 467.3,232.1 468,232.1 468.7,232.1 469.5,232.1 470.2,232.1 470.9,232.1 471.7,232.1 472.4,232.1 473.1,232.1 473.9,232 474.6,232 475.3,232 476.1,231.9 476.8,231.9 477.5,231.9 478.3,231.8 479,231.7 479.7,231.7 480.4,231.6 481.2,231.5 481.9,231.5 482.6,231.4 483.4,231.3 484.1,231.2 484.8,231.2 485.6,231.1 486.3,231 487,231 487.8,230.9 488.5,230.8 489.2,230.8 490,230.8 490.7,230.7 491.4,230.7 492.2,230.7 492.9,230.7 493.6,230.7 494.3,230.8 495.1,230.8 495.8,230.8 496.5,230.9 497.3,231 498,231 498.7,231.1 499.5,231.5 500.2,231.7 500.9,232 501.7,232.2" fill="none" stroke="#222" stroke-width="0.9" />
<line x1="429.5" y1="197.4" x2="441.8" y2="197.4" stroke="#222" stroke-width="1.0" />
<text x="442.5" y="199.5" font-family="Liberation Serif" font-size="5.9" font-weight="normal" text-anchor="start" fill="#222" >Sample A-Rp=20K</text>
<line x1="429.5" y1="203.9" x2="441.8" y2="203.9" stroke="#b8643a" stroke-width="1.0" />
<text x="442.5" y="206" font-family="Liberation Serif" font-size="5.9" font-weight="normal" text-anchor="start" fill="#222" >Sample B-Rp=20K</text>
<rect x="468.6" y="141" width="57.6" height="34.5" fill="#fff" stroke="#222" stroke-width="0.7" />
<polyline points="468.7,157.8 469.1,157 469.5,156.3 469.9,155.5 470.3,154.8 470.7,154.1 471.1,153.4 471.6,152.7 472,152 472.4,151.3 472.8,150.6 473.2,149.9 473.6,149.2 474,148.5 474.4,147.8 474.8,147.2 475.3,146.6 475.7,146.1 476.1,145.8 476.5,145.4 476.9,145.1 477.3,144.9 477.7,144.7 478.1,144.7 478.6,144.9 479,145.3 479.4,145.8 479.8,146.5 480.2,147 480.6,147.7 481,148.4 481.4,149.1 481.9,150 482.3,150.8 482.7,151.7 483.1,152.6 483.5,153.6 483.9,154.5 484.3,155.4 484.7,156.3 485.1,157.1 485.6,157.9 486,158.8 486.4,159.7 486.8,160.6 487.2,161.4 487.6,162.2 488,163 488.4,163.8 488.9,164.5 489.3,165.1 489.7,165.8 490.1,166.4 490.5,167 490.9,167.6 491.3,168.1 491.7,168.6 492.2,169.1 492.6,169.5 493,169.8 493.4,170.1 493.8,170.4 494.2,170.7 494.6,170.9 495,171.1 495.4,171.4 495.9,171.5 496.3,171.7 496.7,171.8 497.1,171.9 497.5,171.9 497.9,171.8 498.3,171.6 498.7,171.4 499.2,171.1 499.6,170.7 500,170.4 500.4,170 500.8,169.6 501.2,169.2 501.6,168.8 502,168.4 502.4,167.9 502.9,167.4 503.3,166.9 503.7,166.3 504.1,165.7 504.5,165.1 504.9,164.6 505.3,164 505.7,163.4 506.2,162.9 506.6,162.4 507,161.8 507.4,161.3 507.8,160.7 508.2,160.1 508.6,159.6 509,159 509.5,158.4 509.9,157.7 510.3,157 510.7,156.3 511.1,155.6 511.5,154.9 511.9,154.1 512.3,153.4 512.7,152.7 513.2,152 513.6,151.2 514,150.4 514.4,149.6 514.8,149 515.2,148.7 515.6,148.5 516,148.3 516.5,148.3 516.9,148.3 517.3,148.5 517.7,148.9 518.1,149.4 518.5,149.9 518.9,150.3 519.3,150.9 519.8,151.4 520.2,152 520.6,152.7 521,153.3 521.4,153.8 521.8,154.4 522.2,154.9 522.6,155.4 523,155.9 523.5,156.4 523.9,156.9 524.3,157.3 524.7,157.8 525.1,158.2 525.5,158.7 525.9,159.1" fill="none" stroke="#222" stroke-width="0.75" />
<line x1="472.8" y1="175.5" x2="472.8" y2="174.3" stroke="#222" stroke-width="0.4" />
<text x="472.8" y="179.2" font-family="Liberation Serif" font-size="3.0" font-weight="normal" text-anchor="middle" fill="#333" >&#8722;600</text>
<line x1="480.9" y1="175.5" x2="480.9" y2="174.3" stroke="#222" stroke-width="0.4" />
<text x="480.9" y="179.2" font-family="Liberation Serif" font-size="3.0" font-weight="normal" text-anchor="middle" fill="#333" >&#8722;400</text>
<line x1="489.1" y1="175.5" x2="489.1" y2="174.3" stroke="#222" stroke-width="0.4" />
<text x="489.1" y="179.2" font-family="Liberation Serif" font-size="3.0" font-weight="normal" text-anchor="middle" fill="#333" >&#8722;200</text>
<line x1="497.3" y1="175.5" x2="497.3" y2="174.3" stroke="#222" stroke-width="0.4" />
<text x="497.3" y="179.2" font-family="Liberation Serif" font-size="3.0" font-weight="normal" text-anchor="middle" fill="#333" >0</text>
<line x1="505.5" y1="175.5" x2="505.5" y2="174.3" stroke="#222" stroke-width="0.4" />
<text x="505.5" y="179.2" font-family="Liberation Serif" font-size="3.0" font-weight="normal" text-anchor="middle" fill="#333" >200</text>
<line x1="513.7" y1="175.5" x2="513.7" y2="174.3" stroke="#222" stroke-width="0.4" />
<text x="513.7" y="179.2" font-family="Liberation Serif" font-size="3.0" font-weight="normal" text-anchor="middle" fill="#333" >400</text>
<line x1="521.8" y1="175.5" x2="521.8" y2="174.3" stroke="#222" stroke-width="0.4" />
<text x="521.8" y="179.2" font-family="Liberation Serif" font-size="3.0" font-weight="normal" text-anchor="middle" fill="#333" >600</text>
<text x="494" y="183.4" font-family="Liberation Serif" font-size="3.6" font-weight="bold" text-anchor="middle" fill="#222" >Bias Voltage(mV)</text>
<line x1="468.6" y1="172.8" x2="469.8" y2="172.8" stroke="#222" stroke-width="0.4" />
<text x="468" y="173.7" font-family="Liberation Serif" font-size="2.6" font-weight="normal" text-anchor="end" fill="#333" >0</text>
<line x1="468.6" y1="169.1" x2="469.8" y2="169.1" stroke="#222" stroke-width="0.4" />
<text x="468" y="170" font-family="Liberation Serif" font-size="2.6" font-weight="normal" text-anchor="end" fill="#333" >200</text>
<line x1="468.6" y1="165.3" x2="469.8" y2="165.3" stroke="#222" stroke-width="0.4" />
<text x="468" y="166.2" font-family="Liberation Serif" font-size="2.6" font-weight="normal" text-anchor="end" fill="#333" >400</text>
<line x1="468.6" y1="161.6" x2="469.8" y2="161.6" stroke="#222" stroke-width="0.4" />
<text x="468" y="162.5" font-family="Liberation Serif" font-size="2.6" font-weight="normal" text-anchor="end" fill="#333" >600</text>
<line x1="468.6" y1="157.8" x2="469.8" y2="157.8" stroke="#222" stroke-width="0.4" />
<text x="468" y="158.7" font-family="Liberation Serif" font-size="2.6" font-weight="normal" text-anchor="end" fill="#333" >800</text>
<line x1="468.6" y1="154.1" x2="469.8" y2="154.1" stroke="#222" stroke-width="0.4" />
<text x="468" y="155" font-family="Liberation Serif" font-size="2.6" font-weight="normal" text-anchor="end" fill="#333" >1000</text>
<line x1="468.6" y1="150.3" x2="469.8" y2="150.3" stroke="#222" stroke-width="0.4" />
<text x="468" y="151.2" font-family="Liberation Serif" font-size="2.6" font-weight="normal" text-anchor="end" fill="#333" >1200</text>
<line x1="468.6" y1="146.6" x2="469.8" y2="146.6" stroke="#222" stroke-width="0.4" />
<text x="468" y="147.5" font-family="Liberation Serif" font-size="2.6" font-weight="normal" text-anchor="end" fill="#333" >1400</text>
<line x1="468.6" y1="142.8" x2="469.8" y2="142.8" stroke="#222" stroke-width="0.4" />
<text x="468" y="143.7" font-family="Liberation Serif" font-size="2.6" font-weight="normal" text-anchor="end" fill="#333" >1600</text>
<text x="0" y="0" font-family="Liberation Serif" font-size="2.4" font-weight="bold" text-anchor="middle" fill="#333" transform="translate(460.8,158.5) rotate(-90)">Peak Responsibility(mA/W)</text>
<line x1="482.3" y1="144.8" x2="493.9" y2="144.8" stroke="#222" stroke-width="0.9" />
<text x="494.6" y="146" font-family="Liberation Serif" font-size="3.2" font-weight="normal" text-anchor="start" fill="#222" >Sample A-Rp=20K</text>
<rect x="97.2" y="378.7" width="21.2" height="31.2" fill="#e2e2e2" stroke="none" stroke-width="1" />
<rect x="97.2" y="392.3" width="21.2" height="7.9" fill="#f7d3dc" stroke="none" stroke-width="1" />
<rect x="98.7" y="409.9" width="16.1" height="31.4" fill="#e2e2e2" stroke="none" stroke-width="1" />
<rect x="98.7" y="424.3" width="16.1" height="7.5" fill="#f7d3dc" stroke="none" stroke-width="1" />
<rect x="100.8" y="441.3" width="13.2" height="31.1" fill="#e2e2e2" stroke="none" stroke-width="1" />
<rect x="100.8" y="455.5" width="13.2" height="8" fill="#f7d3dc" stroke="none" stroke-width="1" />
<rect x="36.4" y="378.7" width="134.9" height="31.2" fill="none" stroke="#333" stroke-width="0.8" />
<rect x="36.4" y="409.9" width="134.9" height="31.4" fill="none" stroke="#333" stroke-width="0.8" />
<rect x="36.4" y="441.3" width="134.9" height="31.1" fill="none" stroke="#333" stroke-width="0.8" />
<line x1="36.4" y1="409.9" x2="38.4" y2="409.9" stroke="#333" stroke-width="0.6" />
<text x="34.2" y="412.8" font-family="Liberation Serif" font-size="8.3" font-weight="normal" text-anchor="end" fill="#333" >0</text>
<line x1="36.4" y1="399.5" x2="38.4" y2="399.5" stroke="#333" stroke-width="0.6" />
<text x="34.2" y="402.4" font-family="Liberation Serif" font-size="8.3" font-weight="normal" text-anchor="end" fill="#333" >30</text>
<line x1="36.4" y1="389.1" x2="38.4" y2="389.1" stroke="#333" stroke-width="0.6" />
<text x="34.2" y="392" font-family="Liberation Serif" font-size="8.3" font-weight="normal" text-anchor="end" fill="#333" >60</text>
<line x1="36.4" y1="378.7" x2="38.4" y2="378.7" stroke="#333" stroke-width="0.6" />
<text x="34.2" y="381.6" font-family="Liberation Serif" font-size="8.3" font-weight="normal" text-anchor="end" fill="#333" >90</text>
<line x1="36.4" y1="441.3" x2="38.4" y2="441.3" stroke="#333" stroke-width="0.6" />
<text x="34.2" y="444.2" font-family="Liberation Serif" font-size="8.3" font-weight="normal" text-anchor="end" fill="#333" >0</text>
<line x1="36.4" y1="430.9" x2="38.4" y2="430.9" stroke="#333" stroke-width="0.6" />
<text x="34.2" y="433.8" font-family="Liberation Serif" font-size="8.3" font-weight="normal" text-anchor="end" fill="#333" >30</text>
<line x1="36.4" y1="420.5" x2="38.4" y2="420.5" stroke="#333" stroke-width="0.6" />
<text x="34.2" y="423.4" font-family="Liberation Serif" font-size="8.3" font-weight="normal" text-anchor="end" fill="#333" >60</text>
<line x1="36.4" y1="472.4" x2="38.4" y2="472.4" stroke="#333" stroke-width="0.6" />
<text x="34.2" y="475.3" font-family="Liberation Serif" font-size="8.3" font-weight="normal" text-anchor="end" fill="#333" >0</text>
<line x1="36.4" y1="462" x2="38.4" y2="462" stroke="#333" stroke-width="0.6" />
<text x="34.2" y="464.9" font-family="Liberation Serif" font-size="8.3" font-weight="normal" text-anchor="end" fill="#333" >30</text>
<line x1="36.4" y1="451.6" x2="38.4" y2="451.6" stroke="#333" stroke-width="0.6" />
<text x="34.2" y="454.5" font-family="Liberation Serif" font-size="8.3" font-weight="normal" text-anchor="end" fill="#333" >60</text>
<line x1="36.4" y1="409.9" x2="36.4" y2="408.1" stroke="#333" stroke-width="0.6" />
<line x1="36.4" y1="441.3" x2="36.4" y2="439.5" stroke="#333" stroke-width="0.6" />
<line x1="36.4" y1="472.4" x2="36.4" y2="470.6" stroke="#333" stroke-width="0.6" />
<text x="36.4" y="484.5" font-family="Liberation Serif" font-size="8.3" font-weight="normal" text-anchor="middle" fill="#333" >9.0</text>
<line x1="58.9" y1="409.9" x2="58.9" y2="408.1" stroke="#333" stroke-width="0.6" />
<line x1="58.9" y1="441.3" x2="58.9" y2="439.5" stroke="#333" stroke-width="0.6" />
<line x1="58.9" y1="472.4" x2="58.9" y2="470.6" stroke="#333" stroke-width="0.6" />
<text x="58.9" y="484.5" font-family="Liberation Serif" font-size="8.3" font-weight="normal" text-anchor="middle" fill="#333" >9.5</text>
<line x1="81.4" y1="409.9" x2="81.4" y2="408.1" stroke="#333" stroke-width="0.6" />
<line x1="81.4" y1="441.3" x2="81.4" y2="439.5" stroke="#333" stroke-width="0.6" />
<line x1="81.4" y1="472.4" x2="81.4" y2="470.6" stroke="#333" stroke-width="0.6" />
<text x="81.4" y="484.5" font-family="Liberation Serif" font-size="8.3" font-weight="normal" text-anchor="middle" fill="#333" >10.0</text>
<line x1="103.9" y1="409.9" x2="103.9" y2="408.1" stroke="#333" stroke-width="0.6" />
<line x1="103.9" y1="441.3" x2="103.9" y2="439.5" stroke="#333" stroke-width="0.6" />
<line x1="103.9" y1="472.4" x2="103.9" y2="470.6" stroke="#333" stroke-width="0.6" />
<text x="103.9" y="484.5" font-family="Liberation Serif" font-size="8.3" font-weight="normal" text-anchor="middle" fill="#333" >10.5</text>
<line x1="126.3" y1="409.9" x2="126.3" y2="408.1" stroke="#333" stroke-width="0.6" />
<line x1="126.3" y1="441.3" x2="126.3" y2="439.5" stroke="#333" stroke-width="0.6" />
<line x1="126.3" y1="472.4" x2="126.3" y2="470.6" stroke="#333" stroke-width="0.6" />
<text x="126.3" y="484.5" font-family="Liberation Serif" font-size="8.3" font-weight="normal" text-anchor="middle" fill="#333" >11.0</text>
<line x1="148.8" y1="409.9" x2="148.8" y2="408.1" stroke="#333" stroke-width="0.6" />
<line x1="148.8" y1="441.3" x2="148.8" y2="439.5" stroke="#333" stroke-width="0.6" />
<line x1="148.8" y1="472.4" x2="148.8" y2="470.6" stroke="#333" stroke-width="0.6" />
<text x="148.8" y="484.5" font-family="Liberation Serif" font-size="8.3" font-weight="normal" text-anchor="middle" fill="#333" >11.5</text>
<line x1="171.3" y1="409.9" x2="171.3" y2="408.1" stroke="#333" stroke-width="0.6" />
<line x1="171.3" y1="441.3" x2="171.3" y2="439.5" stroke="#333" stroke-width="0.6" />
<line x1="171.3" y1="472.4" x2="171.3" y2="470.6" stroke="#333" stroke-width="0.6" />
<text x="171.3" y="484.5" font-family="Liberation Serif" font-size="8.3" font-weight="normal" text-anchor="middle" fill="#333" >12.0</text>
<text x="109.5" y="490.8" font-family="Liberation Serif" font-size="7.9" font-weight="normal" text-anchor="middle" fill="#333" >Wavelength (&#956;m)</text>
<text x="0" y="0" font-family="Liberation Serif" font-size="7.6" font-weight="normal" text-anchor="middle" fill="#333" transform="translate(23.8,425) rotate(-90)">Quantum efficiency (%)</text>
<polyline points="36.4,409.3 36.7,409.3 37.1,409.3 37.4,409.3 37.8,409.3 38.1,409.3 38.4,409.3 38.8,409.3 39.1,409.2 39.4,409.2 39.8,409.2 40.1,409.2 40.5,409.2 40.8,409.2 41.1,409.2 41.5,409.2 41.8,409.2 42.1,409.2 42.5,409.2 42.8,409.2 43.2,409.2 43.5,409.2 43.8,409.1 44.2,409.1 44.5,409.1 44.9,409.1 45.2,409.1 45.5,409.1 45.9,409.1 46.2,409.1 46.5,409.1 46.9,409.1 47.2,409.1 47.6,409.1 47.9,409 48.2,409 48.6,409 48.9,409 49.2,409 49.6,409 49.9,409 50.3,409 50.6,409 50.9,409 51.3,408.9 51.6,408.9 52,408.9 52.3,408.9 52.6,408.9 53,408.9 53.3,408.9 53.6,408.9 54,408.8 54.3,408.8 54.7,408.8 55,408.8 55.3,408.8 55.7,408.8 56,408.8 56.3,408.7 56.7,408.7 57,408.7 57.4,408.7 57.7,408.7 58,408.7 58.4,408.6 58.7,408.6 59.1,408.6 59.4,408.6 59.7,408.6 60.1,408.6 60.4,408.5 60.7,408.5 61.1,408.5 61.4,408.5 61.8,408.5 62.1,408.4 62.4,408.4 62.8,408.4 63.1,408.4 63.4,408.4 63.8,408.3 64.1,408.3 64.5,408.3 64.8,408.3 65.1,408.2 65.5,408.2 65.8,408.2 66.2,408.2 66.5,408.1 66.8,408.1 67.2,408.1 67.5,408 67.8,408 68.2,408 68.5,407.9 68.9,407.9 69.2,407.9 69.5,407.8 69.9,407.8 70.2,407.8 70.6,407.7 70.9,407.7 71.2,407.7 71.6,407.6 71.9,407.6 72.2,407.5 72.6,407.5 72.9,407.4 73.3,407.4 73.6,407.3 73.9,407.3 74.3,407.2 74.6,407.2 74.9,407.1 75.3,407.1 75.6,407 76,407 76.3,406.9 76.6,406.9 77,406.8 77.3,406.7 77.7,406.7 78,406.6 78.3,406.5 78.7,406.5 79,406.4 79.3,406.3 79.7,406.2 80,406.1 80.4,406.1 80.7,406 81,405.9 81.4,405.8 81.7,405.7 82,405.6 82.4,405.5 82.7,405.4 83.1,405.3 83.4,405.1 83.7,405 84.1,404.9 84.4,404.8 84.8,404.6 85.1,404.5 85.4,404.4 85.8,404.2 86.1,404.1 86.4,403.9 86.8,403.7 87.1,403.6 87.5,403.4 87.8,403.2 88.1,403 88.5,402.8 88.8,402.6 89.1,402.4 89.5,402.2 89.8,402 90.2,401.7 90.5,401.5 90.8,401.2 91.2,400.9 91.5,400.7 91.9,400.4 92.2,400.1 92.5,399.8 92.9,399.4 93.2,399.1 93.5,398.7 93.9,398.4 94.2,398 94.6,397.6 94.9,397.2 95.2,396.7 95.6,396.3 95.9,395.8 96.2,395.4 96.6,394.9 96.9,394.3 97.3,393.8 97.6,393.3 97.9,392.7 98.3,392.1 98.6,391.6 99,390.9 99.3,390.3 99.6,389.7 100,389.1 100.3,388.4 100.6,387.8 101,387.2 101.3,386.5 101.7,385.9 102,385.3 102.3,384.6 102.7,384.1 103,383.5 103.3,383 103.7,382.5 104,382 104.4,381.6 104.7,381.2 105,380.9 105.4,380.6 105.7,380.4 106.1,380.3 106.4,380.2 106.7,380.2 107.1,380.3 107.4,380.4 107.7,380.5 108.1,380.7 108.4,380.9 108.8,381.2 109.1,381.5 109.4,381.9 109.8,382.2 110.1,382.6 110.4,383.1 110.8,383.5 111.1,384 111.5,384.5 111.8,385 112.1,385.5 112.5,386.1 112.8,386.6 113.2,387.1 113.5,387.7 113.8,388.2 114.2,388.8 114.5,389.3 114.8,389.8 115.2,390.3 115.5,390.8 115.9,391.3 116.2,391.8 116.5,392.3 116.9,392.8 117.2,393.3 117.5,393.7 117.9,394.1 118.2,394.6 118.6,395 118.9,395.4 119.2,395.8 119.6,396.1 119.9,396.5 120.3,396.8 120.6,397.2 120.9,397.5 121.3,397.8 121.6,398.1 121.9,398.4 122.3,398.7 122.6,399 123,399.2 123.3,399.5 123.6,399.7 124,399.9 124.3,400.2 124.6,400.4 125,400.6 125.3,400.8 125.7,401 126,401.2 126.3,401.3 126.7,401.5 127,401.7 127.4,401.8 127.7,402 128,402.1 128.4,402.3 128.7,402.4 129,402.5 129.4,402.7 129.7,402.8 130.1,402.9 130.4,403 130.7,403.1 131.1,403.2 131.4,403.3 131.7,403.4 132.1,403.5 132.4,403.6 132.8,403.7 133.1,403.8 133.4,403.9 133.8,403.9 134.1,404 134.5,404.1 134.8,404.2 135.1,404.2 135.5,404.3 135.8,404.4 136.1,404.5 136.5,404.5 136.8,404.6 137.2,404.7 137.5,404.7 137.8,404.8 138.2,404.8 138.5,404.9 138.9,405 139.2,405 139.5,405.1 139.9,405.1 140.2,405.2 140.5,405.3 140.9,405.3 141.2,405.4 141.6,405.5 141.9,405.5 142.2,405.6 142.6,405.6 142.9,405.7 143.2,405.7 143.6,405.8 143.9,405.9 144.3,405.9 144.6,406 144.9,406 145.3,406.1 145.6,406.2 146,406.2 146.3,406.3 146.6,406.3 147,406.4 147.3,406.5 147.6,406.5 148,406.6 148.3,406.6 148.7,406.7 149,406.7 149.3,406.8 149.7,406.9 150,406.9 150.3,407 150.7,407 151,407.1 151.4,407.1 151.7,407.2 152,407.2 152.4,407.3 152.7,407.3 153.1,407.4 153.4,407.4 153.7,407.5 154.1,407.5 154.4,407.6 154.7,407.6 155.1,407.7 155.4,407.7 155.8,407.8 156.1,407.8 156.4,407.8 156.8,407.9 157.1,407.9 157.4,408 157.8,408 158.1,408 158.5,408.1 158.8,408.1 159.1,408.1 159.5,408.2 159.8,408.2 160.2,408.2 160.5,408.3 160.8,408.3 161.2,408.3 161.5,408.4 161.8,408.4 162.2,408.4 162.5,408.4 162.9,408.5 163.2,408.5 163.5,408.5 163.9,408.5 164.2,408.6 164.5,408.6 164.9,408.6 165.2,408.6 165.6,408.6 165.9,408.7 166.2,408.7 166.6,408.7 166.9,408.7 167.3,408.7 167.6,408.7 167.9,408.8 168.3,408.8 168.6,408.8 168.9,408.8 169.3,408.8 169.6,408.8 170,408.9 170.3,408.9 170.6,408.9 171,408.9 171.3,408.9" fill="none" stroke="#111" stroke-width="1.3" />
<line x1="95.5" y1="395.1" x2="117.6" y2="395.1" stroke="#b85a1a" stroke-width="1.1" />
<line x1="95.5" y1="395.1" x2="96.7" y2="395.1" stroke="#e02020" stroke-width="1.1" />
<line x1="116.4" y1="395.1" x2="117.6" y2="395.1" stroke="#e02020" stroke-width="1.1" />
<polyline points="36.4,440.9 36.7,440.9 37.1,440.9 37.4,440.9 37.8,440.9 38.1,440.9 38.4,440.9 38.8,440.9 39.1,440.9 39.4,440.9 39.8,440.9 40.1,440.9 40.5,440.9 40.8,440.9 41.1,440.9 41.5,440.9 41.8,440.9 42.1,440.9 42.5,440.9 42.8,440.9 43.2,440.9 43.5,440.8 43.8,440.8 44.2,440.8 44.5,440.8 44.9,440.8 45.2,440.8 45.5,440.8 45.9,440.8 46.2,440.8 46.5,440.8 46.9,440.8 47.2,440.8 47.6,440.8 47.9,440.8 48.2,440.8 48.6,440.8 48.9,440.8 49.2,440.8 49.6,440.7 49.9,440.7 50.3,440.7 50.6,440.7 50.9,440.7 51.3,440.7 51.6,440.7 52,440.7 52.3,440.7 52.6,440.7 53,440.7 53.3,440.7 53.6,440.7 54,440.6 54.3,440.6 54.7,440.6 55,440.6 55.3,440.6 55.7,440.6 56,440.6 56.3,440.6 56.7,440.6 57,440.6 57.4,440.6 57.7,440.5 58,440.5 58.4,440.5 58.7,440.5 59.1,440.5 59.4,440.5 59.7,440.5 60.1,440.5 60.4,440.5 60.7,440.4 61.1,440.4 61.4,440.4 61.8,440.4 62.1,440.4 62.4,440.4 62.8,440.4 63.1,440.3 63.4,440.3 63.8,440.3 64.1,440.3 64.5,440.3 64.8,440.3 65.1,440.3 65.5,440.2 65.8,440.2 66.2,440.2 66.5,440.2 66.8,440.2 67.2,440.1 67.5,440.1 67.8,440.1 68.2,440.1 68.5,440.1 68.9,440 69.2,440 69.5,440 69.9,440 70.2,440 70.6,439.9 70.9,439.9 71.2,439.9 71.6,439.8 71.9,439.8 72.2,439.8 72.6,439.8 72.9,439.7 73.3,439.7 73.6,439.7 73.9,439.6 74.3,439.6 74.6,439.6 74.9,439.5 75.3,439.5 75.6,439.5 76,439.4 76.3,439.4 76.6,439.3 77,439.3 77.3,439.2 77.7,439.2 78,439.2 78.3,439.1 78.7,439.1 79,439 79.3,438.9 79.7,438.9 80,438.8 80.4,438.8 80.7,438.7 81,438.6 81.4,438.6 81.7,438.5 82,438.4 82.4,438.4 82.7,438.3 83.1,438.2 83.4,438.1 83.7,438 84.1,437.9 84.4,437.8 84.8,437.7 85.1,437.6 85.4,437.4 85.8,437.2 86.1,436.9 86.4,436.6 86.8,436.1 87.1,435.6 87.5,435.1 87.8,434.5 88.1,433.8 88.5,433.2 88.8,432.7 89.1,432.3 89.5,432 89.8,431.9 90.2,432 90.5,432.1 90.8,432.4 91.2,432.6 91.5,432.9 91.9,433 92.2,433.1 92.5,433.1 92.9,433 93.2,432.9 93.5,432.6 93.9,432.4 94.2,432 94.6,431.7 94.9,431.3 95.2,430.9 95.6,430.4 95.9,429.9 96.2,429.4 96.6,428.9 96.9,428.4 97.3,427.8 97.6,427.2 97.9,426.5 98.3,425.9 98.6,425.2 99,424.4 99.3,423.7 99.6,422.9 100,422.1 100.3,421.3 100.6,420.4 101,419.5 101.3,418.7 101.7,417.8 102,416.9 102.3,416 102.7,415.2 103,414.4 103.3,413.6 103.7,412.9 104,412.3 104.4,411.7 104.7,411.3 105,410.9 105.4,410.7 105.7,410.6 106.1,410.6 106.4,410.7 106.7,410.8 107.1,411 107.4,411.3 107.7,411.6 108.1,412.1 108.4,412.5 108.8,413 109.1,413.6 109.4,414.2 109.8,414.8 110.1,415.4 110.4,416.1 110.8,416.8 111.1,417.4 111.5,418.1 111.8,418.8 112.1,419.5 112.5,420.1 112.8,420.8 113.2,421.5 113.5,422.1 113.8,422.7 114.2,423.3 114.5,423.9 114.8,424.5 115.2,425 115.5,425.5 115.9,426 116.2,426.5 116.5,427 116.9,427.4 117.2,427.9 117.5,428.3 117.9,428.7 118.2,429.1 118.6,429.4 118.9,429.8 119.2,430.1 119.6,430.4 119.9,430.7 120.3,431 120.6,431.3 120.9,431.5 121.3,431.8 121.6,432 121.9,432.2 122.3,432.5 122.6,432.7 123,432.9 123.3,433.1 123.6,433.2 124,433.4 124.3,433.6 124.6,433.7 125,433.9 125.3,434 125.7,434.2 126,434.3 126.3,434.5 126.7,434.6 127,434.7 127.4,434.8 127.7,434.9 128,435.1 128.4,435.2 128.7,435.3 129,435.4 129.4,435.5 129.7,435.6 130.1,435.7 130.4,435.8 130.7,435.9 131.1,436 131.4,436.1 131.7,436.2 132.1,436.2 132.4,436.3 132.8,436.4 133.1,436.5 133.4,436.6 133.8,436.7 134.1,436.8 134.5,436.9 134.8,436.9 135.1,437 135.5,437.1 135.8,437.2 136.1,437.3 136.5,437.4 136.8,437.4 137.2,437.5 137.5,437.6 137.8,437.7 138.2,437.7 138.5,437.8 138.9,437.9 139.2,438 139.5,438 139.9,438.1 140.2,438.2 140.5,438.3 140.9,438.3 141.2,438.4 141.6,438.5 141.9,438.5 142.2,438.6 142.6,438.7 142.9,438.7 143.2,438.8 143.6,438.8 143.9,438.9 144.3,439 144.6,439 144.9,439.1 145.3,439.1 145.6,439.2 146,439.2 146.3,439.3 146.6,439.3 147,439.4 147.3,439.4 147.6,439.4 148,439.5 148.3,439.5 148.7,439.6 149,439.6 149.3,439.6 149.7,439.7 150,439.7 150.3,439.7 150.7,439.8 151,439.8 151.4,439.8 151.7,439.9 152,439.9 152.4,439.9 152.7,439.9 153.1,440 153.4,440 153.7,440 154.1,440 154.4,440.1 154.7,440.1 155.1,440.1 155.4,440.1 155.8,440.1 156.1,440.2 156.4,440.2 156.8,440.2 157.1,440.2 157.4,440.2 157.8,440.2 158.1,440.3 158.5,440.3 158.8,440.3 159.1,440.3 159.5,440.3 159.8,440.3 160.2,440.3 160.5,440.4 160.8,440.4 161.2,440.4 161.5,440.4 161.8,440.4 162.2,440.4 162.5,440.4 162.9,440.4 163.2,440.4 163.5,440.5 163.9,440.5 164.2,440.5 164.5,440.5 164.9,440.5 165.2,440.5 165.6,440.5 165.9,440.5 166.2,440.5 166.6,440.5 166.9,440.5 167.3,440.6 167.6,440.6 167.9,440.6 168.3,440.6 168.6,440.6 168.9,440.6 169.3,440.6 169.6,440.6 170,440.6 170.3,440.6 170.6,440.6 171,440.6 171.3,440.6" fill="none" stroke="#111" stroke-width="1.3" />
<line x1="97.3" y1="426" x2="114.4" y2="426" stroke="#b85a1a" stroke-width="1.1" />
<line x1="97.3" y1="426" x2="98.5" y2="426" stroke="#e02020" stroke-width="1.1" />
<line x1="113.2" y1="426" x2="114.4" y2="426" stroke="#e02020" stroke-width="1.1" />
<polyline points="36.4,472.2 36.7,472.2 37.1,472.2 37.4,472.2 37.8,472.2 38.1,472.2 38.4,472.2 38.8,472.2 39.1,472.2 39.4,472.2 39.8,472.2 40.1,472.2 40.5,472.2 40.8,472.2 41.1,472.2 41.5,472.2 41.8,472.2 42.1,472.2 42.5,472.2 42.8,472.2 43.2,472.2 43.5,472.2 43.8,472.2 44.2,472.2 44.5,472.2 44.9,472.2 45.2,472.2 45.5,472.2 45.9,472.2 46.2,472.2 46.5,472.2 46.9,472.2 47.2,472.1 47.6,472.1 47.9,472.1 48.2,472.1 48.6,472.1 48.9,472.1 49.2,472.1 49.6,472.1 49.9,472.1 50.3,472.1 50.6,472.1 50.9,472.1 51.3,472.1 51.6,472.1 52,472.1 52.3,472.1 52.6,472.1 53,472.1 53.3,472.1 53.6,472.1 54,472.1 54.3,472.1 54.7,472.1 55,472.1 55.3,472.1 55.7,472.1 56,472.1 56.3,472 56.7,472 57,472 57.4,472 57.7,472 58,472 58.4,472 58.7,472 59.1,472 59.4,472 59.7,472 60.1,472 60.4,472 60.7,472 61.1,472 61.4,472 61.8,472 62.1,472 62.4,471.9 62.8,471.9 63.1,471.9 63.4,471.9 63.8,471.9 64.1,471.9 64.5,471.9 64.8,471.9 65.1,471.9 65.5,471.9 65.8,471.9 66.2,471.9 66.5,471.9 66.8,471.8 67.2,471.8 67.5,471.8 67.8,471.8 68.2,471.8 68.5,471.8 68.9,471.8 69.2,471.8 69.5,471.8 69.9,471.8 70.2,471.7 70.6,471.7 70.9,471.7 71.2,471.7 71.6,471.7 71.9,471.7 72.2,471.7 72.6,471.7 72.9,471.6 73.3,471.6 73.6,471.6 73.9,471.6 74.3,471.6 74.6,471.6 74.9,471.5 75.3,471.5 75.6,471.5 76,471.5 76.3,471.5 76.6,471.5 77,471.4 77.3,471.4 77.7,471.4 78,471.4 78.3,471.3 78.7,471.3 79,471.3 79.3,471.3 79.7,471.2 80,471.2 80.4,471.2 80.7,471.2 81,471.1 81.4,471.1 81.7,471.1 82,471 82.4,471 82.7,471 83.1,470.9 83.4,470.9 83.7,470.8 84.1,470.8 84.4,470.7 84.8,470.7 85.1,470.6 85.4,470.6 85.8,470.5 86.1,470.4 86.4,470.3 86.8,470.2 87.1,470.1 87.5,469.9 87.8,469.8 88.1,469.6 88.5,469.4 88.8,469.2 89.1,469 89.5,468.9 89.8,468.7 90.2,468.6 90.5,468.5 90.8,468.4 91.2,468.4 91.5,468.3 91.9,468.3 92.2,468.3 92.5,468.3 92.9,468.2 93.2,468.2 93.5,468.1 93.9,468 94.2,467.9 94.6,467.7 94.9,467.6 95.2,467.4 95.6,467.2 95.9,467 96.2,466.7 96.6,466.5 96.9,466.2 97.3,465.9 97.6,465.6 97.9,465.2 98.3,464.9 98.6,464.5 99,464.1 99.3,463.7 99.6,463.2 100,462.8 100.3,462.3 100.6,461.8 101,461.2 101.3,460.6 101.7,460 102,459.4 102.3,458.8 102.7,458.2 103,457.5 103.3,456.9 103.7,456.2 104,455.6 104.4,455 104.7,454.4 105,453.9 105.4,453.4 105.7,453 106.1,452.7 106.4,452.5 106.7,452.3 107.1,452.3 107.4,452.4 107.7,452.5 108.1,452.7 108.4,453 108.8,453.4 109.1,453.8 109.4,454.2 109.8,454.7 110.1,455.3 110.4,455.9 110.8,456.4 111.1,457 111.5,457.6 111.8,458.2 112.1,458.8 112.5,459.4 112.8,459.9 113.2,460.5 113.5,461 113.8,461.5 114.2,462 114.5,462.5 114.8,462.9 115.2,463.3 115.5,463.7 115.9,464.1 116.2,464.5 116.5,464.8 116.9,465.1 117.2,465.4 117.5,465.7 117.9,466 118.2,466.3 118.6,466.5 118.9,466.8 119.2,467 119.6,467.2 119.9,467.4 120.3,467.6 120.6,467.8 120.9,468 121.3,468.1 121.6,468.3 121.9,468.4 122.3,468.6 122.6,468.7 123,468.8 123.3,468.9 123.6,469.1 124,469.2 124.3,469.3 124.6,469.4 125,469.5 125.3,469.6 125.7,469.7 126,469.7 126.3,469.8 126.7,469.9 127,470 127.4,470 127.7,470.1 128,470.2 128.4,470.2 128.7,470.3 129,470.4 129.4,470.4 129.7,470.5 130.1,470.5 130.4,470.6 130.7,470.6 131.1,470.7 131.4,470.7 131.7,470.7 132.1,470.8 132.4,470.8 132.8,470.9 133.1,470.9 133.4,470.9 133.8,471 134.1,471 134.5,471 134.8,471.1 135.1,471.1 135.5,471.1 135.8,471.1 136.1,471.2 136.5,471.2 136.8,471.2 137.2,471.3 137.5,471.3 137.8,471.3 138.2,471.3 138.5,471.3 138.9,471.4 139.2,471.4 139.5,471.4 139.9,471.4 140.2,471.4 140.5,471.5 140.9,471.5 141.2,471.5 141.6,471.5 141.9,471.5 142.2,471.5 142.6,471.6 142.9,471.6 143.2,471.6 143.6,471.6 143.9,471.6 144.3,471.6 144.6,471.6 144.9,471.7 145.3,471.7 145.6,471.7 146,471.7 146.3,471.7 146.6,471.7 147,471.7 147.3,471.7 147.6,471.8 148,471.8 148.3,471.8 148.7,471.8 149,471.8 149.3,471.8 149.7,471.8 150,471.8 150.3,471.8 150.7,471.8 151,471.8 151.4,471.9 151.7,471.9 152,471.9 152.4,471.9 152.7,471.9 153.1,471.9 153.4,471.9 153.7,471.9 154.1,471.9 154.4,471.9 154.7,471.9 155.1,471.9 155.4,471.9 155.8,471.9 156.1,472 156.4,472 156.8,472 157.1,472 157.4,472 157.8,472 158.1,472 158.5,472 158.8,472 159.1,472 159.5,472 159.8,472 160.2,472 160.5,472 160.8,472 161.2,472 161.5,472 161.8,472 162.2,472 162.5,472 162.9,472.1 163.2,472.1 163.5,472.1 163.9,472.1 164.2,472.1 164.5,472.1 164.9,472.1 165.2,472.1 165.6,472.1 165.9,472.1 166.2,472.1 166.6,472.1 166.9,472.1 167.3,472.1 167.6,472.1 167.9,472.1 168.3,472.1 168.6,472.1 168.9,472.1 169.3,472.1 169.6,472.1 170,472.1 170.3,472.1 170.6,472.1 171,472.1 171.3,472.1" fill="none" stroke="#111" stroke-width="1.3" />
<line x1="100" y1="462.3" x2="114" y2="462.3" stroke="#b85a1a" stroke-width="1.1" />
<line x1="100" y1="462.3" x2="101.2" y2="462.3" stroke="#e02020" stroke-width="1.1" />
<line x1="112.8" y1="462.3" x2="114" y2="462.3" stroke="#e02020" stroke-width="1.1" />
<text x="41.8" y="396.4" font-family="Liberation Serif" font-size="7.6" font-weight="normal" text-anchor="start" fill="#222" >FWHM=0.49&#956;m</text>
<text x="133" y="396.4" font-family="Liberation Serif" font-size="7.6" font-weight="normal" text-anchor="start" fill="#222" >w=7.7&#956;m</text>
<text x="41.8" y="427.6" font-family="Liberation Serif" font-size="7.6" font-weight="normal" text-anchor="start" fill="#222" >FWHM=0.38&#956;m</text>
<text x="133" y="427.6" font-family="Liberation Serif" font-size="7.6" font-weight="normal" text-anchor="start" fill="#222" >w=11.6&#956;m</text>
<text x="41.8" y="459" font-family="Liberation Serif" font-size="7.6" font-weight="normal" text-anchor="start" fill="#222" >FWHM=0.31&#956;m</text>
<text x="133" y="459" font-family="Liberation Serif" font-size="7.6" font-weight="normal" text-anchor="start" fill="#222" >w=23.1&#956;m</text>
<rect x="289" y="379" width="15" height="95.1" fill="#fef3f6" stroke="none" stroke-width="1" />
<rect x="216.5" y="379" width="144.7" height="95.1" fill="none" stroke="#222" stroke-width="0.8" />
<line x1="216.5" y1="473.5" x2="218.5" y2="473.5" stroke="#222" stroke-width="0.6" />
<line x1="361.2" y1="473.5" x2="359.2" y2="473.5" stroke="#222" stroke-width="0.6" />
<text x="213.5" y="476.4" font-family="Liberation Serif" font-size="8.3" font-weight="normal" text-anchor="end" fill="#333" >0.0</text>
<line x1="216.5" y1="458.9" x2="218.5" y2="458.9" stroke="#222" stroke-width="0.6" />
<line x1="361.2" y1="458.9" x2="359.2" y2="458.9" stroke="#222" stroke-width="0.6" />
<text x="213.5" y="461.8" font-family="Liberation Serif" font-size="8.3" font-weight="normal" text-anchor="end" fill="#333" >0.2</text>
<line x1="216.5" y1="444.2" x2="218.5" y2="444.2" stroke="#222" stroke-width="0.6" />
<line x1="361.2" y1="444.2" x2="359.2" y2="444.2" stroke="#222" stroke-width="0.6" />
<text x="213.5" y="447.1" font-family="Liberation Serif" font-size="8.3" font-weight="normal" text-anchor="end" fill="#333" >0.4</text>
<line x1="216.5" y1="429.6" x2="218.5" y2="429.6" stroke="#222" stroke-width="0.6" />
<line x1="361.2" y1="429.6" x2="359.2" y2="429.6" stroke="#222" stroke-width="0.6" />
<text x="213.5" y="432.5" font-family="Liberation Serif" font-size="8.3" font-weight="normal" text-anchor="end" fill="#333" >0.6</text>
<line x1="216.5" y1="414.9" x2="218.5" y2="414.9" stroke="#222" stroke-width="0.6" />
<line x1="361.2" y1="414.9" x2="359.2" y2="414.9" stroke="#222" stroke-width="0.6" />
<text x="213.5" y="417.8" font-family="Liberation Serif" font-size="8.3" font-weight="normal" text-anchor="end" fill="#333" >0.8</text>
<line x1="216.5" y1="400.3" x2="218.5" y2="400.3" stroke="#222" stroke-width="0.6" />
<line x1="361.2" y1="400.3" x2="359.2" y2="400.3" stroke="#222" stroke-width="0.6" />
<text x="213.5" y="403.2" font-family="Liberation Serif" font-size="8.3" font-weight="normal" text-anchor="end" fill="#333" >1.0</text>
<line x1="216.5" y1="385.7" x2="218.5" y2="385.7" stroke="#222" stroke-width="0.6" />
<line x1="361.2" y1="385.7" x2="359.2" y2="385.7" stroke="#222" stroke-width="0.6" />
<text x="213.5" y="388.6" font-family="Liberation Serif" font-size="8.3" font-weight="normal" text-anchor="end" fill="#333" >1.2</text>
<line x1="216.5" y1="474.1" x2="216.5" y2="472.1" stroke="#222" stroke-width="0.6" />
<line x1="216.5" y1="379" x2="216.5" y2="381" stroke="#222" stroke-width="0.6" />
<text x="216.5" y="484.3" font-family="Liberation Serif" font-size="8.3" font-weight="normal" text-anchor="middle" fill="#333" >7</text>
<line x1="240.6" y1="474.1" x2="240.6" y2="472.1" stroke="#222" stroke-width="0.6" />
<line x1="240.6" y1="379" x2="240.6" y2="381" stroke="#222" stroke-width="0.6" />
<text x="240.6" y="484.3" font-family="Liberation Serif" font-size="8.3" font-weight="normal" text-anchor="middle" fill="#333" >8</text>
<line x1="264.7" y1="474.1" x2="264.7" y2="472.1" stroke="#222" stroke-width="0.6" />
<line x1="264.7" y1="379" x2="264.7" y2="381" stroke="#222" stroke-width="0.6" />
<text x="264.7" y="484.3" font-family="Liberation Serif" font-size="8.3" font-weight="normal" text-anchor="middle" fill="#333" >9</text>
<line x1="288.9" y1="474.1" x2="288.9" y2="472.1" stroke="#222" stroke-width="0.6" />
<line x1="288.9" y1="379" x2="288.9" y2="381" stroke="#222" stroke-width="0.6" />
<text x="288.9" y="484.3" font-family="Liberation Serif" font-size="8.3" font-weight="normal" text-anchor="middle" fill="#333" >10</text>
<line x1="313" y1="474.1" x2="313" y2="472.1" stroke="#222" stroke-width="0.6" />
<line x1="313" y1="379" x2="313" y2="381" stroke="#222" stroke-width="0.6" />
<text x="313" y="484.3" font-family="Liberation Serif" font-size="8.3" font-weight="normal" text-anchor="middle" fill="#333" >11</text>
<line x1="337.1" y1="474.1" x2="337.1" y2="472.1" stroke="#222" stroke-width="0.6" />
<line x1="337.1" y1="379" x2="337.1" y2="381" stroke="#222" stroke-width="0.6" />
<text x="337.1" y="484.3" font-family="Liberation Serif" font-size="8.3" font-weight="normal" text-anchor="middle" fill="#333" >12</text>
<line x1="361.2" y1="474.1" x2="361.2" y2="472.1" stroke="#222" stroke-width="0.6" />
<line x1="361.2" y1="379" x2="361.2" y2="381" stroke="#222" stroke-width="0.6" />
<text x="361.2" y="484.3" font-family="Liberation Serif" font-size="8.3" font-weight="normal" text-anchor="middle" fill="#333" >13</text>
<text x="290.5" y="492.5" font-family="Liberation Serif" font-size="8.3" font-weight="normal" text-anchor="middle" fill="#333" >Wavelength (&#956;m)</text>
<text x="0" y="0" font-family="Liberation Serif" font-size="8.3" font-weight="normal" text-anchor="middle" fill="#333" transform="translate(200.3,435) rotate(-90)">Responsivity (A/W)</text>
<polyline points="216.5,473.5 216.8,473.5 217.1,473.5 217.4,473.5 217.7,473.5 218,473.5 218.2,473.5 218.5,473.5 218.8,473.5 219.1,473.5 219.4,473.5 219.7,473.5 220,473.5 220.3,473.5 220.6,473.5 220.9,473.5 221.1,473.5 221.4,473.5 221.7,473.5 222,473.5 222.3,473.5 222.6,473.5 222.9,473.5 223.2,473.5 223.5,473.5 223.8,473.5 224,473.5 224.3,473.5 224.6,473.5 224.9,473.5 225.2,473.5 225.5,473.5 225.8,473.5 226.1,473.5 226.4,473.5 226.7,473.5 226.9,473.5 227.2,473.5 227.5,473.5 227.8,473.5 228.1,473.5 228.4,473.5 228.7,473.5 229,473.5 229.3,473.5 229.6,473.5 229.8,473.5 230.1,473.5 230.4,473.5 230.7,473.5 231,473.5 231.3,473.5 231.6,473.5 231.9,473.5 232.2,473.5 232.5,473.5 232.7,473.5 233,473.5 233.3,473.5 233.6,473.5 233.9,473.5 234.2,473.5 234.5,473.5 234.8,473.5 235.1,473.5 235.4,473.5 235.6,473.5 235.9,473.5 236.2,473.5 236.5,473.5 236.8,473.5 237.1,473.5 237.4,473.5 237.7,473.5 238,473.5 238.3,473.5 238.5,473.5 238.8,473.5 239.1,473.5 239.4,473.5 239.7,473.5 240,473.5 240.3,473.5 240.6,473.5 240.9,473.5 241.2,473.5 241.4,473.5 241.7,473.5 242,473.5 242.3,473.5 242.6,473.5 242.9,473.5 243.2,473.5 243.5,473.5 243.8,473.5 244.1,473.5 244.3,473.5 244.6,473.5 244.9,473.5 245.2,473.5 245.5,473.5 245.8,473.5 246.1,473.5 246.4,473.5 246.7,473.5 247,473.5 247.2,473.5 247.5,473.5 247.8,473.5 248.1,473.5 248.4,473.5 248.7,473.5 249,473.5 249.3,473.5 249.6,473.5 249.9,473.5 250.1,473.5 250.4,473.5 250.7,473.5 251,473.5 251.3,473.5 251.6,473.5 251.9,473.5 252.2,473.5 252.5,473.5 252.8,473.5 253,473.5 253.3,473.5 253.6,473.5 253.9,473.5 254.2,473.5 254.5,473.5 254.8,473.5 255.1,473.5 255.4,473.5 255.7,473.5 255.9,473.5 256.2,473.5 256.5,473.5 256.8,473.5 257.1,473.5 257.4,473.5 257.7,473.5 258,473.5 258.3,473.5 258.6,473.5 258.8,473.5 259.1,473.5 259.4,473.5 259.7,473.5 260,473.5 260.3,473.5 260.6,473.5 260.9,473.5 261.2,473.5 261.5,473.5 261.7,473.5 262,473.5 262.3,473.5 262.6,473.5 262.9,473.5 263.2,473.5 263.5,473.5 263.8,473.5 264.1,473.5 264.4,473.5 264.6,473.5 264.9,473.5 265.2,473.5 265.5,473.5 265.8,473.5 266.1,473.5 266.4,473.5 266.7,473.5 267,473.5 267.3,473.5 267.5,473.5 267.8,473.5 268.1,473.5 268.4,473.5 268.7,473.5 269,473.5 269.3,473.5 269.6,473.5 269.9,473.5 270.2,473.5 270.4,473.5 270.7,473.5 271,473.4 271.3,473.4 271.6,473.4 271.9,473.4 272.2,473.4 272.5,473.4 272.8,473.4 273.1,473.4 273.3,473.4 273.6,473.4 273.9,473.4 274.2,473.3 274.5,473.3 274.8,473.3 275.1,473.3 275.4,473.3 275.7,473.3 276,473.2 276.2,473.2 276.5,473.2 276.8,473.1 277.1,473.1 277.4,473.1 277.7,473 278,473 278.3,472.9 278.6,472.8 278.9,472.8 279.1,472.7 279.4,472.6 279.7,472.5 280,472.4 280.3,472.3 280.6,472.2 280.9,472 281.2,471.9 281.5,471.7 281.8,471.6 282,471.4 282.3,471.1 282.6,470.9 282.9,470.6 283.2,470.3 283.5,470 283.8,469.7 284.1,469.3 284.4,468.8 284.7,468.4 284.9,467.9 285.2,467.3 285.5,466.7 285.8,466 286.1,465.3 286.4,464.5 286.7,463.6 287,462.6 287.3,461.6 287.6,460.4 287.8,459.2 288.1,457.8 288.4,456.4 288.7,454.8 289,453.1 289.3,451.3 289.6,449.3 289.9,447.2 290.2,445 290.5,442.6 290.7,440 291,437.3 291.3,434.5 291.6,431.6 291.9,428.5 292.2,425.3 292.5,422.1 292.8,418.7 293.1,415.4 293.4,412 293.6,408.6 293.9,405.3 294.2,402.1 294.5,399 294.8,396.1 295.1,393.5 295.4,391.1 295.7,389 296,387.2 296.3,385.8 296.5,384.9 296.8,384.3 297.1,384.2 297.4,384.5 297.7,385.3 298,386.4 298.3,388 298.6,389.9 298.9,392.1 299.2,394.6 299.4,397.4 299.7,400.4 300,403.5 300.3,406.8 300.6,410.1 300.9,413.5 301.2,416.9 301.5,420.2 301.8,423.5 302.1,426.8 302.3,429.9 302.6,432.9 302.9,435.8 303.2,438.6 303.5,441.2 303.8,443.6 304.1,446 304.4,448.2 304.7,450.2 305,452.1 305.2,453.9 305.5,455.5 305.8,457 306.1,458.5 306.4,459.8 306.7,461 307,462.1 307.3,463.1 307.6,464 307.9,464.8 308.1,465.6 308.4,466.3 308.7,467 309,467.6 309.3,468.1 309.6,468.6 309.9,469 310.2,469.5 310.5,469.8 310.8,470.2 311,470.5 311.3,470.8 311.6,471 311.9,471.2 312.2,471.4 312.5,471.6 312.8,471.8 313.1,472 313.4,472.1 313.7,472.2 313.9,472.4 314.2,472.5 314.5,472.6 314.8,472.6 315.1,472.7 315.4,472.8 315.7,472.9 316,472.9 316.3,473 316.6,473 316.8,473.1 317.1,473.1 317.4,473.1 317.7,473.2 318,473.2 318.3,473.2 318.6,473.3 318.9,473.3 319.2,473.3 319.5,473.3 319.7,473.3 320,473.4 320.3,473.4 320.6,473.4 320.9,473.4 321.2,473.4 321.5,473.4 321.8,473.4 322.1,473.4 322.4,473.4 322.6,473.4 322.9,473.4 323.2,473.5 323.5,473.5 323.8,473.5 324.1,473.5 324.4,473.5 324.7,473.5 325,473.5 325.3,473.5 325.5,473.5 325.8,473.5 326.1,473.5 326.4,473.5 326.7,473.5 327,473.5 327.3,473.5 327.6,473.5 327.9,473.5 328.2,473.5 328.4,473.5 328.7,473.5 329,473.5 329.3,473.5 329.6,473.5 329.9,473.5 330.2,473.5 330.5,473.5 330.8,473.5 331.1,473.5 331.3,473.5 331.6,473.5 331.9,473.5 332.2,473.5 332.5,473.5 332.8,473.5 333.1,473.5 333.4,473.5 333.7,473.5 334,473.5 334.2,473.5 334.5,473.5 334.8,473.5 335.1,473.5 335.4,473.5 335.7,473.5 336,473.5 336.3,473.5 336.6,473.5 336.9,473.5 337.1,473.5 337.4,473.5 337.7,473.5 338,473.5 338.3,473.5 338.6,473.5 338.9,473.5 339.2,473.5 339.5,473.5 339.8,473.5 340,473.5 340.3,473.5 340.6,473.5 340.9,473.5 341.2,473.5 341.5,473.5 341.8,473.5 342.1,473.5 342.4,473.5 342.7,473.5 342.9,473.5 343.2,473.5 343.5,473.5 343.8,473.5 344.1,473.5 344.4,473.5 344.7,473.5 345,473.5 345.3,473.5 345.6,473.5 345.8,473.5 346.1,473.5 346.4,473.5 346.7,473.5 347,473.5 347.3,473.5 347.6,473.5 347.9,473.5 348.2,473.5 348.5,473.5 348.7,473.5 349,473.5 349.3,473.5 349.6,473.5 349.9,473.5 350.2,473.5 350.5,473.5 350.8,473.5 351.1,473.5 351.4,473.5 351.6,473.5 351.9,473.5 352.2,473.5 352.5,473.5 352.8,473.5 353.1,473.5 353.4,473.5 353.7,473.5 354,473.5 354.3,473.5 354.5,473.5 354.8,473.5 355.1,473.5 355.4,473.5 355.7,473.5 356,473.5 356.3,473.5 356.6,473.5 356.9,473.5 357.2,473.5 357.4,473.5 357.7,473.5 358,473.5 358.3,473.5 358.6,473.5 358.9,473.5 359.2,473.5 359.5,473.5 359.8,473.5 360.1,473.5 360.3,473.5 360.6,473.5 360.9,473.5 361.2,473.5" fill="none" stroke="#b5562a" stroke-width="1.2" />
<polyline points="216.5,470.2 216.8,470.1 217.1,470.1 217.4,470 217.7,469.9 218,469.8 218.2,469.8 218.5,469.7 218.8,469.6 219.1,469.6 219.4,469.5 219.7,469.4 220,469.4 220.3,469.3 220.6,469.2 220.9,469.2 221.1,469.1 221.4,469.1 221.7,469 222,468.9 222.3,468.9 222.6,468.8 222.9,468.8 223.2,468.7 223.5,468.7 223.8,468.6 224,468.5 224.3,468.5 224.6,468.5 224.9,468.4 225.2,468.4 225.5,468.3 225.8,468.3 226.1,468.2 226.4,468.2 226.7,468.2 226.9,468.1 227.2,468.1 227.5,468.1 227.8,468 228.1,468 228.4,468 228.7,468 229,467.9 229.3,467.9 229.6,467.9 229.8,467.9 230.1,467.8 230.4,467.8 230.7,467.8 231,467.8 231.3,467.7 231.6,467.7 231.9,467.7 232.2,467.7 232.5,467.7 232.7,467.6 233,467.6 233.3,467.6 233.6,467.6 233.9,467.6 234.2,467.5 234.5,467.5 234.8,467.5 235.1,467.5 235.4,467.5 235.6,467.5 235.9,467.4 236.2,467.4 236.5,467.4 236.8,467.4 237.1,467.4 237.4,467.4 237.7,467.3 238,467.3 238.3,467.3 238.5,467.3 238.8,467.3 239.1,467.2 239.4,467.2 239.7,467.2 240,467.2 240.3,467.2 240.6,467.1 240.9,467.1 241.2,467.1 241.4,467.1 241.7,467 242,467 242.3,467 242.6,467 242.9,467 243.2,466.9 243.5,466.9 243.8,466.9 244.1,466.9 244.3,466.9 244.6,466.8 244.9,466.8 245.2,466.8 245.5,466.8 245.8,466.7 246.1,466.7 246.4,466.7 246.7,466.7 247,466.7 247.2,466.6 247.5,466.6 247.8,466.6 248.1,466.5 248.4,466.5 248.7,466.5 249,466.5 249.3,466.4 249.6,466.4 249.9,466.4 250.1,466.3 250.4,466.3 250.7,466 251,463.4 251.3,461.4 251.6,465.1 251.9,466.1 252.2,466.1 252.5,466 252.8,466 253,465.9 253.3,465.9 253.6,465.8 253.9,465.8 254.2,465.7 254.5,465.7 254.8,465.6 255.1,465.5 255.4,465.5 255.7,465.4 255.9,465.3 256.2,465.2 256.5,465.2 256.8,465.1 257.1,465 257.4,464.9 257.7,464.8 258,464.8 258.3,464.7 258.6,464.6 258.8,464.5 259.1,464.4 259.4,464.3 259.7,464.2 260,464.1 260.3,464.1 260.6,464 260.9,463.9 261.2,463.8 261.5,463.7 261.7,463.6 262,463.5 262.3,463.4 262.6,463.3 262.9,463.2 263.2,463.1 263.5,463 263.8,462.9 264.1,462.8 264.4,462.7 264.6,462.6 264.9,462.5 265.2,462.3 265.5,462.2 265.8,462.1 266.1,462 266.4,461.9 266.7,461.8 267,461.7 267.3,461.6 267.5,461.5 267.8,461.4 268.1,461.2 268.4,461.1 268.7,461 269,460.9 269.3,460.7 269.6,460.6 269.9,460.4 270.2,460.3 270.4,460.1 270.7,460 271,459.8 271.3,459.6 271.6,459.4 271.9,459.3 272.2,459.1 272.5,458.8 272.8,458.6 273.1,458.4 273.3,458.1 273.6,457.9 273.9,457.6 274.2,457.3 274.5,456.9 274.8,456.6 275.1,456.2 275.4,455.8 275.7,455.4 276,455 276.2,454.6 276.5,454.2 276.8,453.7 277.1,453.2 277.4,452.7 277.7,452.2 278,451.7 278.3,451.1 278.6,450.6 278.9,450 279.1,449.4 279.4,448.8 279.7,448.2 280,447.5 280.3,446.8 280.6,446.1 280.9,445.2 281.2,444.2 281.5,443.1 281.8,442 282,440.5 282.3,438.4 282.6,435.6 282.9,433.8 283.2,433.6 283.5,433.2 283.8,432.1 284.1,430.6 284.4,429.1 284.7,427.5 284.9,426 285.2,424.5 285.5,423 285.8,421.5 286.1,420.1 286.4,418.7 286.7,417.4 287,416.1 287.3,415 287.6,413.9 287.8,412.9 288.1,412 288.4,411.1 288.7,410.2 289,409.3 289.3,408.4 289.6,407.6 289.9,406.7 290.2,405.9 290.5,405.2 290.7,404.4 291,403.7 291.3,403.1 291.6,402.5 291.9,402 292.2,401.5 292.5,401 292.8,400.6 293.1,400.2 293.4,399.8 293.6,399.4 293.9,399 294.2,398.7 294.5,398.3 294.8,398 295.1,397.7 295.4,397.5 295.7,397.3 296,397.1 296.3,397 296.5,397 296.8,397 297.1,397.1 297.4,397.2 297.7,397.3 298,397.5 298.3,397.7 298.6,398 298.9,398.2 299.2,398.5 299.4,398.8 299.7,399.1 300,399.4 300.3,399.7 300.6,400 300.9,400.3 301.2,400.6 301.5,400.9 301.8,401.2 302.1,401.6 302.3,401.9 302.6,402.3 302.9,402.7 303.2,403.2 303.5,403.6 303.8,404.1 304.1,404.6 304.4,405.1 304.7,405.6 305,406.2 305.2,406.8 305.5,407.4 305.8,408 306.1,408.7 306.4,409.4 306.7,410.3 307,411.3 307.3,412.4 307.6,413.6 307.9,414.8 308.1,416.1 308.4,417.4 308.7,418.8 309,420.1 309.3,421.5 309.6,422.8 309.9,424.1 310.2,425.4 310.5,426.6 310.8,427.8 311,428.8 311.3,429.9 311.6,430.9 311.9,431.9 312.2,432.9 312.5,433.9 312.8,434.9 313.1,435.9 313.4,436.9 313.7,437.8 313.9,438.8 314.2,439.7 314.5,440.6 314.8,441.5 315.1,442.3 315.4,443.1 315.7,443.9 316,444.7 316.3,445.5 316.6,446.2 316.8,446.9 317.1,447.6 317.4,448.3 317.7,448.9 318,449.6 318.3,450.3 318.6,450.9 318.9,451.5 319.2,452.2 319.5,452.8 319.7,453.4 320,454 320.3,454.6 320.6,455.1 320.9,455.7 321.2,456.2 321.5,456.8 321.8,457.3 322.1,457.8 322.4,458.3 322.6,458.8 322.9,459.3 323.2,459.8 323.5,460.2 323.8,460.7 324.1,461.1 324.4,461.5 324.7,461.9 325,462.4 325.3,462.8 325.5,463.2 325.8,463.6 326.1,464 326.4,464.4 326.7,464.8 327,465.1 327.3,465.5 327.6,465.8 327.9,466.2 328.2,466.5 328.4,466.8 328.7,467.1 329,467.3 329.3,467.6 329.6,467.8 329.9,468 330.2,468.2 330.5,468.4 330.8,468.6 331.1,468.8 331.3,469 331.6,469.1 331.9,469.3 332.2,469.5 332.5,469.6 332.8,469.8 333.1,469.9 333.4,470 333.7,470.2 334,470.3 334.2,470.4 334.5,470.5 334.8,470.6 335.1,470.7 335.4,470.8 335.7,470.9 336,471 336.3,471 336.6,471.1 336.9,471.2 337.1,471.2 337.4,471.3 337.7,471.4 338,471.4 338.3,471.5 338.6,471.6 338.9,471.6 339.2,471.7 339.5,471.7 339.8,471.8 340,471.9 340.3,471.9 340.6,472 340.9,472 341.2,472.1 341.5,472.1 341.8,472.2 342.1,472.2 342.4,472.2 342.7,472.3 342.9,472.3 343.2,472.4 343.5,472.4 343.8,472.4 344.1,472.5 344.4,472.5 344.7,472.5 345,472.6 345.3,472.6 345.6,472.6 345.8,472.7 346.1,472.7 346.4,472.7 346.7,472.7 347,472.8 347.3,472.8 347.6,472.8 347.9,472.8 348.2,472.9 348.5,472.9 348.7,472.9 349,472.9 349.3,473 349.6,473 349.9,473 350.2,473 350.5,473 350.8,473.1 351.1,473.1 351.4,473.1 351.6,473.1 351.9,473.1 352.2,473.2 352.5,473.2 352.8,473.2 353.1,473.2 353.4,473.2 353.7,473.3 354,473.3 354.3,473.3 354.5,473.3 354.8,473.3 355.1,473.3 355.4,473.3 355.7,473.4 356,473.4 356.3,473.4 356.6,473.4 356.9,473.4 357.2,473.4 357.4,473.4 357.7,473.4 358,473.5 358.3,473.5 358.6,473.5 358.9,473.5 359.2,473.5 359.5,473.5 359.8,473.5 360.1,473.5 360.3,473.5 360.6,473.5 360.9,473.5 361.2,473.5" fill="none" stroke="#111" stroke-width="1.2" />
<line x1="308" y1="388.5" x2="317.5" y2="388.5" stroke="#111" stroke-width="1.2" />
<text x="320" y="391.3" font-family="Liberation Serif" font-size="8.3" font-weight="normal" text-anchor="start" fill="#222" >45&#176;</text>
<line x1="308" y1="397.8" x2="317.5" y2="397.8" stroke="#b5562a" stroke-width="1.2" />
<text x="320" y="400.6" font-family="Liberation Serif" font-size="8.3" font-weight="normal" text-anchor="start" fill="#222" >MC-QWIP</text>
<line x1="313.7" y1="444.5" x2="320.5" y2="434.2" stroke="#111" stroke-width="0.8" />
<polygon points="322,432 318.2,434.5 321.5,436.3" fill="#111"/>
<text x="321.2" y="431.6" font-family="Liberation Serif" font-size="7.5" font-weight="normal" text-anchor="start" fill="#222" >&#215;8</text>
<text x="252.2" y="410.5" font-family="Liberation Serif" font-size="8.3" font-weight="normal" text-anchor="middle" fill="#222" >45&#176; mesa</text>
<rect x="249.5" y="412" width="8.7" height="1.9" fill="#d8e060" stroke="none" stroke-width="1" />
<rect x="246.2" y="414.5" width="16.9" height="6" fill="#3848b0" stroke="none" stroke-width="1" />
<rect x="265.8" y="418.2" width="8.7" height="1.7" fill="#d8e060" stroke="none" stroke-width="1" />
<polygon points="233.1,421.1 274.5,421.1 274.5,437.7 248.9,437.7" fill="#4058c8"/>
<polygon points="233.1,421.1 274.5,421.1 274.5,423.2 235.2,423.2" fill="#5848b0"/>
<rect x="248.9" y="437.7" width="25.6" height="1.7" fill="#b8f0f8" stroke="none" stroke-width="1" />
<line x1="228" y1="429.2" x2="229.7" y2="425.6" stroke="#7a5a30" stroke-width="0.9" />
<polygon points="230.1,424.6 228.6,426.4 230.4,426.8" fill="#7a5a30"/>
<line x1="231.3" y1="431.5" x2="233" y2="427.9" stroke="#7a5a30" stroke-width="0.9" />
<polygon points="233.4,426.9 231.9,428.7 233.7,429.1" fill="#7a5a30"/>
<line x1="234.6" y1="433.8" x2="236.3" y2="430.2" stroke="#7a5a30" stroke-width="0.9" />
<polygon points="236.7,429.2 235.2,431 237,431.4" fill="#7a5a30"/>
<line x1="237.9" y1="436.1" x2="239.6" y2="432.5" stroke="#7a5a30" stroke-width="0.9" />
<polygon points="240,431.5 238.5,433.3 240.3,433.7" fill="#7a5a30"/>
<line x1="241.2" y1="438.4" x2="242.9" y2="434.8" stroke="#7a5a30" stroke-width="0.9" />
<polygon points="243.3,433.8 241.8,435.6 243.6,436" fill="#7a5a30"/>
<polygon points="28.2,86.5 164,86.5 164,122.2 59.5,122.2" fill="#fff" stroke="#777" stroke-width="0.8"/>
<line x1="35.2" y1="94.2" x2="164" y2="94.2" stroke="#9a9a9a" stroke-width="0.6" />
<line x1="36.4" y1="86.5" x2="36.4" y2="93" stroke="#777" stroke-width="0.5" />
<text x="39.6" y="92.4" font-family="Liberation Sans" font-size="4.8" font-weight="normal" text-anchor="start" fill="#333" >45&#176;</text>
<text x="156" y="92.4" font-family="Liberation Sans" font-size="4.8" font-weight="normal" text-anchor="start" fill="#333" >CL</text>
<text x="146.4" y="109.6" font-family="Liberation Sans" font-size="4.9" font-weight="normal" text-anchor="middle" fill="#333" textLength="23.6" lengthAdjust="spacingAndGlyphs">SUBSTRATE</text>
<line x1="18.2" y1="107.7" x2="33.6" y2="99.5" stroke="#222" stroke-width="0.8" />
<line x1="21.4" y1="110.5" x2="36.7" y2="102.3" stroke="#222" stroke-width="0.8" />
<line x1="24.6" y1="113.3" x2="39.8" y2="105.1" stroke="#222" stroke-width="0.8" />
<text x="30" y="119.7" font-family="Liberation Sans" font-size="3.9" font-weight="bold" text-anchor="middle" fill="#111" textLength="24" lengthAdjust="spacingAndGlyphs">IR RADIATION</text>
<rect x="35.5" y="84.3" width="18.1" height="2" fill="#b0b0b0" stroke="#777" stroke-width="0.4" />
<rect x="139.5" y="84.3" width="18" height="2" fill="#b0b0b0" stroke="#777" stroke-width="0.4" />
<rect x="111.9" y="68.3" width="18.3" height="2" fill="#b0b0b0" stroke="#777" stroke-width="0.4" />
<rect x="62.3" y="53.3" width="18.8" height="2" fill="#b0b0b0" stroke="#777" stroke-width="0.4" />
<rect x="86.8" y="34.5" width="19.7" height="2" fill="#b0b0b0" stroke="#777" stroke-width="0.4" />
<rect x="58.2" y="70.2" width="75.3" height="15.9" fill="#fff" stroke="#777" stroke-width="0.7" />
<line x1="58.6" y1="77.4" x2="133.1" y2="77.4" stroke="#8c8c8c" stroke-width="0.5" />
<line x1="58.6" y1="79.1" x2="133.1" y2="79.1" stroke="#8c8c8c" stroke-width="0.5" />
<line x1="58.6" y1="80.7" x2="133.1" y2="80.7" stroke="#8c8c8c" stroke-width="0.5" />
<line x1="58.6" y1="82.4" x2="133.1" y2="82.4" stroke="#8c8c8c" stroke-width="0.5" />
<line x1="58.6" y1="84" x2="133.1" y2="84" stroke="#8c8c8c" stroke-width="0.5" />
<rect x="115.5" y="79.2" width="16.5" height="6.2" fill="#fff" stroke="none" stroke-width="1" />
<text x="61.3" y="76" font-family="Liberation Sans" font-size="5.5" font-weight="normal" text-anchor="start" fill="#333" >CL</text>
<text x="123.3" y="84.2" font-family="Liberation Sans" font-size="5.4" font-weight="normal" text-anchor="middle" fill="#333" >NIR - 1</text>
<rect x="59.8" y="55.4" width="48.8" height="14.8" fill="#fff" stroke="#777" stroke-width="0.7" />
<line x1="60" y1="61.3" x2="108.4" y2="61.3" stroke="#9cc8b0" stroke-width="0.9" />
<line x1="60.2" y1="62.8" x2="108.4" y2="62.8" stroke="#8c8c8c" stroke-width="0.5" />
<line x1="60.2" y1="64.5" x2="108.4" y2="64.5" stroke="#8c8c8c" stroke-width="0.5" />
<line x1="60.2" y1="66.1" x2="108.4" y2="66.1" stroke="#8c8c8c" stroke-width="0.5" />
<line x1="60.2" y1="67.8" x2="108.4" y2="67.8" stroke="#8c8c8c" stroke-width="0.5" />
<line x1="60.2" y1="69.4" x2="108.4" y2="69.4" stroke="#8c8c8c" stroke-width="0.5" />
<rect x="85.5" y="63.3" width="21.5" height="6" fill="#fff" stroke="none" stroke-width="1" />
<text x="62.3" y="60.3" font-family="Liberation Sans" font-size="5.5" font-weight="normal" text-anchor="start" fill="#333" >CL</text>
<text x="96.2" y="68.2" font-family="Liberation Sans" font-size="5.4" font-weight="normal" text-anchor="middle" fill="#333" >MWIR - 2</text>
<rect x="85.2" y="36.5" width="22.9" height="18.9" fill="#fff" stroke="#777" stroke-width="0.7" />
<line x1="85.4" y1="44.6" x2="108" y2="44.6" stroke="#9cc8b0" stroke-width="0.9" />
<line x1="85.6" y1="45.9" x2="107.8" y2="45.9" stroke="#8c8c8c" stroke-width="0.5" />
<line x1="85.6" y1="47.5" x2="107.8" y2="47.5" stroke="#8c8c8c" stroke-width="0.5" />
<text x="88" y="43.4" font-family="Liberation Sans" font-size="5.5" font-weight="normal" text-anchor="start" fill="#333" >CL</text>
<text x="96.5" y="52.8" font-family="Liberation Sans" font-size="5.4" font-weight="normal" text-anchor="middle" fill="#333" >LWIR - 3</text>
<polyline points="74.3,30.2 77.2,30.2 77.2,23.6 120.3,23.6 120.3,27.1" fill="none" stroke="#666" stroke-width="0.6" />
<polyline points="77.2,29.6 79,32.6 94,32.6 94,34.5" fill="none" stroke="#666" stroke-width="0.55" />
<line x1="68.4" y1="36.1" x2="68.4" y2="53.3" stroke="#666" stroke-width="0.6" />
<line x1="75.2" y1="30.5" x2="75.2" y2="53.3" stroke="#666" stroke-width="0.55" />
<line x1="120.3" y1="38.9" x2="120.3" y2="68.3" stroke="#666" stroke-width="0.6" />
<line x1="120.3" y1="61" x2="141.1" y2="61" stroke="#666" stroke-width="0.6" />
<line x1="147" y1="66.9" x2="147" y2="84.3" stroke="#666" stroke-width="0.6" />
<circle cx="68.4" cy="30.2" r="5.9" fill="#fff" stroke="#666" stroke-width="0.65"/>
<text x="68" y="32" font-family="Liberation Sans" font-size="5.2" font-weight="normal" text-anchor="middle" fill="#333" >A<tspan font-size="3.2" dy="1">3</tspan></text>
<circle cx="120.3" cy="33" r="5.9" fill="#fff" stroke="#666" stroke-width="0.65"/>
<text x="119.9" y="34.8" font-family="Liberation Sans" font-size="5.2" font-weight="normal" text-anchor="middle" fill="#333" >A<tspan font-size="3.2" dy="1">2</tspan></text>
<circle cx="147" cy="61" r="5.9" fill="#fff" stroke="#666" stroke-width="0.65"/>
<text x="146.6" y="62.8" font-family="Liberation Sans" font-size="5.2" font-weight="normal" text-anchor="middle" fill="#333" >A<tspan font-size="3.2" dy="1">1</tspan></text>
<rect x="63.9" y="42.6" width="9" height="2.4" fill="#fff" stroke="none" stroke-width="1" />
<line x1="63.9" y1="43" x2="72.9" y2="43" stroke="#666" stroke-width="0.7" />
<line x1="65.9" y1="44.6" x2="70.9" y2="44.6" stroke="#666" stroke-width="0.9" />
<text x="53.4" y="45.8" font-family="Liberation Sans" font-size="5" font-weight="normal" text-anchor="start" fill="#333" >V<tspan font-size="3" dy="1">3</tspan></text>
<rect x="115.8" y="45.6" width="9" height="2.4" fill="#fff" stroke="none" stroke-width="1" />
<line x1="115.8" y1="46" x2="124.8" y2="46" stroke="#666" stroke-width="0.7" />
<line x1="117.8" y1="47.6" x2="122.8" y2="47.6" stroke="#666" stroke-width="0.9" />
<text x="126.4" y="49.4" font-family="Liberation Sans" font-size="5" font-weight="normal" text-anchor="start" fill="#333" >V<tspan font-size="3" dy="1">2</tspan></text>
<rect x="142.5" y="72.6" width="9" height="2.4" fill="#fff" stroke="none" stroke-width="1" />
<line x1="142.5" y1="73" x2="151.5" y2="73" stroke="#666" stroke-width="0.7" />
<line x1="144.5" y1="74.6" x2="149.5" y2="74.6" stroke="#666" stroke-width="0.9" />
<text x="152.4" y="76" font-family="Liberation Sans" font-size="5" font-weight="normal" text-anchor="start" fill="#333" >V<tspan font-size="3" dy="1">1</tspan></text>
<rect x="183.9" y="25.1" width="99.8" height="7.5" fill="#a9a9a9" stroke="none" stroke-width="1" />
<text x="240" y="30.2" font-family="Liberation Sans" font-size="3.95" font-weight="normal" text-anchor="middle" fill="#222" >4000 &#197; n<tspan font-size="2.4" dy="-1">+</tspan><tspan dy="1">-GaAs Top Contact, n = 1.5 &#215; 10</tspan><tspan font-size="2.4" dy="-1">18</tspan><tspan dy="1"> cm</tspan><tspan font-size="2.4" dy="-1">-3</tspan></text>
<rect x="183.9" y="32.6" width="99.8" height="0.9" fill="#2aa08c" stroke="none" stroke-width="1" />
<rect x="183.9" y="33.5" width="99.8" height="6.9" fill="#72dcee" stroke="none" stroke-width="1" />
<text x="240" y="38.4" font-family="Liberation Sans" font-size="3.95" font-weight="normal" text-anchor="middle" fill="#222" >250 &#197; Al<tspan font-size="2.4" dy="1">0.3</tspan><tspan dy="-1">Ga</tspan><tspan font-size="2.4" dy="1">0.7</tspan><tspan dy="-1">As</tspan></text>
<rect x="183.9" y="40.4" width="99.8" height="6.5" fill="#e4b6ee" stroke="none" stroke-width="1" />
<text x="240" y="45" font-family="Liberation Sans" font-size="3.95" font-weight="normal" text-anchor="middle" fill="#222" >5 &#197; GaAs</text>
<rect x="183.9" y="46.9" width="99.8" height="6.6" fill="#8a76e4" stroke="none" stroke-width="1" />
<text x="240" y="51.6" font-family="Liberation Sans" font-size="3.95" font-weight="normal" text-anchor="middle" fill="#222" ><tspan font-weight="bold">46.8 &#197;</tspan> In<tspan font-size="2.4" dy="1">0.1</tspan><tspan dy="-1">Ga</tspan><tspan font-size="2.4" dy="1">0.9</tspan><tspan dy="-1">As well (n), n = 1.5 &#215; 10</tspan><tspan font-size="2.4" dy="-1">18</tspan><tspan dy="1"> cm</tspan><tspan font-size="2.4" dy="-1">-3</tspan></text>
<rect x="183.9" y="53.5" width="99.8" height="6.5" fill="#c4c4ee" stroke="none" stroke-width="1" />
<text x="240" y="58.1" font-family="Liberation Sans" font-size="3.95" font-weight="normal" text-anchor="middle" fill="#222" >5 &#197; GaAs</text>
<rect x="183.9" y="60" width="99.8" height="6.2" fill="#a8c4f0" stroke="none" stroke-width="1" />
<text x="240" y="64.5" font-family="Liberation Sans" font-size="3.95" font-weight="normal" text-anchor="middle" fill="#222" >250 &#197; Al<tspan font-size="2.4" dy="1">0.3</tspan><tspan dy="-1">Ga</tspan><tspan font-size="2.4" dy="1">0.7</tspan><tspan dy="-1">As</tspan></text>
<rect x="183.9" y="66.2" width="99.8" height="6.4" fill="#b4f4f2" stroke="none" stroke-width="1" />
<text x="240" y="70.8" font-family="Liberation Sans" font-size="3.95" font-weight="normal" text-anchor="middle" fill="#222" >1500 &#197; Al<tspan font-size="2.4" dy="1">x</tspan><tspan dy="-1">Ga</tspan><tspan font-size="2.4" dy="1">1-x</tspan><tspan dy="-1">As Graded (up) Barrier, (x = 0.1 &#8594; 0.4)</tspan></text>
<rect x="183.9" y="72.6" width="99.8" height="8.6" fill="#a6a6a6" stroke="none" stroke-width="1" />
<text x="240" y="78.3" font-family="Liberation Sans" font-size="3.95" font-weight="normal" text-anchor="middle" fill="#222" >5000 &#197; p<tspan font-size="2.4" dy="-1">+</tspan><tspan dy="1">-GaAs Middle Contact, p</tspan><tspan font-size="2.4" dy="-1">+</tspan><tspan dy="1"> = 1 &#215; 10</tspan><tspan font-size="2.4" dy="-1">18</tspan><tspan dy="1"> cm</tspan><tspan font-size="2.4" dy="-1">-3</tspan></text>
<rect x="183.9" y="81.2" width="99.8" height="6.8" fill="#f2f4f4" stroke="none" stroke-width="1" />
<text x="240" y="86" font-family="Liberation Sans" font-size="3.95" font-weight="normal" text-anchor="middle" fill="#222" >1500 &#197; Al<tspan font-size="2.4" dy="1">x</tspan><tspan dy="-1">Ga</tspan><tspan font-size="2.4" dy="1">1-x</tspan><tspan dy="-1">As Graded (down) Barrier, (x = 0.2 &#8594; 0.1)</tspan></text>
<rect x="183.9" y="88" width="99.8" height="6.6" fill="#78dcee" stroke="none" stroke-width="1" />
<text x="240" y="92.7" font-family="Liberation Sans" font-size="3.95" font-weight="normal" text-anchor="middle" fill="#222" >400 &#197; Al<tspan font-size="2.4" dy="1">0.15</tspan><tspan dy="-1">Ga</tspan><tspan font-size="2.4" dy="1">0.85</tspan><tspan dy="-1">As</tspan></text>
<rect x="183.9" y="94.6" width="99.8" height="6.5" fill="#c2ccf0" stroke="none" stroke-width="1" />
<text x="240" y="99.2" font-family="Liberation Sans" font-size="3.95" font-weight="normal" text-anchor="middle" fill="#222" >65 &#197; GaAs well (n), n = 0.5-0.7 &#215; 10<tspan font-size="2.4" dy="-1">18</tspan><tspan dy="1"> cm</tspan><tspan font-size="2.4" dy="-1">-3</tspan></text>
<rect x="183.9" y="101.1" width="99.8" height="6.3" fill="#a8aaee" stroke="none" stroke-width="1" />
<text x="240" y="105.7" font-family="Liberation Sans" font-size="3.95" font-weight="normal" text-anchor="middle" fill="#222" >400 &#197; Al<tspan font-size="2.4" dy="1">0.15</tspan><tspan dy="-1">Ga</tspan><tspan font-size="2.4" dy="1">0.85</tspan><tspan dy="-1">As</tspan></text>
<rect x="183.9" y="107.4" width="99.8" height="5.6" fill="#98a8a2" stroke="none" stroke-width="1" />
<text x="240" y="111.6" font-family="Liberation Sans" font-size="3.95" font-weight="normal" text-anchor="middle" fill="#222" >1 &#956;m n<tspan font-size="2.4" dy="-1">+</tspan><tspan dy="1">-GaAs Bottom Contact, n = 1.5 &#215; 10</tspan><tspan font-size="2.4" dy="-1">18</tspan><tspan dy="1"> cm</tspan><tspan font-size="2.4" dy="-1">-3</tspan></text>
<rect x="183.9" y="113" width="99.8" height="2.2" fill="#e88a98" stroke="none" stroke-width="1" />
<rect x="183.9" y="115.6" width="99.8" height="6.9" fill="url(#hatch)" stroke="#777" stroke-width="0.5" />
<rect x="225" y="116.6" width="30" height="5" fill="#f0f0f0" stroke="none" stroke-width="1" />
<text x="240" y="120.6" font-family="Liberation Sans" font-size="3.7" font-weight="normal" text-anchor="middle" fill="#333" >GaAs Substrate</text>
<rect x="183.9" y="25.1" width="99.8" height="90.1" fill="none" stroke="#555" stroke-width="0.6" />
<line x1="183.9" y1="32.6" x2="283.7" y2="32.6" stroke="#555" stroke-width="0.4" />
<line x1="183.9" y1="72.6" x2="283.7" y2="72.6" stroke="#555" stroke-width="0.4" />
<line x1="183.9" y1="81.2" x2="283.7" y2="81.2" stroke="#555" stroke-width="0.4" />
<line x1="183.9" y1="107.4" x2="283.7" y2="107.4" stroke="#555" stroke-width="0.4" />
<line x1="183.9" y1="113" x2="283.7" y2="113" stroke="#555" stroke-width="0.4" />
<rect x="184.8" y="33.5" width="6.4" height="36.8" fill="#6eb0ec" stroke="none" stroke-width="1" />
<rect x="184.8" y="66.6" width="6.4" height="5.5" fill="#c8f4f8" stroke="none" stroke-width="1" />
<text x="0" y="0" font-family="Liberation Sans" font-size="3.6" font-weight="bold" text-anchor="middle" fill="#1a3a6a" transform="translate(189.4,49.5) rotate(-90)">MWIR</text>
<rect x="184.8" y="81.4" width="6.4" height="25.5" fill="#b84038" stroke="none" stroke-width="1" />
<text x="0" y="0" font-family="Liberation Sans" font-size="3.6" font-weight="bold" text-anchor="middle" fill="#4a1010" transform="translate(189.4,94) rotate(-90)">LWIR</text>
<text x="181.5" y="42.6" font-family="Liberation Serif" font-size="3.8" font-weight="normal" text-anchor="middle" fill="#444" font-style="italic">n</text>
<text x="181.5" y="68.4" font-family="Liberation Serif" font-size="3.8" font-weight="normal" text-anchor="middle" fill="#444" font-style="italic">i</text>
<text x="181.5" y="77.4" font-family="Liberation Serif" font-size="3.8" font-weight="normal" text-anchor="middle" fill="#444" font-style="italic">p</text>
<text x="181.5" y="89.2" font-family="Liberation Serif" font-size="3.8" font-weight="normal" text-anchor="middle" fill="#444" font-style="italic">i</text>
<text x="181.5" y="105" font-family="Liberation Serif" font-size="3.8" font-weight="normal" text-anchor="middle" fill="#444" font-style="italic">n</text>
<line x1="177.6" y1="59" x2="184.5" y2="59" stroke="#555" stroke-width="0.45" />
<line x1="177.6" y1="71.8" x2="184.5" y2="71.8" stroke="#555" stroke-width="0.45" />
<line x1="177.6" y1="81.1" x2="184.5" y2="81.1" stroke="#555" stroke-width="0.45" />
<line x1="177.6" y1="94" x2="184.5" y2="94" stroke="#555" stroke-width="0.45" />
<line x1="177.6" y1="108.5" x2="184.5" y2="108.5" stroke="#555" stroke-width="0.45" />
<line x1="177.6" y1="25.1" x2="184.5" y2="25.1" stroke="#555" stroke-width="0.45" />
<line x1="283.7" y1="29.6" x2="305" y2="29.6" stroke="#333" stroke-width="0.9" />
<polygon points="283.9,29.6 287.2,28.2 287.2,31.0" fill="#333"/>
<line x1="297.8" y1="29.6" x2="297.8" y2="112.5" stroke="#333" stroke-width="0.8" />
<line x1="304.6" y1="29.6" x2="304.6" y2="114.2" stroke="#333" stroke-width="0.8" />
<line x1="283.7" y1="77.9" x2="298.2" y2="77.9" stroke="#333" stroke-width="0.9" />
<polygon points="283.9,77.9 287.2,76.5 287.2,79.3" fill="#333"/>
<line x1="283.7" y1="114.2" x2="305" y2="114.2" stroke="#333" stroke-width="0.9" />
<polygon points="283.9,114.2 287.2,112.8 287.2,115.6" fill="#333"/>
<rect x="301.5" y="67.5" width="6.5" height="6.5" fill="#fff" stroke="none" stroke-width="1" />
<text x="292.5" y="25.6" font-family="Liberation Sans" font-size="3.8" font-weight="normal" text-anchor="start" fill="#444" >TC</text>
<text x="297.3" y="65.6" font-family="Liberation Sans" font-size="3.9" font-weight="normal" text-anchor="end" fill="#444" >TM</text>
<text x="297.3" y="89.8" font-family="Liberation Sans" font-size="3.9" font-weight="normal" text-anchor="end" fill="#444" >MB</text>
<text x="304.6" y="72.6" font-family="Liberation Sans" font-size="3.9" font-weight="normal" text-anchor="middle" fill="#444" >TB</text>
<text x="289.5" y="75.8" font-family="Liberation Sans" font-size="3.8" font-weight="normal" text-anchor="start" fill="#444" >MC</text>
<text x="289.5" y="119" font-family="Liberation Sans" font-size="3.8" font-weight="normal" text-anchor="start" fill="#444" >BC</text>
<polyline points="282.5,33.2 285.2,33.2 285.2,59.5 282.5,59.5" fill="none" stroke="#2a7060" stroke-width="0.5" />
<polyline points="282.5,94.4 285.2,94.4 285.2,107.2 282.5,107.2" fill="none" stroke="#2a7060" stroke-width="0.5" />
<text x="286.3" y="47.6" font-family="Liberation Sans" font-size="3.8" font-weight="normal" text-anchor="start" fill="#444" >&#215; 20</text>
<text x="286.3" y="102.5" font-family="Liberation Sans" font-size="3.8" font-weight="normal" text-anchor="start" fill="#444" >&#215; 20</text>
<rect x="359.1" y="19.2" width="86.3" height="12.9" fill="#8ea2d6" stroke="none" stroke-width="1" />
<rect x="359.1" y="32.1" width="86.3" height="13.1" fill="#dedbe2" stroke="none" stroke-width="1" />
<rect x="359.1" y="45.2" width="86.3" height="13" fill="#8ea2d6" stroke="none" stroke-width="1" />
<rect x="359.1" y="58.2" width="86.3" height="15.7" fill="#dedbe2" stroke="none" stroke-width="1" />
<rect x="359.1" y="73.9" width="86.3" height="13" fill="#8ea2d6" stroke="none" stroke-width="1" />
<rect x="359.1" y="86.9" width="86.3" height="12.9" fill="#dedbe2" stroke="none" stroke-width="1" />
<rect x="359.1" y="99.8" width="86.3" height="13" fill="#8ea2d6" stroke="none" stroke-width="1" />
<text x="402.3" y="27.8" font-family="Liberation Sans" font-size="6.2" font-weight="bold" text-anchor="middle" fill="#1c2c5c" >0.2 &#956;m n<tspan font-size="3.5" dy="-1.8">+</tspan><tspan dy="1.8"> GaAs</tspan></text>
<text x="402.3" y="40.8" font-family="Liberation Sans" font-size="6.2" font-weight="bold" text-anchor="middle" fill="#222" >500 &#197; Al<tspan font-size="3.5" dy="1">0.2</tspan><tspan dy="-1">Ga</tspan><tspan font-size="3.5" dy="1">0.8</tspan><tspan dy="-1">As</tspan></text>
<text x="402.3" y="53.8" font-family="Liberation Sans" font-size="6.2" font-weight="bold" text-anchor="middle" fill="#1c2c5c" >500 &#197; GaAs</text>
<text x="402.3" y="66" font-family="Liberation Sans" font-size="6.2" font-weight="bold" text-anchor="middle" fill="#222" >InAs QRs</text>
<text x="402.3" y="82.5" font-family="Liberation Sans" font-size="6.2" font-weight="bold" text-anchor="middle" fill="#1c2c5c" >500 &#197; GaAs</text>
<text x="402.3" y="95.4" font-family="Liberation Sans" font-size="6.2" font-weight="bold" text-anchor="middle" fill="#222" >0.8 &#956;m n<tspan font-size="3.5" dy="-1.8">+</tspan><tspan dy="1.8"> GaAs</tspan></text>
<text x="402.3" y="108.4" font-family="Liberation Sans" font-size="6.2" font-weight="bold" text-anchor="middle" fill="#1c2c5c" >S.I. GaAs Substrate</text>
<line x1="359.1" y1="32.1" x2="445.4" y2="32.1" stroke="#1c1c34" stroke-width="1.1" />
<line x1="359.1" y1="45.2" x2="445.4" y2="45.2" stroke="#1c1c34" stroke-width="1.1" />
<line x1="359.1" y1="58.2" x2="445.4" y2="58.2" stroke="#1c1c34" stroke-width="1.1" />
<line x1="359.1" y1="73.9" x2="445.4" y2="73.9" stroke="#1c1c34" stroke-width="1.1" />
<line x1="359.1" y1="86.9" x2="445.4" y2="86.9" stroke="#1c1c34" stroke-width="1.1" />
<line x1="359.1" y1="99.8" x2="445.4" y2="99.8" stroke="#1c1c34" stroke-width="1.1" />
<rect x="359.1" y="19.2" width="86.3" height="93.6" fill="none" stroke="#1c1c34" stroke-width="1.1" />
<ellipse cx="368.8" cy="70.3" rx="2.7" ry="1.2" fill="#b4b8e8" stroke="#3a4a98" stroke-width="0.5" transform="rotate(-8 368.8 70.3)"/>
<ellipse cx="376.1" cy="70.3" rx="2.7" ry="1.2" fill="#b4b8e8" stroke="#3a4a98" stroke-width="0.5" transform="rotate(-8 376.1 70.3)"/>
<ellipse cx="383.4" cy="70.3" rx="2.7" ry="1.2" fill="#b4b8e8" stroke="#3a4a98" stroke-width="0.5" transform="rotate(-8 383.4 70.3)"/>
<ellipse cx="390.7" cy="70.3" rx="2.7" ry="1.2" fill="#b4b8e8" stroke="#3a4a98" stroke-width="0.5" transform="rotate(-8 390.7 70.3)"/>
<ellipse cx="398" cy="70.3" rx="2.7" ry="1.2" fill="#b4b8e8" stroke="#3a4a98" stroke-width="0.5" transform="rotate(-8 398 70.3)"/>
<ellipse cx="405.3" cy="70.3" rx="2.7" ry="1.2" fill="#b4b8e8" stroke="#3a4a98" stroke-width="0.5" transform="rotate(-8 405.3 70.3)"/>
<ellipse cx="412.6" cy="70.3" rx="2.7" ry="1.2" fill="#b4b8e8" stroke="#3a4a98" stroke-width="0.5" transform="rotate(-8 412.6 70.3)"/>
<ellipse cx="419.9" cy="70.3" rx="2.7" ry="1.2" fill="#b4b8e8" stroke="#3a4a98" stroke-width="0.5" transform="rotate(-8 419.9 70.3)"/>
<ellipse cx="427.2" cy="70.3" rx="2.7" ry="1.2" fill="#b4b8e8" stroke="#3a4a98" stroke-width="0.5" transform="rotate(-8 427.2 70.3)"/>
<ellipse cx="434.5" cy="70.3" rx="2.7" ry="1.2" fill="#b4b8e8" stroke="#3a4a98" stroke-width="0.5" transform="rotate(-8 434.5 70.3)"/>
<polyline points="446,45.2 450.3,45.2 450.3,73.9 446,73.9" fill="none" stroke="#222" stroke-width="0.6" />
<text x="451" y="61.8" font-family="Liberation Sans" font-size="5.6" font-weight="bold" text-anchor="start" fill="#222" >&#215;10</text>
<line x1="450.3" y1="45.2" x2="466" y2="23.9" stroke="#222" stroke-width="1.1" stroke-dasharray="2.6,1.5"/>
<line x1="450.3" y1="73.9" x2="466" y2="108.1" stroke="#222" stroke-width="1.1" stroke-dasharray="2.6,1.5"/>
<rect x="466" y="23.7" width="76.2" height="84.6" fill="#000" stroke="none" stroke-width="1" filter="url(#afm)"/>
<rect x="504.5" y="75.2" width="37.7" height="33.1" fill="#000" stroke="none" stroke-width="1" filter="url(#afm2)"/>
<path d="M509,106 C510,90 520,80 540,78" fill="none" stroke="#c87830" stroke-width="4.5" opacity="0.55"/>
<path d="M509,106 C510,90 520,80 540,78" fill="none" stroke="#f0b050" stroke-width="1.6" opacity="0.7"/>
<path d="M514,104 C516,94 522,88 530,86 C526,92 524,98 523,106 Z" fill="#3a1404" opacity="0.6"/>
<path d="M527,106 C529,96 534,90 542,88" fill="none" stroke="#d89040" stroke-width="2.2" opacity="0.5"/>
<rect x="518" y="100.5" width="9" height="1.3" fill="#222" stroke="none" stroke-width="1" />
<rect x="518" y="98.2" width="9" height="1" fill="#333" stroke="none" stroke-width="1" />
<rect x="466" y="23.7" width="76.2" height="84.6" fill="none" stroke="#e8a0b0" stroke-width="0.4" />
<polygon points="76.4,340.7 184.6,340.7 150.1,300.5 41.9,300.5" fill="#c2a862"/>
<polygon points="76.4,340.7 76.4,351.5 41.9,311.3 41.9,300.5" fill="#4a4a98"/>
<polygon points="76.4,340.7 76.4,342.2 41.9,302 41.9,300.5" fill="#8a4a70"/>
<rect x="76.4" y="340.7" width="108.2" height="10.8" fill="#6c72d8" stroke="none" stroke-width="1" />
<rect x="76.4" y="339.6" width="108.2" height="2" fill="#e2c070" stroke="none" stroke-width="1" />
<rect x="76.4" y="341.6" width="108.2" height="0.8" fill="#a85060" stroke="none" stroke-width="1" />
<polygon points="87.2,312.4 87.2,339.6 52.7,299.4 52.7,272.2" fill="#b49858"/>
<polygon points="87.2,312.4 87.2,325.5 52.7,285.3 52.7,272.2" fill="#8e6632"/>
<polygon points="87.2,312.4 173.2,312.4 143.7,272.2 52.7,272.2" fill="#c49a5c"/>
<line x1="104.4" y1="312.4" x2="70.9" y2="272.2" stroke="#5a4018" stroke-width="0.55" />
<line x1="105.4" y1="312.4" x2="71.9" y2="272.2" stroke="#e0c088" stroke-width="0.4" />
<line x1="121.6" y1="312.4" x2="89.1" y2="272.2" stroke="#5a4018" stroke-width="0.55" />
<line x1="122.6" y1="312.4" x2="90.1" y2="272.2" stroke="#e0c088" stroke-width="0.4" />
<line x1="138.8" y1="312.4" x2="107.3" y2="272.2" stroke="#5a4018" stroke-width="0.55" />
<line x1="139.8" y1="312.4" x2="108.3" y2="272.2" stroke="#e0c088" stroke-width="0.4" />
<line x1="156" y1="312.4" x2="125.5" y2="272.2" stroke="#5a4018" stroke-width="0.55" />
<line x1="157" y1="312.4" x2="126.5" y2="272.2" stroke="#e0c088" stroke-width="0.4" />
<rect x="87.2" y="312.4" width="86" height="27.6" fill="#e4c46a" stroke="none" stroke-width="1" />
<rect x="89.2" y="316" width="82" height="24" fill="#7a5cd0" stroke="none" stroke-width="1" />
<rect x="89.2" y="321" width="82" height="7" fill="#5c56c6" stroke="none" stroke-width="1" />
<rect x="89.2" y="328" width="82" height="11.6" fill="#4e40a8" stroke="none" stroke-width="1" />
<rect x="100" y="315.5" width="7.6" height="4.6" fill="#e4c46a" stroke="none" stroke-width="1" />
<rect x="117.2" y="315.5" width="7.6" height="4.6" fill="#e4c46a" stroke="none" stroke-width="1" />
<rect x="135.2" y="315.5" width="7.6" height="4.6" fill="#e4c46a" stroke="none" stroke-width="1" />
<rect x="153.2" y="315.5" width="7.6" height="4.6" fill="#e4c46a" stroke="none" stroke-width="1" />
<line x1="87.2" y1="312.4" x2="173.2" y2="312.4" stroke="#8a6a30" stroke-width="0.4" />
<polyline points="149,320 149,344.6 184,344.6" fill="none" stroke="#6a3a3a" stroke-width="0.6" stroke-dasharray="1,1.2"/>
<line x1="159" y1="320" x2="159" y2="344.6" stroke="#6a3a3a" stroke-width="0.5" stroke-dasharray="1,1.2"/>
<line x1="76.4" y1="351.5" x2="190.5" y2="351.5" stroke="#222" stroke-width="0.8" />
<polygon points="193,351.5 189,349.8 189,353.2" fill="#222"/>
<text x="193.2" y="356.2" font-family="Liberation Serif" font-size="9" font-weight="normal" text-anchor="start" fill="#222" font-style="italic">x</text>
<line x1="76.4" y1="351.5" x2="29.5" y2="299.5" stroke="#222" stroke-width="0.8" />
<polygon points="27.8,297.6 29.0,302.0 31.6,299.6" fill="#222"/>
<text x="28.6" y="292.2" font-family="Liberation Serif" font-size="9" font-weight="normal" text-anchor="start" fill="#222" font-style="italic">y</text>
<line x1="75.7" y1="340.7" x2="75.7" y2="299" stroke="#4a2a20" stroke-width="0.8" />
<polygon points="75.7,296.5 74.2,300.3 77.2,300.3" fill="#4a2a20"/>
<rect x="76.4" y="287.6" width="6.4" height="7.8" fill="#fff" stroke="none" stroke-width="1" />
<text x="79.6" y="294" font-family="Liberation Serif" font-size="8.5" font-weight="normal" text-anchor="middle" fill="#222" font-style="italic">z</text>
<line x1="88.7" y1="319" x2="88.7" y2="350.5" stroke="#1a3ad8" stroke-width="0.9" />
<polygon points="88.7,316.8 87.2,320.3 90.2,320.3" fill="#1a3ad8"/>
<polygon points="88.7,352 87.2,348.7 90.2,348.7" fill="#1a3ad8"/>
<rect x="79.2" y="326.8" width="6.8" height="9" fill="#fff" stroke="none" stroke-width="1" />
<text x="82.6" y="334.4" font-family="Liberation Serif" font-size="9" font-weight="normal" text-anchor="middle" fill="#222" font-style="italic">h</text>
<line x1="90.5" y1="310.6" x2="169" y2="310.6" stroke="#111" stroke-width="0.9" />
<polygon points="88.7,310.6 92.5,308.9 92.5,312.3" fill="#111"/>
<polygon points="170.8,310.6 167,308.9 167,312.3" fill="#111"/>
<rect x="122.8" y="299.4" width="10" height="7.6" fill="#fff" stroke="none" stroke-width="1" />
<text x="127.8" y="305.9" font-family="Liberation Serif" font-size="9" font-weight="normal" text-anchor="middle" fill="#222" font-style="italic">w</text>
<line x1="174" y1="316.5" x2="256" y2="285" stroke="#9a6a50" stroke-width="1.15" stroke-dasharray="1.1,2.3" stroke-linecap="round"/>
<line x1="186" y1="345.2" x2="254.5" y2="352.6" stroke="#9a6a50" stroke-width="1.15" stroke-dasharray="1.1,2.3" stroke-linecap="round"/>
<text x="258.3" y="280.4" font-family="Liberation Sans" font-size="7.3" font-weight="bold" text-anchor="start" fill="#222" >Conduction band</text>
<polyline points="258.5,283 258.5,295.1 330.4,295.1 330.4,305.5" fill="none" stroke="#222" stroke-width="0.9" />
<polyline points="330.4,311.7 330.4,314.6" fill="none" stroke="#222" stroke-width="0.9" />
<polyline points="330.4,322.7 330.4,327.4 326.5,327.4" fill="none" stroke="#222" stroke-width="0.9" />
<polyline points="326.5,333.5 330.4,333.5 330.4,343.6 258.5,343.6 258.5,356" fill="none" stroke="#222" stroke-width="0.9" />
<rect x="329.8" y="316.2" width="1.2" height="1.2" fill="#222" stroke="none" stroke-width="1" />
<rect x="329.8" y="319.6" width="1.2" height="1.2" fill="#222" stroke="none" stroke-width="1" />
<rect x="294.2" y="315.8" width="1.2" height="1.2" fill="#222" stroke="none" stroke-width="1" />
<rect x="294.2" y="319.3" width="1.2" height="1.2" fill="#222" stroke="none" stroke-width="1" />
<rect x="294.2" y="322.7" width="1.2" height="1.2" fill="#222" stroke="none" stroke-width="1" />
<rect x="259.3" y="305.5" width="67.2" height="6.2" fill="#fbe6e6" stroke="#222" stroke-width="0.8" />
<rect x="259.6" y="305.9" width="3.6" height="5.4" fill="#fff" stroke="none" stroke-width="1" />
<line x1="263.2" y1="308.6" x2="322.5" y2="308.6" stroke="#8a4a2a" stroke-width="1.0" />
<polygon points="324.5,308.6 320.8,307 320.8,310.2" fill="#8a4a2a"/>
<line x1="325.2" y1="305.8" x2="325.2" y2="311.4" stroke="#e03030" stroke-width="0.6" />
<rect x="259.3" y="327.4" width="67.2" height="6.2" fill="#fbe6e6" stroke="#222" stroke-width="0.8" />
<rect x="259.6" y="327.8" width="3.6" height="5.4" fill="#fff" stroke="none" stroke-width="1" />
<line x1="263.2" y1="330.5" x2="322.5" y2="330.5" stroke="#8a4a2a" stroke-width="1.0" />
<polygon points="324.5,330.5 320.8,328.9 320.8,332.1" fill="#8a4a2a"/>
<line x1="325.2" y1="327.7" x2="325.2" y2="333.3" stroke="#e03030" stroke-width="0.6" />
<text x="294.5" y="292.6" font-family="Liberation Sans" font-size="7.0" font-weight="bold" text-anchor="middle" fill="#222" >GaAs contact</text>
<text x="294.5" y="353.1" font-family="Liberation Sans" font-size="7.0" font-weight="bold" text-anchor="middle" fill="#222" >GaAs contact</text>
<text x="294.5" y="303.3" font-family="Liberation Sans" font-size="6.5" font-weight="bold" text-anchor="middle" fill="#222" >50 nm Al<tspan font-size="4" dy="1.5">0.21</tspan><tspan dy="-1.5">Ga</tspan><tspan font-size="4" dy="1.5">0.79</tspan><tspan dy="-1.5">As</tspan></text>
<text x="294.5" y="341.4" font-family="Liberation Sans" font-size="6.5" font-weight="bold" text-anchor="middle" fill="#222" >50 nm Al<tspan font-size="4" dy="1.5">0.21</tspan><tspan dy="-1.5">Ga</tspan><tspan font-size="4" dy="1.5">0.79</tspan><tspan dy="-1.5">As</tspan></text>
<text x="257.8" y="311.3" font-family="Liberation Sans" font-size="6.8" font-weight="bold" text-anchor="end" fill="#222" >6 nm GaAs</text>
<text x="257.8" y="333.2" font-family="Liberation Sans" font-size="6.8" font-weight="bold" text-anchor="end" fill="#222" >6 nm GaAs</text>
<rect x="392" y="279.2" width="128.2" height="66.6" fill="#c8f6f2" stroke="none" stroke-width="1" />
<rect x="395" y="280.8" width="2.7" height="63.4" fill="url(#h1)" stroke="none" stroke-width="1" />
<rect x="397" y="280.8" width="2.7" height="63.4" fill="url(#h2)" stroke="none" stroke-width="1" />
<rect x="399" y="280.8" width="2.7" height="63.4" fill="url(#h3)" stroke="none" stroke-width="1" />
<rect x="401" y="280.8" width="2.7" height="63.4" fill="url(#h4)" stroke="none" stroke-width="1" />
<rect x="403" y="280.8" width="2.7" height="63.4" fill="url(#h5)" stroke="none" stroke-width="1" />
<rect x="405" y="280.8" width="2.7" height="63.4" fill="url(#h6)" stroke="none" stroke-width="1" />
<rect x="407" y="280.8" width="2.7" height="63.4" fill="url(#h7)" stroke="none" stroke-width="1" />
<rect x="409" y="280.8" width="2.7" height="63.4" fill="url(#h8)" stroke="none" stroke-width="1" />
<rect x="411" y="280.8" width="2.7" height="63.4" fill="url(#h9)" stroke="none" stroke-width="1" />
<rect x="413" y="280.8" width="2.7" height="63.4" fill="url(#h10)" stroke="none" stroke-width="1" />
<rect x="415" y="280.8" width="2.7" height="63.4" fill="url(#h11)" stroke="none" stroke-width="1" />
<rect x="417" y="280.8" width="2.7" height="63.4" fill="url(#h12)" stroke="none" stroke-width="1" />
<rect x="419" y="280.8" width="2.7" height="63.4" fill="url(#h13)" stroke="none" stroke-width="1" />
<rect x="421" y="280.8" width="2.7" height="63.4" fill="url(#h14)" stroke="none" stroke-width="1" />
<rect x="423" y="280.8" width="2.7" height="63.4" fill="url(#h15)" stroke="none" stroke-width="1" />
<rect x="425" y="280.8" width="2.7" height="63.4" fill="url(#h16)" stroke="none" stroke-width="1" />
<rect x="427" y="280.8" width="2.7" height="63.4" fill="url(#h17)" stroke="none" stroke-width="1" />
<rect x="429" y="280.8" width="2.7" height="63.4" fill="url(#h18)" stroke="none" stroke-width="1" />
<rect x="431" y="280.8" width="2.7" height="63.4" fill="url(#h19)" stroke="none" stroke-width="1" />
<rect x="433" y="280.8" width="2.7" height="63.4" fill="url(#h20)" stroke="none" stroke-width="1" />
<rect x="435" y="280.8" width="2.7" height="63.4" fill="url(#h21)" stroke="none" stroke-width="1" />
<rect x="437" y="280.8" width="2.7" height="63.4" fill="url(#h22)" stroke="none" stroke-width="1" />
<rect x="439" y="280.8" width="2.7" height="63.4" fill="url(#h23)" stroke="none" stroke-width="1" />
<rect x="441" y="280.8" width="2.7" height="63.4" fill="url(#h24)" stroke="none" stroke-width="1" />
<rect x="443" y="280.8" width="2.7" height="63.4" fill="url(#h25)" stroke="none" stroke-width="1" />
<rect x="445" y="280.8" width="2.7" height="63.4" fill="url(#h26)" stroke="none" stroke-width="1" />
<rect x="447" y="280.8" width="2.7" height="63.4" fill="url(#h27)" stroke="none" stroke-width="1" />
<rect x="449" y="280.8" width="2.7" height="63.4" fill="url(#h28)" stroke="none" stroke-width="1" />
<rect x="451" y="280.8" width="2.7" height="63.4" fill="url(#h29)" stroke="none" stroke-width="1" />
<rect x="453" y="280.8" width="2.7" height="63.4" fill="url(#h30)" stroke="none" stroke-width="1" />
<rect x="455" y="280.8" width="2.7" height="63.4" fill="url(#h31)" stroke="none" stroke-width="1" />
<rect x="457" y="280.8" width="2.7" height="63.4" fill="url(#h32)" stroke="none" stroke-width="1" />
<rect x="459" y="280.8" width="2.7" height="63.4" fill="url(#h33)" stroke="none" stroke-width="1" />
<rect x="461" y="280.8" width="2.7" height="63.4" fill="url(#h34)" stroke="none" stroke-width="1" />
<rect x="463" y="280.8" width="2.7" height="63.4" fill="url(#h35)" stroke="none" stroke-width="1" />
<rect x="465" y="280.8" width="2.7" height="63.4" fill="url(#h36)" stroke="none" stroke-width="1" />
<rect x="467" y="280.8" width="2.7" height="63.4" fill="url(#h37)" stroke="none" stroke-width="1" />
<rect x="469" y="280.8" width="2.7" height="63.4" fill="url(#h38)" stroke="none" stroke-width="1" />
<rect x="471" y="280.8" width="2.7" height="63.4" fill="url(#h39)" stroke="none" stroke-width="1" />
<rect x="473" y="280.8" width="2.7" height="63.4" fill="url(#h40)" stroke="none" stroke-width="1" />
<rect x="475" y="280.8" width="2.7" height="63.4" fill="url(#h41)" stroke="none" stroke-width="1" />
<rect x="477" y="280.8" width="2.7" height="63.4" fill="url(#h42)" stroke="none" stroke-width="1" />
<rect x="479" y="280.8" width="2.7" height="63.4" fill="url(#h43)" stroke="none" stroke-width="1" />
<rect x="481" y="280.8" width="2.7" height="63.4" fill="url(#h44)" stroke="none" stroke-width="1" />
<rect x="483" y="280.8" width="2.7" height="63.4" fill="url(#h45)" stroke="none" stroke-width="1" />
<rect x="485" y="280.8" width="2.7" height="63.4" fill="url(#h46)" stroke="none" stroke-width="1" />
<rect x="487" y="280.8" width="2.7" height="63.4" fill="url(#h47)" stroke="none" stroke-width="1" />
<rect x="489" y="280.8" width="2.7" height="63.4" fill="url(#h48)" stroke="none" stroke-width="1" />
<rect x="491" y="280.8" width="2.7" height="63.4" fill="url(#h49)" stroke="none" stroke-width="1" />
<rect x="493" y="280.8" width="2.7" height="63.4" fill="url(#h50)" stroke="none" stroke-width="1" />
<rect x="495" y="280.8" width="2.7" height="63.4" fill="url(#h51)" stroke="none" stroke-width="1" />
<rect x="497" y="280.8" width="2.7" height="63.4" fill="url(#h52)" stroke="none" stroke-width="1" />
<rect x="499" y="280.8" width="2.7" height="63.4" fill="url(#h53)" stroke="none" stroke-width="1" />
<rect x="501" y="280.8" width="2.7" height="63.4" fill="url(#h54)" stroke="none" stroke-width="1" />
<rect x="503" y="280.8" width="2.7" height="63.4" fill="url(#h55)" stroke="none" stroke-width="1" />
<rect x="505" y="280.8" width="2.7" height="63.4" fill="url(#h56)" stroke="none" stroke-width="1" />
<rect x="507" y="280.8" width="2.7" height="63.4" fill="url(#h57)" stroke="none" stroke-width="1" />
<rect x="509" y="280.8" width="2.7" height="63.4" fill="url(#h58)" stroke="none" stroke-width="1" />
<rect x="511" y="280.8" width="2.7" height="63.4" fill="url(#h59)" stroke="none" stroke-width="1" />
<rect x="513" y="280.8" width="2.7" height="63.4" fill="url(#h60)" stroke="none" stroke-width="1" />
<rect x="515" y="280.8" width="2.7" height="63.4" fill="url(#h61)" stroke="none" stroke-width="1" />
<rect x="517" y="280.8" width="2" height="63.4" fill="url(#h62)" stroke="none" stroke-width="1" />
<rect x="397.5" y="283" width="119" height="5.2" fill="#e2d49a" fill-opacity="0.45"/>
<rect x="397.5" y="288.2" width="13" height="32.9" fill="#e2d49a" fill-opacity="0.45"/>
<rect x="503.5" y="288.2" width="13" height="32.9" fill="#e2d49a" fill-opacity="0.45"/>
<rect x="435.5" y="288.2" width="19" height="2.7" fill="#e2d49a" fill-opacity="0.45"/>
<rect x="485.5" y="288.2" width="19" height="2.7" fill="#e2d49a" fill-opacity="0.45"/>
<path d="M397.5,321.1 L397.5,283 L516.5,283 L516.5,321.1" fill="none" stroke="#a89860" stroke-width="0.5"/>
<path d="M410.5,321.1 L410.5,288.6 L503.5,288.6 L503.5,321.1" fill="none" stroke="#8a6a40" stroke-width="0.5"/>
<line x1="410.5" y1="300.9" x2="503.5" y2="300.9" stroke="#3a4a30" stroke-width="0.45" />
<line x1="410.5" y1="315.6" x2="503.5" y2="315.6" stroke="#3a4a30" stroke-width="0.45" />
<line x1="395" y1="321.1" x2="410.5" y2="321.1" stroke="#3a4a30" stroke-width="0.5" />
<line x1="503.5" y1="321.1" x2="519" y2="321.1" stroke="#3a4a30" stroke-width="0.5" />
<line x1="395" y1="332" x2="519" y2="332" stroke="#3a4a30" stroke-width="0.5" />
<text x="456.5" y="309.5" font-family="Liberation Serif" font-size="6.9" font-weight="bold" text-anchor="middle" fill="#111" >Mode (4,0,5)</text>
<text x="454.5" y="337.7" font-family="Liberation Serif" font-size="6.6" font-weight="normal" text-anchor="middle" fill="#222" >w=7.7&#956;m, <tspan font-style="italic">&#955;</tspan>=10.6&#956;m</text>
<rect x="526.4" y="288.7" width="9.8" height="4.8" fill="#ad1414" stroke="none" stroke-width="1" />
<rect x="526.4" y="293.4" width="9.8" height="4.8" fill="#fa1414" stroke="none" stroke-width="1" />
<rect x="526.4" y="298.1" width="9.8" height="4.8" fill="#fa6114" stroke="none" stroke-width="1" />
<rect x="526.4" y="302.9" width="9.8" height="4.8" fill="#faad14" stroke="none" stroke-width="1" />
<rect x="526.4" y="307.6" width="9.8" height="4.8" fill="#fafa14" stroke="none" stroke-width="1" />
<rect x="526.4" y="312.3" width="9.8" height="4.8" fill="#adfa61" stroke="none" stroke-width="1" />
<rect x="526.4" y="317" width="9.8" height="4.8" fill="#61faad" stroke="none" stroke-width="1" />
<rect x="526.4" y="321.8" width="9.8" height="4.8" fill="#14fafa" stroke="none" stroke-width="1" />
<rect x="526.4" y="326.5" width="9.8" height="4.8" fill="#14adfa" stroke="none" stroke-width="1" />
<rect x="526.4" y="331.2" width="9.8" height="4.8" fill="#1461fa" stroke="none" stroke-width="1" />
<rect x="526.4" y="335.9" width="9.8" height="4.8" fill="#1414fa" stroke="none" stroke-width="1" />
<rect x="526.4" y="340.7" width="9.8" height="4.8" fill="#1414ad" stroke="none" stroke-width="1" />
<rect x="526.4" y="288.7" width="9.8" height="56.7" fill="none" stroke="#555" stroke-width="0.3" />
<text x="541.8" y="293.3" font-family="Liberation Serif" font-size="6.8" font-weight="normal" text-anchor="middle" fill="#333" >4</text>
<text x="541.8" y="319.4" font-family="Liberation Serif" font-size="6.8" font-weight="normal" text-anchor="middle" fill="#333" >0</text>
<text x="541.8" y="346.4" font-family="Liberation Serif" font-size="6.8" font-weight="normal" text-anchor="middle" fill="#333" >-4</text>
<text x="534.3" y="287.5" font-family="Liberation Serif" font-size="8" font-weight="normal" text-anchor="middle" fill="#333" ><tspan font-style="italic">E</tspan>/<tspan font-style="italic">E</tspan><tspan font-size="4.2" dy="1.5">0</tspan></text>
<rect x="392" y="350.4" width="128.2" height="65.2" fill="#c8f6f2" stroke="none" stroke-width="1" />
<rect x="395" y="352" width="2.7" height="62" fill="url(#h63)" stroke="none" stroke-width="1" />
<rect x="397" y="352" width="2.7" height="62" fill="url(#h64)" stroke="none" stroke-width="1" />
<rect x="399" y="352" width="2.7" height="62" fill="url(#h65)" stroke="none" stroke-width="1" />
<rect x="401" y="352" width="2.7" height="62" fill="url(#h66)" stroke="none" stroke-width="1" />
<rect x="403" y="352" width="2.7" height="62" fill="url(#h67)" stroke="none" stroke-width="1" />
<rect x="405" y="352" width="2.7" height="62" fill="url(#h68)" stroke="none" stroke-width="1" />
<rect x="407" y="352" width="2.7" height="62" fill="url(#h69)" stroke="none" stroke-width="1" />
<rect x="409" y="352" width="2.7" height="62" fill="url(#h70)" stroke="none" stroke-width="1" />
<rect x="411" y="352" width="2.7" height="62" fill="url(#h71)" stroke="none" stroke-width="1" />
<rect x="413" y="352" width="2.7" height="62" fill="url(#h72)" stroke="none" stroke-width="1" />
<rect x="415" y="352" width="2.7" height="62" fill="url(#h73)" stroke="none" stroke-width="1" />
<rect x="417" y="352" width="2.7" height="62" fill="url(#h74)" stroke="none" stroke-width="1" />
<rect x="419" y="352" width="2.7" height="62" fill="url(#h75)" stroke="none" stroke-width="1" />
<rect x="421" y="352" width="2.7" height="62" fill="url(#h76)" stroke="none" stroke-width="1" />
<rect x="423" y="352" width="2.7" height="62" fill="url(#h77)" stroke="none" stroke-width="1" />
<rect x="425" y="352" width="2.7" height="62" fill="url(#h78)" stroke="none" stroke-width="1" />
<rect x="427" y="352" width="2.7" height="62" fill="url(#h79)" stroke="none" stroke-width="1" />
<rect x="429" y="352" width="2.7" height="62" fill="url(#h80)" stroke="none" stroke-width="1" />
<rect x="431" y="352" width="2.7" height="62" fill="url(#h81)" stroke="none" stroke-width="1" />
<rect x="433" y="352" width="2.7" height="62" fill="url(#h82)" stroke="none" stroke-width="1" />
<rect x="435" y="352" width="2.7" height="62" fill="url(#h83)" stroke="none" stroke-width="1" />
<rect x="437" y="352" width="2.7" height="62" fill="url(#h84)" stroke="none" stroke-width="1" />
<rect x="439" y="352" width="2.7" height="62" fill="url(#h85)" stroke="none" stroke-width="1" />
<rect x="441" y="352" width="2.7" height="62" fill="url(#h86)" stroke="none" stroke-width="1" />
<rect x="443" y="352" width="2.7" height="62" fill="url(#h87)" stroke="none" stroke-width="1" />
<rect x="445" y="352" width="2.7" height="62" fill="url(#h88)" stroke="none" stroke-width="1" />
<rect x="447" y="352" width="2.7" height="62" fill="url(#h89)" stroke="none" stroke-width="1" />
<rect x="449" y="352" width="2.7" height="62" fill="url(#h90)" stroke="none" stroke-width="1" />
<rect x="451" y="352" width="2.7" height="62" fill="url(#h91)" stroke="none" stroke-width="1" />
<rect x="453" y="352" width="2.7" height="62" fill="url(#h92)" stroke="none" stroke-width="1" />
<rect x="455" y="352" width="2.7" height="62" fill="url(#h93)" stroke="none" stroke-width="1" />
<rect x="457" y="352" width="2.7" height="62" fill="url(#h94)" stroke="none" stroke-width="1" />
<rect x="459" y="352" width="2.7" height="62" fill="url(#h95)" stroke="none" stroke-width="1" />
<rect x="461" y="352" width="2.7" height="62" fill="url(#h96)" stroke="none" stroke-width="1" />
<rect x="463" y="352" width="2.7" height="62" fill="url(#h97)" stroke="none" stroke-width="1" />
<rect x="465" y="352" width="2.7" height="62" fill="url(#h98)" stroke="none" stroke-width="1" />
<rect x="467" y="352" width="2.7" height="62" fill="url(#h99)" stroke="none" stroke-width="1" />
<rect x="469" y="352" width="2.7" height="62" fill="url(#h100)" stroke="none" stroke-width="1" />
<rect x="471" y="352" width="2.7" height="62" fill="url(#h101)" stroke="none" stroke-width="1" />
<rect x="473" y="352" width="2.7" height="62" fill="url(#h102)" stroke="none" stroke-width="1" />
<rect x="475" y="352" width="2.7" height="62" fill="url(#h103)" stroke="none" stroke-width="1" />
<rect x="477" y="352" width="2.7" height="62" fill="url(#h104)" stroke="none" stroke-width="1" />
<rect x="479" y="352" width="2.7" height="62" fill="url(#h105)" stroke="none" stroke-width="1" />
<rect x="481" y="352" width="2.7" height="62" fill="url(#h106)" stroke="none" stroke-width="1" />
<rect x="483" y="352" width="2.7" height="62" fill="url(#h107)" stroke="none" stroke-width="1" />
<rect x="485" y="352" width="2.7" height="62" fill="url(#h108)" stroke="none" stroke-width="1" />
<rect x="487" y="352" width="2.7" height="62" fill="url(#h109)" stroke="none" stroke-width="1" />
<rect x="489" y="352" width="2.7" height="62" fill="url(#h110)" stroke="none" stroke-width="1" />
<rect x="491" y="352" width="2.7" height="62" fill="url(#h111)" stroke="none" stroke-width="1" />
<rect x="493" y="352" width="2.7" height="62" fill="url(#h112)" stroke="none" stroke-width="1" />
<rect x="495" y="352" width="2.7" height="62" fill="url(#h113)" stroke="none" stroke-width="1" />
<rect x="497" y="352" width="2.7" height="62" fill="url(#h114)" stroke="none" stroke-width="1" />
<rect x="499" y="352" width="2.7" height="62" fill="url(#h115)" stroke="none" stroke-width="1" />
<rect x="501" y="352" width="2.7" height="62" fill="url(#h116)" stroke="none" stroke-width="1" />
<rect x="503" y="352" width="2.7" height="62" fill="url(#h117)" stroke="none" stroke-width="1" />
<rect x="505" y="352" width="2.7" height="62" fill="url(#h118)" stroke="none" stroke-width="1" />
<rect x="507" y="352" width="2.7" height="62" fill="url(#h119)" stroke="none" stroke-width="1" />
<rect x="509" y="352" width="2.7" height="62" fill="url(#h120)" stroke="none" stroke-width="1" />
<rect x="511" y="352" width="2.7" height="62" fill="url(#h121)" stroke="none" stroke-width="1" />
<rect x="513" y="352" width="2.7" height="62" fill="url(#h122)" stroke="none" stroke-width="1" />
<rect x="515" y="352" width="2.7" height="62" fill="url(#h123)" stroke="none" stroke-width="1" />
<rect x="517" y="352" width="2" height="62" fill="url(#h124)" stroke="none" stroke-width="1" />
<rect x="397.5" y="354.2" width="119" height="5.6" fill="#e2d49a" fill-opacity="0.45"/>
<rect x="397.5" y="359.8" width="7.5" height="23.5" fill="#e2d49a" fill-opacity="0.45"/>
<rect x="509" y="359.8" width="7.5" height="23.5" fill="#e2d49a" fill-opacity="0.45"/>
<rect x="423.4" y="359.8" width="13.3" height="2.9" fill="#e2d49a" fill-opacity="0.45"/>
<rect x="460.9" y="359.8" width="13.3" height="2.9" fill="#e2d49a" fill-opacity="0.45"/>
<rect x="495.9" y="359.8" width="13.3" height="2.9" fill="#e2d49a" fill-opacity="0.45"/>
<path d="M397.5,383.3 L397.5,354.2 L516.5,354.2 L516.5,383.3" fill="none" stroke="#a89860" stroke-width="0.5"/>
<path d="M405,383.3 L405,360.2 L509,360.2 L509,383.3" fill="none" stroke="#8a6a40" stroke-width="0.5"/>
<line x1="405" y1="365.8" x2="509" y2="365.8" stroke="#3a4a30" stroke-width="0.45" />
<line x1="405" y1="377.7" x2="509" y2="377.7" stroke="#3a4a30" stroke-width="0.45" />
<line x1="395" y1="383.3" x2="405" y2="383.3" stroke="#3a4a30" stroke-width="0.5" />
<line x1="509" y1="383.3" x2="519" y2="383.3" stroke="#3a4a30" stroke-width="0.5" />
<line x1="395" y1="389.7" x2="519" y2="389.7" stroke="#3a4a30" stroke-width="0.5" />
<text x="456.5" y="374.5" font-family="Liberation Serif" font-size="6.9" font-weight="bold" text-anchor="middle" fill="#111" >Mode (6,0,5)</text>
<text x="454.5" y="403" font-family="Liberation Serif" font-size="6.6" font-weight="normal" text-anchor="middle" fill="#222" >w=11.6&#956;m, <tspan font-style="italic">&#955;</tspan>=10.6&#956;m</text>
<rect x="526.4" y="358.9" width="9.8" height="4.7" fill="#ad1414" stroke="none" stroke-width="1" />
<rect x="526.4" y="363.5" width="9.8" height="4.7" fill="#fa1414" stroke="none" stroke-width="1" />
<rect x="526.4" y="368" width="9.8" height="4.7" fill="#fa6114" stroke="none" stroke-width="1" />
<rect x="526.4" y="372.6" width="9.8" height="4.7" fill="#faad14" stroke="none" stroke-width="1" />
<rect x="526.4" y="377.1" width="9.8" height="4.7" fill="#fafa14" stroke="none" stroke-width="1" />
<rect x="526.4" y="381.7" width="9.8" height="4.7" fill="#adfa61" stroke="none" stroke-width="1" />
<rect x="526.4" y="386.2" width="9.8" height="4.7" fill="#61faad" stroke="none" stroke-width="1" />
<rect x="526.4" y="390.8" width="9.8" height="4.7" fill="#14fafa" stroke="none" stroke-width="1" />
<rect x="526.4" y="395.4" width="9.8" height="4.7" fill="#14adfa" stroke="none" stroke-width="1" />
<rect x="526.4" y="399.9" width="9.8" height="4.7" fill="#1461fa" stroke="none" stroke-width="1" />
<rect x="526.4" y="404.5" width="9.8" height="4.7" fill="#1414fa" stroke="none" stroke-width="1" />
<rect x="526.4" y="409" width="9.8" height="4.7" fill="#1414ad" stroke="none" stroke-width="1" />
<rect x="526.4" y="358.9" width="9.8" height="54.7" fill="none" stroke="#555" stroke-width="0.3" />
<text x="541.8" y="363.5" font-family="Liberation Serif" font-size="6.8" font-weight="normal" text-anchor="middle" fill="#333" >4</text>
<text x="541.8" y="388.6" font-family="Liberation Serif" font-size="6.8" font-weight="normal" text-anchor="middle" fill="#333" >0</text>
<text x="541.8" y="414.6" font-family="Liberation Serif" font-size="6.8" font-weight="normal" text-anchor="middle" fill="#333" >-4</text>
<text x="534.3" y="357.7" font-family="Liberation Serif" font-size="8" font-weight="normal" text-anchor="middle" fill="#333" ><tspan font-style="italic">E</tspan>/<tspan font-style="italic">E</tspan><tspan font-size="4.2" dy="1.5">0</tspan></text>
<rect x="392" y="419.8" width="128.7" height="69.4" fill="#c8f6f2" stroke="none" stroke-width="1" />
<rect x="395" y="421.4" width="2.7" height="66.2" fill="url(#h125)" stroke="none" stroke-width="1" />
<rect x="397" y="421.4" width="2.7" height="66.2" fill="url(#h126)" stroke="none" stroke-width="1" />
<rect x="399" y="421.4" width="2.7" height="66.2" fill="url(#h127)" stroke="none" stroke-width="1" />
<rect x="401" y="421.4" width="2.7" height="66.2" fill="url(#h128)" stroke="none" stroke-width="1" />
<rect x="403" y="421.4" width="2.7" height="66.2" fill="url(#h129)" stroke="none" stroke-width="1" />
<rect x="405" y="421.4" width="2.7" height="66.2" fill="url(#h130)" stroke="none" stroke-width="1" />
<rect x="407" y="421.4" width="2.7" height="66.2" fill="url(#h131)" stroke="none" stroke-width="1" />
<rect x="409" y="421.4" width="2.7" height="66.2" fill="url(#h132)" stroke="none" stroke-width="1" />
<rect x="411" y="421.4" width="2.7" height="66.2" fill="url(#h133)" stroke="none" stroke-width="1" />
<rect x="413" y="421.4" width="2.7" height="66.2" fill="url(#h134)" stroke="none" stroke-width="1" />
<rect x="415" y="421.4" width="2.7" height="66.2" fill="url(#h135)" stroke="none" stroke-width="1" />
<rect x="417" y="421.4" width="2.7" height="66.2" fill="url(#h136)" stroke="none" stroke-width="1" />
<rect x="419" y="421.4" width="2.7" height="66.2" fill="url(#h137)" stroke="none" stroke-width="1" />
<rect x="421" y="421.4" width="2.7" height="66.2" fill="url(#h138)" stroke="none" stroke-width="1" />
<rect x="423" y="421.4" width="2.7" height="66.2" fill="url(#h139)" stroke="none" stroke-width="1" />
<rect x="425" y="421.4" width="2.7" height="66.2" fill="url(#h140)" stroke="none" stroke-width="1" />
<rect x="427" y="421.4" width="2.7" height="66.2" fill="url(#h141)" stroke="none" stroke-width="1" />
<rect x="429" y="421.4" width="2.7" height="66.2" fill="url(#h142)" stroke="none" stroke-width="1" />
<rect x="431" y="421.4" width="2.7" height="66.2" fill="url(#h143)" stroke="none" stroke-width="1" />
<rect x="433" y="421.4" width="2.7" height="66.2" fill="url(#h144)" stroke="none" stroke-width="1" />
<rect x="435" y="421.4" width="2.7" height="66.2" fill="url(#h145)" stroke="none" stroke-width="1" />
<rect x="437" y="421.4" width="2.7" height="66.2" fill="url(#h146)" stroke="none" stroke-width="1" />
<rect x="439" y="421.4" width="2.7" height="66.2" fill="url(#h147)" stroke="none" stroke-width="1" />
<rect x="441" y="421.4" width="2.7" height="66.2" fill="url(#h148)" stroke="none" stroke-width="1" />
<rect x="443" y="421.4" width="2.7" height="66.2" fill="url(#h149)" stroke="none" stroke-width="1" />
<rect x="445" y="421.4" width="2.7" height="66.2" fill="url(#h150)" stroke="none" stroke-width="1" />
<rect x="447" y="421.4" width="2.7" height="66.2" fill="url(#h151)" stroke="none" stroke-width="1" />
<rect x="449" y="421.4" width="2.7" height="66.2" fill="url(#h152)" stroke="none" stroke-width="1" />
<rect x="451" y="421.4" width="2.7" height="66.2" fill="url(#h153)" stroke="none" stroke-width="1" />
<rect x="453" y="421.4" width="2.7" height="66.2" fill="url(#h154)" stroke="none" stroke-width="1" />
<rect x="455" y="421.4" width="2.7" height="66.2" fill="url(#h155)" stroke="none" stroke-width="1" />
<rect x="457" y="421.4" width="2.7" height="66.2" fill="url(#h156)" stroke="none" stroke-width="1" />
<rect x="459" y="421.4" width="2.7" height="66.2" fill="url(#h157)" stroke="none" stroke-width="1" />
<rect x="461" y="421.4" width="2.7" height="66.2" fill="url(#h158)" stroke="none" stroke-width="1" />
<rect x="463" y="421.4" width="2.7" height="66.2" fill="url(#h159)" stroke="none" stroke-width="1" />
<rect x="465" y="421.4" width="2.7" height="66.2" fill="url(#h160)" stroke="none" stroke-width="1" />
<rect x="467" y="421.4" width="2.7" height="66.2" fill="url(#h161)" stroke="none" stroke-width="1" />
<rect x="469" y="421.4" width="2.7" height="66.2" fill="url(#h162)" stroke="none" stroke-width="1" />
<rect x="471" y="421.4" width="2.7" height="66.2" fill="url(#h163)" stroke="none" stroke-width="1" />
<rect x="473" y="421.4" width="2.7" height="66.2" fill="url(#h164)" stroke="none" stroke-width="1" />
<rect x="475" y="421.4" width="2.7" height="66.2" fill="url(#h165)" stroke="none" stroke-width="1" />
<rect x="477" y="421.4" width="2.7" height="66.2" fill="url(#h166)" stroke="none" stroke-width="1" />
<rect x="479" y="421.4" width="2.7" height="66.2" fill="url(#h167)" stroke="none" stroke-width="1" />
<rect x="481" y="421.4" width="2.7" height="66.2" fill="url(#h168)" stroke="none" stroke-width="1" />
<rect x="483" y="421.4" width="2.7" height="66.2" fill="url(#h169)" stroke="none" stroke-width="1" />
<rect x="485" y="421.4" width="2.7" height="66.2" fill="url(#h170)" stroke="none" stroke-width="1" />
<rect x="487" y="421.4" width="2.7" height="66.2" fill="url(#h171)" stroke="none" stroke-width="1" />
<rect x="489" y="421.4" width="2.7" height="66.2" fill="url(#h172)" stroke="none" stroke-width="1" />
<rect x="491" y="421.4" width="2.7" height="66.2" fill="url(#h173)" stroke="none" stroke-width="1" />
<rect x="493" y="421.4" width="2.7" height="66.2" fill="url(#h174)" stroke="none" stroke-width="1" />
<rect x="495" y="421.4" width="2.7" height="66.2" fill="url(#h175)" stroke="none" stroke-width="1" />
<rect x="497" y="421.4" width="2.7" height="66.2" fill="url(#h176)" stroke="none" stroke-width="1" />
<rect x="499" y="421.4" width="2.7" height="66.2" fill="url(#h177)" stroke="none" stroke-width="1" />
<rect x="501" y="421.4" width="2.7" height="66.2" fill="url(#h178)" stroke="none" stroke-width="1" />
<rect x="503" y="421.4" width="2.7" height="66.2" fill="url(#h179)" stroke="none" stroke-width="1" />
<rect x="505" y="421.4" width="2.7" height="66.2" fill="url(#h180)" stroke="none" stroke-width="1" />
<rect x="507" y="421.4" width="2.7" height="66.2" fill="url(#h181)" stroke="none" stroke-width="1" />
<rect x="509" y="421.4" width="2.7" height="66.2" fill="url(#h182)" stroke="none" stroke-width="1" />
<rect x="511" y="421.4" width="2.7" height="66.2" fill="url(#h183)" stroke="none" stroke-width="1" />
<rect x="513" y="421.4" width="2.7" height="66.2" fill="url(#h184)" stroke="none" stroke-width="1" />
<rect x="515" y="421.4" width="2.7" height="66.2" fill="url(#h185)" stroke="none" stroke-width="1" />
<rect x="517" y="421.4" width="2.7" height="66.2" fill="url(#h186)" stroke="none" stroke-width="1" />
<rect x="519" y="421.4" width="0.5" height="66.2" fill="url(#h187)" stroke="none" stroke-width="1" />
<rect x="397.5" y="423.6" width="119.5" height="5.8" fill="#e2d49a" fill-opacity="0.45"/>
<rect x="397.5" y="429.4" width="5.5" height="22.8" fill="#e2d49a" fill-opacity="0.45"/>
<rect x="511.5" y="429.4" width="5.5" height="22.8" fill="#e2d49a" fill-opacity="0.45"/>
<rect x="410.7" y="429.4" width="6.1" height="2.9" fill="#e2d49a" fill-opacity="0.45"/>
<rect x="429.8" y="429.4" width="6.1" height="2.9" fill="#e2d49a" fill-opacity="0.45"/>
<rect x="448.9" y="429.4" width="6.1" height="2.9" fill="#e2d49a" fill-opacity="0.45"/>
<rect x="468" y="429.4" width="6.1" height="2.9" fill="#e2d49a" fill-opacity="0.45"/>
<rect x="487.1" y="429.4" width="6.1" height="2.9" fill="#e2d49a" fill-opacity="0.45"/>
<rect x="506.2" y="429.4" width="6.1" height="2.9" fill="#e2d49a" fill-opacity="0.45"/>
<path d="M397.5,452.2 L397.5,423.6 L517,423.6 L517,452.2" fill="none" stroke="#a89860" stroke-width="0.5"/>
<path d="M403,452.2 L403,429.8 L511.5,429.8 L511.5,452.2" fill="none" stroke="#8a6a40" stroke-width="0.5"/>
<line x1="403" y1="445.7" x2="511.5" y2="445.7" stroke="#3a4a30" stroke-width="0.45" />
<line x1="395" y1="452.2" x2="403" y2="452.2" stroke="#3a4a30" stroke-width="0.5" />
<line x1="511.5" y1="452.2" x2="519.5" y2="452.2" stroke="#3a4a30" stroke-width="0.5" />
<line x1="395" y1="456.9" x2="519.5" y2="456.9" stroke="#3a4a30" stroke-width="0.5" />
<text x="456.8" y="443.6" font-family="Liberation Serif" font-size="6.9" font-weight="bold" text-anchor="middle" fill="#111" >Mode (12,0,5)</text>
<text x="454.8" y="473" font-family="Liberation Serif" font-size="6.6" font-weight="normal" text-anchor="middle" fill="#222" >w=23.1&#956;m, <tspan font-style="italic">&#955;</tspan>=10.6&#956;m</text>
<rect x="526.4" y="427.4" width="9.8" height="4.9" fill="#ad1414" stroke="none" stroke-width="1" />
<rect x="526.4" y="432.2" width="9.8" height="4.9" fill="#fa1414" stroke="none" stroke-width="1" />
<rect x="526.4" y="437.1" width="9.8" height="4.9" fill="#fa6114" stroke="none" stroke-width="1" />
<rect x="526.4" y="441.9" width="9.8" height="4.9" fill="#faad14" stroke="none" stroke-width="1" />
<rect x="526.4" y="446.8" width="9.8" height="4.9" fill="#fafa14" stroke="none" stroke-width="1" />
<rect x="526.4" y="451.6" width="9.8" height="4.9" fill="#adfa61" stroke="none" stroke-width="1" />
<rect x="526.4" y="456.4" width="9.8" height="4.9" fill="#61faad" stroke="none" stroke-width="1" />
<rect x="526.4" y="461.3" width="9.8" height="4.9" fill="#14fafa" stroke="none" stroke-width="1" />
<rect x="526.4" y="466.1" width="9.8" height="4.9" fill="#14adfa" stroke="none" stroke-width="1" />
<rect x="526.4" y="471" width="9.8" height="4.9" fill="#1461fa" stroke="none" stroke-width="1" />
<rect x="526.4" y="475.8" width="9.8" height="4.9" fill="#1414fa" stroke="none" stroke-width="1" />
<rect x="526.4" y="480.7" width="9.8" height="4.9" fill="#1414ad" stroke="none" stroke-width="1" />
<rect x="526.4" y="427.4" width="9.8" height="58.1" fill="none" stroke="#555" stroke-width="0.3" />
<text x="541.8" y="432" font-family="Liberation Serif" font-size="6.8" font-weight="normal" text-anchor="middle" fill="#333" >4</text>
<text x="541.8" y="458.8" font-family="Liberation Serif" font-size="6.8" font-weight="normal" text-anchor="middle" fill="#333" >0</text>
<text x="541.8" y="486.5" font-family="Liberation Serif" font-size="6.8" font-weight="normal" text-anchor="middle" fill="#333" >-4</text>
<text x="534.3" y="426.2" font-family="Liberation Serif" font-size="8" font-weight="normal" text-anchor="middle" fill="#333" ><tspan font-style="italic">E</tspan>/<tspan font-style="italic">E</tspan><tspan font-size="4.2" dy="1.5">0</tspan></text>
<text x="11.5" y="16.7" font-family="Liberation Serif" font-size="15.8" fill="#111">(<tspan font-weight="bold" font-size="17.5">a</tspan>)</text>
<text x="166.7" y="16.7" font-family="Liberation Serif" font-size="15.8" fill="#111">(<tspan font-weight="bold" font-size="17.5">b</tspan>)</text>
<text x="309.7" y="16.7" font-family="Liberation Serif" font-size="15.8" fill="#111">(<tspan font-weight="bold" font-size="17.5">c</tspan>)</text>
<text x="10.8" y="140.4" font-family="Liberation Serif" font-size="15.8" fill="#111">(<tspan font-weight="bold" font-size="17.5">d</tspan>)</text>
<text x="173.7" y="140.4" font-family="Liberation Serif" font-size="15.8" fill="#111">(<tspan font-weight="bold" font-size="17.5">e</tspan>)</text>
<text x="347.2" y="139.6" font-family="Liberation Serif" font-size="15.8" fill="#111">(<tspan font-weight="bold" font-size="17.5">f</tspan>)</text>
<text x="10.2" y="280.6" font-family="Liberation Serif" font-size="15.8" fill="#111">(<tspan font-weight="bold" font-size="17.5">g</tspan>)</text>
<text x="356.2" y="294.6" font-family="Liberation Serif" font-size="15.8" fill="#111">(<tspan font-weight="bold" font-size="17.5">h</tspan>)</text>
<text x="6" y="364.6" font-family="Liberation Serif" font-size="15.8" fill="#111">(<tspan font-weight="bold" font-size="17.5">i</tspan>)</text>
<text x="193.2" y="373.6" font-family="Liberation Serif" font-size="15.8" fill="#111">(<tspan font-weight="bold" font-size="17.5">j</tspan>)</text>
</svg></body></html>
